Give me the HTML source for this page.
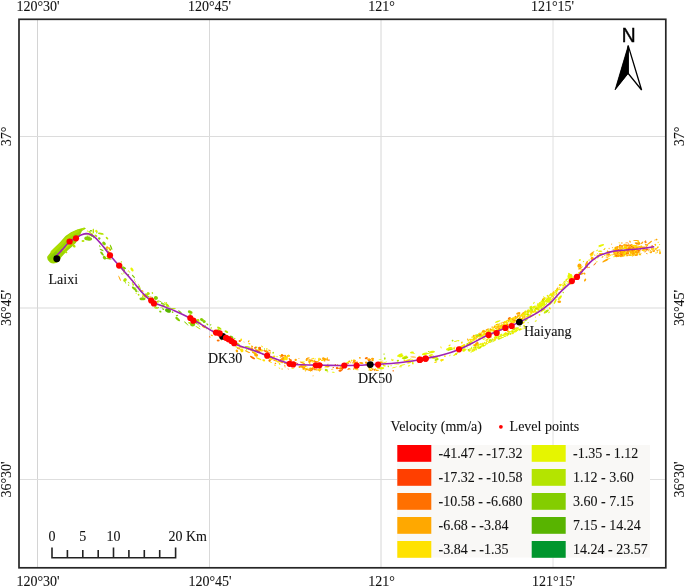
<!DOCTYPE html>
<html><head><meta charset="utf-8"><style>
html,body{margin:0;padding:0;background:#fff;}
svg{display:block;will-change:transform;}
text{font-family:"Liberation Serif",serif;font-size:14px;fill:#111;stroke:#111;stroke-width:0.08px;}
</style></head><body>
<svg width="685" height="588" viewBox="0 0 685 588">
<rect width="685" height="588" fill="#fff"/>
<g stroke-width="1">
<line x1="37.5" y1="20" x2="37.5" y2="567" stroke="#d4d4d4"/>
<line x1="209.5" y1="20" x2="209.5" y2="567" stroke="#d9d9d9"/>
<line x1="381" y1="20" x2="381" y2="567" stroke="#d6d6d6"/>
<line x1="553" y1="20" x2="553" y2="567" stroke="#e0e0e0"/>
<line x1="20" y1="136.5" x2="665" y2="136.5" stroke="#dcdcdc"/>
<line x1="20" y1="308" x2="665" y2="308" stroke="#d9d9d9"/>
<line x1="20" y1="479.5" x2="665" y2="479.5" stroke="#dedede"/>
</g>
<rect x="397" y="445" width="253" height="112.5" fill="#f9f8f6"/>
<!-- green band near Laixi -->
<path d="M47.3 256.5 L53.7 248.6 L60 242.3 L65.5 236.1 L71 232.2 L77.2 229.4 L84.3 227.5 L86 228.5 L82 231 L79.6 236 L75.8 243.1 L72.2 246.6 L66.5 251.4 L61.3 257.3 L59 261.5 Q54 265 50 262.5 Q46.5 260 47.3 256.5 Z" fill="#9dd500"/>
<path d="M52 252 L60 245 L66 239 L72 234 L78 231" stroke="#b2e000" stroke-width="3" fill="none" stroke-linecap="round" opacity="0.8"/>
<path d="M50 259 L56 253" stroke="#86cc00" stroke-width="3" fill="none" stroke-linecap="round" opacity="0.8"/>
<path d="M63 250 L70 244" stroke="#c2e800" stroke-width="2" fill="none" stroke-linecap="round" opacity="0.8"/>
<ellipse cx="89.7" cy="235.8" rx="0.5" ry="1.2" transform="rotate(51 89.7 235.8)" fill="#b4e400"/><ellipse cx="93.7" cy="237.5" rx="0.5" ry="0.9" transform="rotate(28 93.7 237.5)" fill="#84cd00"/><ellipse cx="89.8" cy="232.3" rx="1.6" ry="0.4" transform="rotate(10 89.8 232.3)" fill="#e6f500"/><ellipse cx="95.9" cy="235.7" rx="1.6" ry="0.9" transform="rotate(31 95.9 235.7)" fill="#b4e400"/><ellipse cx="89.6" cy="231.8" rx="1.2" ry="0.5" transform="rotate(9 89.6 231.8)" fill="#84cd00"/><ellipse cx="96.9" cy="232.4" rx="0.5" ry="1.2" transform="rotate(25 96.9 232.4)" fill="#84cd00"/><ellipse cx="88.1" cy="236.9" rx="1.6" ry="0.4" transform="rotate(25 88.1 236.9)" fill="#84cd00"/><ellipse cx="96.3" cy="231.0" rx="1.2" ry="1.2" transform="rotate(28 96.3 231.0)" fill="#e6f500"/><ellipse cx="91.6" cy="234.1" rx="3.0" ry="0.5" transform="rotate(43 91.6 234.1)" fill="#b4e400"/><ellipse cx="90.9" cy="230.8" rx="1.2" ry="0.7" transform="rotate(12 90.9 230.8)" fill="#84cd00"/><ellipse cx="87.6" cy="231.1" rx="0.9" ry="0.5" transform="rotate(11 87.6 231.1)" fill="#e6f500"/><ellipse cx="91.8" cy="235.6" rx="1.6" ry="1.2" transform="rotate(32 91.8 235.6)" fill="#84cd00"/><ellipse cx="99.3" cy="238.4" rx="1.2" ry="1.2" transform="rotate(59 99.3 238.4)" fill="#84cd00"/><ellipse cx="86.8" cy="234.8" rx="2.2" ry="0.4" transform="rotate(18 86.8 234.8)" fill="#b4e400"/><ellipse cx="100.8" cy="233.7" rx="3.0" ry="0.9" transform="rotate(10 100.8 233.7)" fill="#b4e400"/><ellipse cx="92.1" cy="234.0" rx="1.2" ry="0.7" transform="rotate(31 92.1 234.0)" fill="#b4e400"/><ellipse cx="102.1" cy="252.9" rx="0.7" ry="0.5" transform="rotate(61 102.1 252.9)" fill="#84cd00"/><ellipse cx="147.1" cy="294.7" rx="1.2" ry="1.2" transform="rotate(43 147.1 294.7)" fill="#b4e400"/><ellipse cx="109.6" cy="249.1" rx="2.2" ry="0.9" transform="rotate(60 109.6 249.1)" fill="#ffa800"/><ellipse cx="135.4" cy="281.9" rx="0.5" ry="0.5" transform="rotate(57 135.4 281.9)" fill="#b4e400"/><ellipse cx="128.6" cy="285.1" rx="0.7" ry="0.7" transform="rotate(52 128.6 285.1)" fill="#b4e400"/><ellipse cx="110.5" cy="249.3" rx="0.9" ry="0.5" transform="rotate(48 110.5 249.3)" fill="#84cd00"/><ellipse cx="128.3" cy="271.0" rx="0.5" ry="0.9" transform="rotate(34 128.3 271.0)" fill="#e6f500"/><ellipse cx="136.1" cy="291.1" rx="1.2" ry="0.9" transform="rotate(31 136.1 291.1)" fill="#84cd00"/><ellipse cx="105.7" cy="248.7" rx="0.5" ry="0.5" transform="rotate(48 105.7 248.7)" fill="#84cd00"/><ellipse cx="106.4" cy="248.8" rx="1.6" ry="0.5" transform="rotate(48 106.4 248.8)" fill="#84cd00"/><ellipse cx="148.0" cy="296.9" rx="0.7" ry="1.2" transform="rotate(39 148.0 296.9)" fill="#84cd00"/><ellipse cx="128.7" cy="282.6" rx="1.2" ry="0.4" transform="rotate(44 128.7 282.6)" fill="#b4e400"/><ellipse cx="121.9" cy="273.9" rx="0.9" ry="0.4" transform="rotate(46 121.9 273.9)" fill="#b4e400"/><ellipse cx="137.6" cy="286.7" rx="2.2" ry="0.5" transform="rotate(33 137.6 286.7)" fill="#84cd00"/><ellipse cx="108.2" cy="257.4" rx="2.2" ry="1.2" transform="rotate(44 108.2 257.4)" fill="#e6f500"/><ellipse cx="138.9" cy="286.6" rx="0.5" ry="0.7" transform="rotate(70 138.9 286.6)" fill="#84cd00"/><ellipse cx="146.3" cy="294.7" rx="1.6" ry="1.2" transform="rotate(51 146.3 294.7)" fill="#b4e400"/><ellipse cx="108.7" cy="258.8" rx="3.0" ry="0.5" transform="rotate(8 108.7 258.8)" fill="#84cd00"/><ellipse cx="141.0" cy="290.9" rx="1.6" ry="0.9" transform="rotate(39 141.0 290.9)" fill="#b4e400"/><ellipse cx="99.7" cy="246.0" rx="0.9" ry="0.5" transform="rotate(50 99.7 246.0)" fill="#84cd00"/><ellipse cx="152.4" cy="293.0" rx="0.9" ry="0.7" transform="rotate(55 152.4 293.0)" fill="#b4e400"/><ellipse cx="107.2" cy="247.4" rx="1.2" ry="1.2" transform="rotate(55 107.2 247.4)" fill="#ffa800"/><ellipse cx="125.5" cy="282.8" rx="0.9" ry="0.4" transform="rotate(50 125.5 282.8)" fill="#84cd00"/><ellipse cx="108.9" cy="247.9" rx="0.7" ry="0.9" transform="rotate(67 108.9 247.9)" fill="#e6f500"/><ellipse cx="122.3" cy="268.0" rx="2.2" ry="0.9" transform="rotate(44 122.3 268.0)" fill="#84cd00"/><ellipse cx="136.0" cy="287.5" rx="0.7" ry="0.4" transform="rotate(54 136.0 287.5)" fill="#b4e400"/><ellipse cx="144.8" cy="295.9" rx="3.0" ry="1.2" transform="rotate(35 144.8 295.9)" fill="#ffa800"/><ellipse cx="134.6" cy="280.0" rx="0.7" ry="0.4" transform="rotate(65 134.6 280.0)" fill="#b4e400"/><ellipse cx="150.0" cy="297.0" rx="0.7" ry="0.9" transform="rotate(28 150.0 297.0)" fill="#ffa800"/><ellipse cx="109.3" cy="255.3" rx="0.7" ry="0.7" transform="rotate(50 109.3 255.3)" fill="#84cd00"/><ellipse cx="139.5" cy="286.6" rx="3.0" ry="0.5" transform="rotate(67 139.5 286.6)" fill="#b4e400"/><ellipse cx="134.3" cy="288.6" rx="3.0" ry="1.2" transform="rotate(37 134.3 288.6)" fill="#84cd00"/><ellipse cx="148.4" cy="293.4" rx="1.6" ry="1.2" transform="rotate(43 148.4 293.4)" fill="#b4e400"/><ellipse cx="121.9" cy="269.0" rx="3.0" ry="0.5" transform="rotate(50 121.9 269.0)" fill="#b4e400"/><ellipse cx="124.1" cy="270.4" rx="0.9" ry="1.2" transform="rotate(30 124.1 270.4)" fill="#84cd00"/><ellipse cx="123.4" cy="272.0" rx="0.5" ry="0.5" transform="rotate(18 123.4 272.0)" fill="#b4e400"/><ellipse cx="100.0" cy="246.8" rx="0.5" ry="0.4" transform="rotate(62 100.0 246.8)" fill="#84cd00"/><ellipse cx="133.4" cy="276.4" rx="2.2" ry="0.7" transform="rotate(49 133.4 276.4)" fill="#84cd00"/><ellipse cx="132.0" cy="269.5" rx="2.2" ry="1.2" transform="rotate(54 132.0 269.5)" fill="#e6f500"/><ellipse cx="147.3" cy="297.1" rx="0.7" ry="0.9" transform="rotate(62 147.3 297.1)" fill="#b4e400"/><ellipse cx="106.9" cy="249.6" rx="0.7" ry="0.9" transform="rotate(54 106.9 249.6)" fill="#b4e400"/><ellipse cx="132.4" cy="283.0" rx="0.7" ry="0.7" transform="rotate(19 132.4 283.0)" fill="#b4e400"/><ellipse cx="142.7" cy="296.0" rx="0.5" ry="0.9" transform="rotate(41 142.7 296.0)" fill="#e6f500"/><ellipse cx="109.0" cy="252.3" rx="2.2" ry="0.9" transform="rotate(43 109.0 252.3)" fill="#ffa800"/><ellipse cx="122.1" cy="265.2" rx="0.5" ry="0.7" transform="rotate(55 122.1 265.2)" fill="#b4e400"/><ellipse cx="128.1" cy="275.0" rx="0.9" ry="1.2" transform="rotate(50 128.1 275.0)" fill="#84cd00"/><ellipse cx="119.6" cy="278.3" rx="3.0" ry="0.5" transform="rotate(66 119.6 278.3)" fill="#ffa800"/><ellipse cx="105.3" cy="249.1" rx="3.0" ry="0.5" transform="rotate(56 105.3 249.1)" fill="#b4e400"/><ellipse cx="111.1" cy="247.2" rx="3.0" ry="0.7" transform="rotate(68 111.1 247.2)" fill="#84cd00"/><ellipse cx="129.5" cy="272.1" rx="0.9" ry="0.4" transform="rotate(47 129.5 272.1)" fill="#b4e400"/><ellipse cx="138.0" cy="291.5" rx="0.9" ry="0.4" transform="rotate(79 138.0 291.5)" fill="#84cd00"/><ellipse cx="136.2" cy="293.3" rx="0.5" ry="0.7" transform="rotate(65 136.2 293.3)" fill="#e6f500"/><ellipse cx="124.2" cy="268.3" rx="0.9" ry="1.2" transform="rotate(65 124.2 268.3)" fill="#b4e400"/><ellipse cx="126.3" cy="273.9" rx="0.7" ry="0.7" transform="rotate(56 126.3 273.9)" fill="#b4e400"/><ellipse cx="110.8" cy="254.8" rx="3.0" ry="0.5" transform="rotate(60 110.8 254.8)" fill="#b4e400"/><ellipse cx="124.1" cy="273.1" rx="0.5" ry="0.7" transform="rotate(61 124.1 273.1)" fill="#b4e400"/><ellipse cx="107.0" cy="238.2" rx="1.6" ry="0.9" transform="rotate(46 107.0 238.2)" fill="#b4e400"/><ellipse cx="124.1" cy="267.7" rx="2.2" ry="0.9" transform="rotate(30 124.1 267.7)" fill="#84cd00"/><ellipse cx="142.7" cy="296.6" rx="0.7" ry="0.5" transform="rotate(41 142.7 296.6)" fill="#b4e400"/><ellipse cx="142.5" cy="291.0" rx="1.2" ry="0.7" transform="rotate(29 142.5 291.0)" fill="#ffa800"/><ellipse cx="138.6" cy="294.8" rx="0.9" ry="0.9" transform="rotate(52 138.6 294.8)" fill="#b4e400"/><ellipse cx="101.6" cy="249.9" rx="2.2" ry="0.7" transform="rotate(27 101.6 249.9)" fill="#84cd00"/><ellipse cx="133.2" cy="284.7" rx="0.9" ry="0.9" transform="rotate(53 133.2 284.7)" fill="#b4e400"/><ellipse cx="121.3" cy="261.9" rx="0.9" ry="0.5" transform="rotate(87 121.3 261.9)" fill="#b4e400"/><ellipse cx="143.9" cy="294.7" rx="0.9" ry="0.9" transform="rotate(52 143.9 294.7)" fill="#b4e400"/><ellipse cx="167.8" cy="306.7" rx="3.0" ry="0.4" transform="rotate(12 167.8 306.7)" fill="#b4e400"/><ellipse cx="199.4" cy="326.1" rx="1.2" ry="0.4" transform="rotate(47 199.4 326.1)" fill="#b4e400"/><ellipse cx="186.3" cy="323.5" rx="3.0" ry="0.5" transform="rotate(44 186.3 323.5)" fill="#84cd00"/><ellipse cx="193.3" cy="322.3" rx="0.9" ry="0.9" transform="rotate(19 193.3 322.3)" fill="#b4e400"/><ellipse cx="195.2" cy="320.2" rx="3.0" ry="1.2" transform="rotate(26 195.2 320.2)" fill="#84cd00"/><ellipse cx="195.2" cy="321.6" rx="1.6" ry="1.2" transform="rotate(22 195.2 321.6)" fill="#84cd00"/><ellipse cx="198.0" cy="327.7" rx="3.0" ry="0.5" transform="rotate(34 198.0 327.7)" fill="#b4e400"/><ellipse cx="155.6" cy="297.7" rx="1.2" ry="0.9" transform="rotate(8 155.6 297.7)" fill="#84cd00"/><ellipse cx="190.3" cy="314.6" rx="1.2" ry="0.7" transform="rotate(9 190.3 314.6)" fill="#b4e400"/><ellipse cx="199.5" cy="323.3" rx="1.6" ry="0.4" transform="rotate(12 199.5 323.3)" fill="#84cd00"/><ellipse cx="154.2" cy="302.5" rx="0.5" ry="0.7" transform="rotate(10 154.2 302.5)" fill="#b4e400"/><ellipse cx="196.6" cy="322.3" rx="1.2" ry="0.9" transform="rotate(51 196.6 322.3)" fill="#84cd00"/><ellipse cx="154.0" cy="304.9" rx="0.5" ry="1.2" transform="rotate(15 154.0 304.9)" fill="#84cd00"/><ellipse cx="163.1" cy="303.9" rx="2.2" ry="0.7" transform="rotate(14 163.1 303.9)" fill="#84cd00"/><ellipse cx="159.5" cy="301.1" rx="2.2" ry="0.4" transform="rotate(23 159.5 301.1)" fill="#84cd00"/><ellipse cx="192.3" cy="318.2" rx="1.2" ry="0.9" transform="rotate(47 192.3 318.2)" fill="#84cd00"/><ellipse cx="156.8" cy="305.4" rx="0.5" ry="0.9" transform="rotate(15 156.8 305.4)" fill="#b4e400"/><ellipse cx="177.0" cy="315.6" rx="1.2" ry="0.7" transform="rotate(-11 177.0 315.6)" fill="#84cd00"/><ellipse cx="206.3" cy="328.7" rx="0.5" ry="0.5" transform="rotate(29 206.3 328.7)" fill="#84cd00"/><ellipse cx="167.2" cy="305.1" rx="2.2" ry="1.2" transform="rotate(38 167.2 305.1)" fill="#b4e400"/><ellipse cx="157.8" cy="301.7" rx="1.2" ry="0.9" transform="rotate(34 157.8 301.7)" fill="#b4e400"/><ellipse cx="152.2" cy="297.3" rx="0.9" ry="0.5" transform="rotate(38 152.2 297.3)" fill="#84cd00"/><ellipse cx="172.6" cy="312.1" rx="0.9" ry="0.7" transform="rotate(31 172.6 312.1)" fill="#84cd00"/><ellipse cx="155.9" cy="308.0" rx="2.2" ry="0.7" transform="rotate(11 155.9 308.0)" fill="#b4e400"/><ellipse cx="155.7" cy="298.3" rx="0.5" ry="0.7" transform="rotate(40 155.7 298.3)" fill="#e6f500"/><ellipse cx="196.1" cy="323.1" rx="0.5" ry="0.7" transform="rotate(20 196.1 323.1)" fill="#84cd00"/><ellipse cx="158.1" cy="307.6" rx="0.9" ry="0.5" transform="rotate(18 158.1 307.6)" fill="#84cd00"/><ellipse cx="199.0" cy="322.3" rx="3.0" ry="0.9" transform="rotate(31 199.0 322.3)" fill="#e6f500"/><ellipse cx="210.7" cy="324.8" rx="0.5" ry="0.9" transform="rotate(24 210.7 324.8)" fill="#84cd00"/><ellipse cx="197.4" cy="320.4" rx="0.5" ry="1.2" transform="rotate(20 197.4 320.4)" fill="#b4e400"/><ellipse cx="179.9" cy="311.7" rx="2.2" ry="0.7" transform="rotate(36 179.9 311.7)" fill="#84cd00"/><ellipse cx="166.4" cy="302.8" rx="0.5" ry="0.5" transform="rotate(24 166.4 302.8)" fill="#84cd00"/><ellipse cx="156.6" cy="297.8" rx="1.6" ry="0.5" transform="rotate(21 156.6 297.8)" fill="#84cd00"/><ellipse cx="170.6" cy="309.4" rx="1.6" ry="0.5" transform="rotate(6 170.6 309.4)" fill="#b4e400"/><ellipse cx="161.7" cy="303.0" rx="0.9" ry="0.7" transform="rotate(17 161.7 303.0)" fill="#84cd00"/><ellipse cx="160.3" cy="311.6" rx="1.2" ry="0.9" transform="rotate(26 160.3 311.6)" fill="#84cd00"/><ellipse cx="163.3" cy="305.6" rx="1.2" ry="0.7" transform="rotate(47 163.3 305.6)" fill="#84cd00"/><ellipse cx="172.9" cy="308.6" rx="3.0" ry="0.5" transform="rotate(5 172.9 308.6)" fill="#b4e400"/><ellipse cx="207.3" cy="324.3" rx="1.2" ry="0.7" transform="rotate(46 207.3 324.3)" fill="#84cd00"/><ellipse cx="203.7" cy="326.8" rx="2.2" ry="0.9" transform="rotate(32 203.7 326.8)" fill="#ffa800"/><ellipse cx="177.7" cy="319.1" rx="3.0" ry="1.2" transform="rotate(40 177.7 319.1)" fill="#84cd00"/><ellipse cx="210.3" cy="329.9" rx="0.7" ry="0.5" transform="rotate(39 210.3 329.9)" fill="#84cd00"/><ellipse cx="190.1" cy="323.2" rx="2.2" ry="0.9" transform="rotate(21 190.1 323.2)" fill="#b4e400"/><ellipse cx="197.4" cy="323.9" rx="1.6" ry="0.4" transform="rotate(29 197.4 323.9)" fill="#84cd00"/><ellipse cx="168.2" cy="310.0" rx="2.2" ry="0.9" transform="rotate(30 168.2 310.0)" fill="#84cd00"/><ellipse cx="155.8" cy="306.9" rx="1.6" ry="0.5" transform="rotate(29 155.8 306.9)" fill="#84cd00"/><ellipse cx="164.0" cy="306.2" rx="0.9" ry="0.9" transform="rotate(21 164.0 306.2)" fill="#b4e400"/><ellipse cx="169.2" cy="309.9" rx="1.6" ry="0.5" transform="rotate(12 169.2 309.9)" fill="#84cd00"/><ellipse cx="154.0" cy="298.2" rx="0.5" ry="0.4" transform="rotate(48 154.0 298.2)" fill="#b4e400"/><ellipse cx="205.2" cy="325.9" rx="0.7" ry="0.9" transform="rotate(27 205.2 325.9)" fill="#e6f500"/><ellipse cx="163.1" cy="309.1" rx="1.2" ry="0.7" transform="rotate(25 163.1 309.1)" fill="#84cd00"/><ellipse cx="161.7" cy="307.2" rx="1.6" ry="0.4" transform="rotate(-2 161.7 307.2)" fill="#b4e400"/><ellipse cx="211.2" cy="328.0" rx="0.7" ry="0.9" transform="rotate(57 211.2 328.0)" fill="#b4e400"/><ellipse cx="198.2" cy="320.2" rx="1.2" ry="1.2" transform="rotate(65 198.2 320.2)" fill="#b4e400"/><ellipse cx="165.3" cy="303.0" rx="1.6" ry="0.5" transform="rotate(33 165.3 303.0)" fill="#e6f500"/><ellipse cx="211.7" cy="335.4" rx="1.2" ry="0.4" transform="rotate(31 211.7 335.4)" fill="#ff7000"/><ellipse cx="219.2" cy="329.8" rx="0.9" ry="0.4" transform="rotate(35 219.2 329.8)" fill="#ffe200"/><ellipse cx="238.4" cy="344.2" rx="1.6" ry="0.9" transform="rotate(28 238.4 344.2)" fill="#b4e400"/><ellipse cx="231.6" cy="339.3" rx="0.9" ry="0.9" transform="rotate(40 231.6 339.3)" fill="#b4e400"/><ellipse cx="212.4" cy="330.5" rx="0.5" ry="1.2" transform="rotate(45 212.4 330.5)" fill="#ffe200"/><ellipse cx="219.4" cy="331.0" rx="3.0" ry="0.9" transform="rotate(49 219.4 331.0)" fill="#b4e400"/><ellipse cx="231.1" cy="342.9" rx="1.2" ry="0.5" transform="rotate(47 231.1 342.9)" fill="#b4e400"/><ellipse cx="234.7" cy="338.7" rx="0.7" ry="0.9" transform="rotate(33 234.7 338.7)" fill="#b4e400"/><ellipse cx="209.7" cy="336.9" rx="0.9" ry="0.5" transform="rotate(44 209.7 336.9)" fill="#ff7000"/><ellipse cx="237.6" cy="343.5" rx="1.6" ry="0.4" transform="rotate(30 237.6 343.5)" fill="#b4e400"/><ellipse cx="232.5" cy="341.1" rx="0.5" ry="1.2" transform="rotate(41 232.5 341.1)" fill="#ffe200"/><ellipse cx="229.4" cy="341.2" rx="0.7" ry="0.4" transform="rotate(28 229.4 341.2)" fill="#ffa800"/><ellipse cx="237.8" cy="348.0" rx="0.9" ry="0.9" transform="rotate(15 237.8 348.0)" fill="#ff7000"/><ellipse cx="215.9" cy="332.7" rx="2.2" ry="0.7" transform="rotate(28 215.9 332.7)" fill="#ff7000"/><ellipse cx="234.7" cy="341.1" rx="0.9" ry="0.9" transform="rotate(21 234.7 341.1)" fill="#ffa800"/><ellipse cx="233.0" cy="344.6" rx="3.0" ry="0.5" transform="rotate(34 233.0 344.6)" fill="#b4e400"/><ellipse cx="212.1" cy="335.3" rx="0.9" ry="0.5" transform="rotate(32 212.1 335.3)" fill="#ffe200"/><ellipse cx="236.0" cy="346.8" rx="0.5" ry="0.5" transform="rotate(19 236.0 346.8)" fill="#b4e400"/><ellipse cx="226.4" cy="337.8" rx="0.7" ry="0.5" transform="rotate(14 226.4 337.8)" fill="#ffa800"/><ellipse cx="230.5" cy="338.5" rx="3.0" ry="0.4" transform="rotate(8 230.5 338.5)" fill="#ff7000"/><ellipse cx="220.4" cy="335.0" rx="0.9" ry="0.7" transform="rotate(39 220.4 335.0)" fill="#b4e400"/><ellipse cx="218.9" cy="334.7" rx="1.6" ry="0.5" transform="rotate(36 218.9 334.7)" fill="#b4e400"/><ellipse cx="221.3" cy="340.0" rx="0.7" ry="0.4" transform="rotate(29 221.3 340.0)" fill="#ffa800"/><ellipse cx="238.8" cy="348.2" rx="3.0" ry="0.5" transform="rotate(30 238.8 348.2)" fill="#ffe200"/><ellipse cx="236.8" cy="347.1" rx="0.5" ry="0.4" transform="rotate(23 236.8 347.1)" fill="#b4e400"/><ellipse cx="241.2" cy="339.8" rx="0.9" ry="1.2" transform="rotate(2 241.2 339.8)" fill="#ffe200"/><ellipse cx="224.7" cy="337.4" rx="0.5" ry="0.4" transform="rotate(56 224.7 337.4)" fill="#ffa800"/><ellipse cx="232.1" cy="341.5" rx="0.9" ry="0.5" transform="rotate(33 232.1 341.5)" fill="#b4e400"/><ellipse cx="288.2" cy="369.0" rx="0.7" ry="0.4" transform="rotate(25 288.2 369.0)" fill="#ff7000"/><ellipse cx="261.7" cy="350.0" rx="0.5" ry="0.5" transform="rotate(36 261.7 350.0)" fill="#ffa800"/><ellipse cx="266.1" cy="351.4" rx="3.0" ry="0.9" transform="rotate(23 266.1 351.4)" fill="#ff7000"/><ellipse cx="249.4" cy="343.7" rx="1.2" ry="0.7" transform="rotate(15 249.4 343.7)" fill="#ffe200"/><ellipse cx="255.3" cy="347.8" rx="0.9" ry="1.2" transform="rotate(56 255.3 347.8)" fill="#ff3f00"/><ellipse cx="258.6" cy="358.7" rx="3.0" ry="0.7" transform="rotate(24 258.6 358.7)" fill="#ffe200"/><ellipse cx="262.0" cy="346.3" rx="1.2" ry="0.5" transform="rotate(41 262.0 346.3)" fill="#ffe200"/><ellipse cx="283.0" cy="355.1" rx="1.2" ry="0.5" transform="rotate(36 283.0 355.1)" fill="#ffa800"/><ellipse cx="241.3" cy="350.4" rx="1.2" ry="0.4" transform="rotate(41 241.3 350.4)" fill="#ffe200"/><ellipse cx="286.4" cy="362.4" rx="0.9" ry="0.7" transform="rotate(10 286.4 362.4)" fill="#ffa800"/><ellipse cx="247.5" cy="351.7" rx="3.0" ry="0.5" transform="rotate(25 247.5 351.7)" fill="#ffa800"/><ellipse cx="279.4" cy="368.1" rx="0.9" ry="0.4" transform="rotate(28 279.4 368.1)" fill="#ffe200"/><ellipse cx="270.2" cy="361.8" rx="2.2" ry="0.5" transform="rotate(32 270.2 361.8)" fill="#ffe200"/><ellipse cx="284.0" cy="358.1" rx="0.7" ry="0.9" transform="rotate(5 284.0 358.1)" fill="#ffa800"/><ellipse cx="252.0" cy="346.3" rx="1.2" ry="0.7" transform="rotate(30 252.0 346.3)" fill="#ffa800"/><ellipse cx="252.7" cy="348.9" rx="0.5" ry="1.2" transform="rotate(-12 252.7 348.9)" fill="#ff7000"/><ellipse cx="274.1" cy="356.6" rx="1.2" ry="1.2" transform="rotate(9 274.1 356.6)" fill="#ffe200"/><ellipse cx="282.2" cy="362.1" rx="0.9" ry="1.2" transform="rotate(-2 282.2 362.1)" fill="#ffa800"/><ellipse cx="260.5" cy="350.1" rx="0.7" ry="0.4" transform="rotate(34 260.5 350.1)" fill="#ffa800"/><ellipse cx="290.5" cy="360.1" rx="1.6" ry="0.9" transform="rotate(22 290.5 360.1)" fill="#ff7000"/><ellipse cx="280.9" cy="359.6" rx="0.9" ry="0.9" transform="rotate(22 280.9 359.6)" fill="#ffa800"/><ellipse cx="281.8" cy="355.6" rx="0.5" ry="0.5" transform="rotate(18 281.8 355.6)" fill="#ffa800"/><ellipse cx="276.4" cy="359.9" rx="0.5" ry="1.2" transform="rotate(2 276.4 359.9)" fill="#e6f500"/><ellipse cx="272.6" cy="357.9" rx="0.5" ry="1.2" transform="rotate(17 272.6 357.9)" fill="#ff7000"/><ellipse cx="279.6" cy="363.9" rx="1.2" ry="0.7" transform="rotate(59 279.6 363.9)" fill="#e6f500"/><ellipse cx="284.8" cy="365.4" rx="0.7" ry="0.4" transform="rotate(42 284.8 365.4)" fill="#ff7000"/><ellipse cx="270.5" cy="356.9" rx="1.6" ry="0.7" transform="rotate(33 270.5 356.9)" fill="#e6f500"/><ellipse cx="262.9" cy="353.8" rx="1.2" ry="0.5" transform="rotate(60 262.9 353.8)" fill="#ffe200"/><ellipse cx="270.7" cy="357.3" rx="0.7" ry="0.5" transform="rotate(35 270.7 357.3)" fill="#ffe200"/><ellipse cx="272.0" cy="356.9" rx="1.2" ry="0.5" transform="rotate(33 272.0 356.9)" fill="#ff7000"/><ellipse cx="253.2" cy="350.5" rx="3.0" ry="0.7" transform="rotate(15 253.2 350.5)" fill="#b4e400"/><ellipse cx="264.5" cy="349.0" rx="0.5" ry="0.7" transform="rotate(18 264.5 349.0)" fill="#b4e400"/><ellipse cx="273.2" cy="352.7" rx="0.9" ry="0.9" transform="rotate(37 273.2 352.7)" fill="#b4e400"/><ellipse cx="270.2" cy="352.7" rx="1.2" ry="0.5" transform="rotate(40 270.2 352.7)" fill="#ffa800"/><ellipse cx="275.0" cy="365.2" rx="0.9" ry="0.7" transform="rotate(28 275.0 365.2)" fill="#ffe200"/><ellipse cx="290.6" cy="359.4" rx="0.9" ry="0.4" transform="rotate(8 290.6 359.4)" fill="#ff7000"/><ellipse cx="251.5" cy="348.4" rx="1.2" ry="1.2" transform="rotate(40 251.5 348.4)" fill="#ffa800"/><ellipse cx="244.0" cy="342.0" rx="0.5" ry="0.4" transform="rotate(21 244.0 342.0)" fill="#ffa800"/><ellipse cx="268.8" cy="354.8" rx="1.6" ry="0.5" transform="rotate(37 268.8 354.8)" fill="#ffe200"/><ellipse cx="254.3" cy="353.1" rx="3.0" ry="0.9" transform="rotate(32 254.3 353.1)" fill="#ffa800"/><ellipse cx="240.1" cy="347.6" rx="1.2" ry="0.4" transform="rotate(-3 240.1 347.6)" fill="#ffa800"/><ellipse cx="247.7" cy="346.9" rx="3.0" ry="0.7" transform="rotate(9 247.7 346.9)" fill="#b4e400"/><ellipse cx="241.7" cy="349.7" rx="1.6" ry="1.2" transform="rotate(-9 241.7 349.7)" fill="#ffe200"/><ellipse cx="286.9" cy="362.5" rx="0.5" ry="0.4" transform="rotate(8 286.9 362.5)" fill="#ffa800"/><ellipse cx="241.0" cy="346.9" rx="3.0" ry="0.4" transform="rotate(28 241.0 346.9)" fill="#ffa800"/><ellipse cx="266.9" cy="357.5" rx="0.7" ry="1.2" transform="rotate(17 266.9 357.5)" fill="#ffe200"/><ellipse cx="266.8" cy="351.2" rx="0.7" ry="1.2" transform="rotate(-0 266.8 351.2)" fill="#ffa800"/><ellipse cx="252.5" cy="357.6" rx="3.0" ry="0.9" transform="rotate(30 252.5 357.6)" fill="#ff7000"/><ellipse cx="239.2" cy="348.9" rx="1.2" ry="0.4" transform="rotate(-1 239.2 348.9)" fill="#ff7000"/><ellipse cx="262.5" cy="354.2" rx="0.7" ry="0.4" transform="rotate(28 262.5 354.2)" fill="#ffa800"/><ellipse cx="282.1" cy="369.0" rx="0.9" ry="0.4" transform="rotate(3 282.1 369.0)" fill="#ffa800"/><ellipse cx="269.6" cy="350.5" rx="1.6" ry="0.7" transform="rotate(31 269.6 350.5)" fill="#ffa800"/><ellipse cx="286.1" cy="363.7" rx="1.6" ry="0.4" transform="rotate(15 286.1 363.7)" fill="#ffa800"/><ellipse cx="284.8" cy="363.4" rx="0.7" ry="0.7" transform="rotate(10 284.8 363.4)" fill="#ffa800"/><ellipse cx="260.4" cy="350.2" rx="3.0" ry="1.2" transform="rotate(12 260.4 350.2)" fill="#ffe200"/><ellipse cx="282.7" cy="359.0" rx="1.2" ry="0.5" transform="rotate(-9 282.7 359.0)" fill="#ffe200"/><ellipse cx="255.0" cy="352.3" rx="0.5" ry="1.2" transform="rotate(41 255.0 352.3)" fill="#e6f500"/><ellipse cx="246.7" cy="349.8" rx="0.7" ry="0.7" transform="rotate(21 246.7 349.8)" fill="#b4e400"/><ellipse cx="274.4" cy="360.3" rx="2.2" ry="0.4" transform="rotate(22 274.4 360.3)" fill="#ff7000"/><ellipse cx="275.4" cy="363.3" rx="0.9" ry="0.5" transform="rotate(28 275.4 363.3)" fill="#ff7000"/><ellipse cx="280.7" cy="361.7" rx="3.0" ry="0.9" transform="rotate(15 280.7 361.7)" fill="#ffa800"/><ellipse cx="250.1" cy="350.0" rx="3.0" ry="0.4" transform="rotate(22 250.1 350.0)" fill="#ff7000"/><ellipse cx="271.7" cy="357.0" rx="0.5" ry="0.5" transform="rotate(27 271.7 357.0)" fill="#ffa800"/><ellipse cx="256.9" cy="351.5" rx="0.9" ry="0.4" transform="rotate(35 256.9 351.5)" fill="#ff7000"/><ellipse cx="259.8" cy="348.7" rx="1.6" ry="0.9" transform="rotate(56 259.8 348.7)" fill="#ff3f00"/><ellipse cx="269.7" cy="360.4" rx="1.2" ry="1.2" transform="rotate(23 269.7 360.4)" fill="#ff7000"/><ellipse cx="257.8" cy="350.8" rx="0.7" ry="0.4" transform="rotate(3 257.8 350.8)" fill="#ffe200"/><ellipse cx="255.8" cy="347.1" rx="0.9" ry="0.4" transform="rotate(28 255.8 347.1)" fill="#ffa800"/><ellipse cx="266.8" cy="348.9" rx="0.7" ry="0.9" transform="rotate(22 266.8 348.9)" fill="#ffe200"/><ellipse cx="289.3" cy="358.8" rx="0.7" ry="0.7" transform="rotate(17 289.3 358.8)" fill="#ff7000"/><ellipse cx="286.8" cy="363.0" rx="2.2" ry="0.4" transform="rotate(28 286.8 363.0)" fill="#ffe200"/><ellipse cx="290.1" cy="362.2" rx="0.9" ry="0.7" transform="rotate(16 290.1 362.2)" fill="#ffa800"/><ellipse cx="285.0" cy="366.9" rx="1.2" ry="0.4" transform="rotate(3 285.0 366.9)" fill="#ffa800"/><ellipse cx="256.6" cy="347.4" rx="0.7" ry="0.9" transform="rotate(29 256.6 347.4)" fill="#b4e400"/><ellipse cx="270.9" cy="358.9" rx="1.6" ry="1.2" transform="rotate(17 270.9 358.9)" fill="#ffe200"/><ellipse cx="257.8" cy="351.1" rx="3.0" ry="0.9" transform="rotate(29 257.8 351.1)" fill="#ff7000"/><ellipse cx="276.5" cy="361.0" rx="3.0" ry="0.7" transform="rotate(34 276.5 361.0)" fill="#ffe200"/><ellipse cx="248.7" cy="341.3" rx="0.7" ry="1.2" transform="rotate(27 248.7 341.3)" fill="#ffa800"/><ellipse cx="255.8" cy="349.2" rx="0.7" ry="0.5" transform="rotate(-7 255.8 349.2)" fill="#b4e400"/><ellipse cx="277.0" cy="356.6" rx="0.7" ry="0.7" transform="rotate(12 277.0 356.6)" fill="#e6f500"/><ellipse cx="313.1" cy="375.9" rx="0.7" ry="0.4" transform="rotate(-13 313.1 375.9)" fill="#ffa800"/><ellipse cx="303.6" cy="366.6" rx="0.9" ry="0.9" transform="rotate(11 303.6 366.6)" fill="#ffa800"/><ellipse cx="299.7" cy="367.0" rx="1.2" ry="0.9" transform="rotate(-2 299.7 367.0)" fill="#ffa800"/><ellipse cx="325.9" cy="366.6" rx="1.6" ry="0.7" transform="rotate(-21 325.9 366.6)" fill="#ffe200"/><ellipse cx="302.8" cy="362.0" rx="2.2" ry="0.5" transform="rotate(-8 302.8 362.0)" fill="#e6f500"/><ellipse cx="328.8" cy="360.1" rx="1.2" ry="0.5" transform="rotate(-10 328.8 360.1)" fill="#ff7000"/><ellipse cx="348.8" cy="369.0" rx="1.6" ry="0.5" transform="rotate(-16 348.8 369.0)" fill="#ff7000"/><ellipse cx="347.7" cy="362.5" rx="2.2" ry="0.4" transform="rotate(3 347.7 362.5)" fill="#e6f500"/><ellipse cx="311.9" cy="360.5" rx="0.7" ry="0.7" transform="rotate(15 311.9 360.5)" fill="#ff3f00"/><ellipse cx="333.3" cy="372.2" rx="1.6" ry="0.5" transform="rotate(5 333.3 372.2)" fill="#e6f500"/><ellipse cx="319.4" cy="371.7" rx="0.5" ry="0.4" transform="rotate(3 319.4 371.7)" fill="#ffa800"/><ellipse cx="309.6" cy="363.1" rx="0.7" ry="1.2" transform="rotate(-35 309.6 363.1)" fill="#ffe200"/><ellipse cx="366.1" cy="362.6" rx="1.2" ry="1.2" transform="rotate(-1 366.1 362.6)" fill="#ffa800"/><ellipse cx="361.3" cy="363.0" rx="2.2" ry="0.9" transform="rotate(9 361.3 363.0)" fill="#ffa800"/><ellipse cx="351.5" cy="360.7" rx="0.5" ry="1.2" transform="rotate(15 351.5 360.7)" fill="#ffe200"/><ellipse cx="295.1" cy="363.7" rx="0.5" ry="0.4" transform="rotate(19 295.1 363.7)" fill="#ffe200"/><ellipse cx="327.9" cy="364.2" rx="0.9" ry="0.4" transform="rotate(-12 327.9 364.2)" fill="#ffa800"/><ellipse cx="356.8" cy="369.3" rx="0.7" ry="0.9" transform="rotate(-8 356.8 369.3)" fill="#ffe200"/><ellipse cx="304.8" cy="366.0" rx="3.0" ry="0.5" transform="rotate(-1 304.8 366.0)" fill="#ffe200"/><ellipse cx="340.6" cy="366.8" rx="0.9" ry="0.9" transform="rotate(39 340.6 366.8)" fill="#ffe200"/><ellipse cx="316.5" cy="363.3" rx="3.0" ry="0.9" transform="rotate(-1 316.5 363.3)" fill="#ffe200"/><ellipse cx="366.5" cy="364.5" rx="0.9" ry="0.9" transform="rotate(10 366.5 364.5)" fill="#ff7000"/><ellipse cx="333.3" cy="367.5" rx="0.9" ry="0.5" transform="rotate(-24 333.3 367.5)" fill="#ff7000"/><ellipse cx="318.9" cy="360.2" rx="0.5" ry="0.7" transform="rotate(3 318.9 360.2)" fill="#ffa800"/><ellipse cx="317.3" cy="364.0" rx="1.6" ry="0.7" transform="rotate(5 317.3 364.0)" fill="#ff7000"/><ellipse cx="302.6" cy="367.2" rx="0.5" ry="0.4" transform="rotate(-17 302.6 367.2)" fill="#ffa800"/><ellipse cx="296.6" cy="363.1" rx="1.6" ry="0.5" transform="rotate(24 296.6 363.1)" fill="#ff3f00"/><ellipse cx="306.8" cy="359.0" rx="0.7" ry="0.9" transform="rotate(9 306.8 359.0)" fill="#ff7000"/><ellipse cx="305.0" cy="368.6" rx="3.0" ry="0.4" transform="rotate(-12 305.0 368.6)" fill="#ff7000"/><ellipse cx="370.5" cy="366.2" rx="0.7" ry="0.9" transform="rotate(-30 370.5 366.2)" fill="#ff7000"/><ellipse cx="337.8" cy="365.2" rx="0.5" ry="1.2" transform="rotate(-15 337.8 365.2)" fill="#ffa800"/><ellipse cx="327.7" cy="367.1" rx="1.6" ry="0.4" transform="rotate(-14 327.7 367.1)" fill="#ffe200"/><ellipse cx="371.5" cy="363.7" rx="0.7" ry="1.2" transform="rotate(-13 371.5 363.7)" fill="#ffe200"/><ellipse cx="356.1" cy="366.9" rx="2.2" ry="1.2" transform="rotate(10 356.1 366.9)" fill="#ffe200"/><ellipse cx="316.8" cy="361.5" rx="2.2" ry="0.4" transform="rotate(4 316.8 361.5)" fill="#ffa800"/><ellipse cx="322.4" cy="364.7" rx="0.5" ry="0.7" transform="rotate(-1 322.4 364.7)" fill="#ff7000"/><ellipse cx="298.9" cy="358.7" rx="0.7" ry="0.4" transform="rotate(7 298.9 358.7)" fill="#ffa800"/><ellipse cx="327.4" cy="366.3" rx="2.2" ry="0.7" transform="rotate(6 327.4 366.3)" fill="#ffa800"/><ellipse cx="359.9" cy="357.9" rx="0.9" ry="0.9" transform="rotate(-12 359.9 357.9)" fill="#ffa800"/><ellipse cx="312.6" cy="367.7" rx="0.9" ry="0.9" transform="rotate(5 312.6 367.7)" fill="#ffe200"/><ellipse cx="335.3" cy="364.8" rx="0.7" ry="0.9" transform="rotate(19 335.3 364.8)" fill="#ff7000"/><ellipse cx="319.8" cy="363.9" rx="1.6" ry="0.4" transform="rotate(13 319.8 363.9)" fill="#ff7000"/><ellipse cx="293.7" cy="362.9" rx="1.6" ry="1.2" transform="rotate(-26 293.7 362.9)" fill="#ffa800"/><ellipse cx="317.0" cy="367.3" rx="1.2" ry="1.2" transform="rotate(1 317.0 367.3)" fill="#ff7000"/><ellipse cx="295.7" cy="359.9" rx="1.2" ry="1.2" transform="rotate(4 295.7 359.9)" fill="#ffa800"/><ellipse cx="350.6" cy="362.7" rx="0.5" ry="0.5" transform="rotate(-29 350.6 362.7)" fill="#ffa800"/><ellipse cx="347.0" cy="363.9" rx="2.2" ry="0.5" transform="rotate(-8 347.0 363.9)" fill="#ff3f00"/><ellipse cx="327.8" cy="371.8" rx="0.5" ry="0.7" transform="rotate(21 327.8 371.8)" fill="#e6f500"/><ellipse cx="302.5" cy="362.8" rx="3.0" ry="0.7" transform="rotate(23 302.5 362.8)" fill="#ffa800"/><ellipse cx="292.7" cy="368.6" rx="1.6" ry="0.4" transform="rotate(7 292.7 368.6)" fill="#ffe200"/><ellipse cx="337.0" cy="368.1" rx="1.2" ry="1.2" transform="rotate(-22 337.0 368.1)" fill="#ff7000"/><ellipse cx="326.3" cy="370.1" rx="1.6" ry="1.2" transform="rotate(10 326.3 370.1)" fill="#b4e400"/><ellipse cx="349.4" cy="368.8" rx="1.6" ry="0.4" transform="rotate(20 349.4 368.8)" fill="#ffa800"/><ellipse cx="332.4" cy="369.2" rx="1.2" ry="0.4" transform="rotate(-12 332.4 369.2)" fill="#ffa800"/><ellipse cx="441.5" cy="361.2" rx="0.7" ry="0.4" transform="rotate(-15 441.5 361.2)" fill="#e6f500"/><ellipse cx="381.5" cy="362.6" rx="2.2" ry="0.5" transform="rotate(-15 381.5 362.6)" fill="#ffa800"/><ellipse cx="412.8" cy="359.7" rx="0.7" ry="0.4" transform="rotate(-31 412.8 359.7)" fill="#e6f500"/><ellipse cx="428.8" cy="351.5" rx="0.9" ry="0.4" transform="rotate(-12 428.8 351.5)" fill="#b4e400"/><ellipse cx="381.3" cy="368.2" rx="3.0" ry="1.2" transform="rotate(-2 381.3 368.2)" fill="#e6f500"/><ellipse cx="407.8" cy="360.3" rx="3.0" ry="0.9" transform="rotate(-17 407.8 360.3)" fill="#ffe200"/><ellipse cx="409.1" cy="365.8" rx="1.2" ry="0.5" transform="rotate(-16 409.1 365.8)" fill="#e6f500"/><ellipse cx="450.4" cy="347.8" rx="2.2" ry="0.9" transform="rotate(-2 450.4 347.8)" fill="#e6f500"/><ellipse cx="448.9" cy="349.0" rx="3.0" ry="1.2" transform="rotate(-15 448.9 349.0)" fill="#e6f500"/><ellipse cx="404.5" cy="357.3" rx="3.0" ry="1.2" transform="rotate(-23 404.5 357.3)" fill="#e6f500"/><ellipse cx="435.7" cy="362.1" rx="1.6" ry="0.7" transform="rotate(-16 435.7 362.1)" fill="#ffe200"/><ellipse cx="467.5" cy="344.3" rx="1.2" ry="1.2" transform="rotate(-11 467.5 344.3)" fill="#b4e400"/><ellipse cx="400.2" cy="356.5" rx="0.9" ry="0.7" transform="rotate(-1 400.2 356.5)" fill="#e6f500"/><ellipse cx="394.5" cy="367.4" rx="3.0" ry="0.4" transform="rotate(-16 394.5 367.4)" fill="#e6f500"/><ellipse cx="393.2" cy="370.8" rx="0.7" ry="0.7" transform="rotate(-34 393.2 370.8)" fill="#ff7000"/><ellipse cx="449.6" cy="345.4" rx="1.2" ry="0.7" transform="rotate(-26 449.6 345.4)" fill="#ffe200"/><ellipse cx="427.7" cy="353.6" rx="3.0" ry="0.5" transform="rotate(-11 427.7 353.6)" fill="#e6f500"/><ellipse cx="384.8" cy="358.5" rx="0.9" ry="1.2" transform="rotate(10 384.8 358.5)" fill="#b4e400"/><ellipse cx="450.5" cy="349.7" rx="3.0" ry="0.7" transform="rotate(-17 450.5 349.7)" fill="#b4e400"/><ellipse cx="399.9" cy="355.1" rx="3.0" ry="1.2" transform="rotate(-24 399.9 355.1)" fill="#e6f500"/><ellipse cx="425.5" cy="358.3" rx="0.5" ry="0.5" transform="rotate(-1 425.5 358.3)" fill="#b4e400"/><ellipse cx="405.5" cy="357.9" rx="3.0" ry="1.2" transform="rotate(-15 405.5 357.9)" fill="#b4e400"/><ellipse cx="402.5" cy="365.0" rx="3.0" ry="0.4" transform="rotate(-16 402.5 365.0)" fill="#e6f500"/><ellipse cx="422.0" cy="360.9" rx="0.5" ry="0.7" transform="rotate(-4 422.0 360.9)" fill="#e6f500"/><ellipse cx="434.8" cy="357.6" rx="3.0" ry="1.2" transform="rotate(-7 434.8 357.6)" fill="#e6f500"/><ellipse cx="430.7" cy="356.0" rx="1.2" ry="0.4" transform="rotate(14 430.7 356.0)" fill="#ffa800"/><ellipse cx="449.9" cy="355.4" rx="0.9" ry="0.4" transform="rotate(-54 449.9 355.4)" fill="#e6f500"/><ellipse cx="468.8" cy="342.9" rx="0.5" ry="1.2" transform="rotate(-23 468.8 342.9)" fill="#e6f500"/><ellipse cx="441.0" cy="347.3" rx="0.5" ry="1.2" transform="rotate(-16 441.0 347.3)" fill="#ffe200"/><ellipse cx="462.4" cy="346.2" rx="0.9" ry="1.2" transform="rotate(-32 462.4 346.2)" fill="#e6f500"/><ellipse cx="388.3" cy="366.3" rx="0.7" ry="0.9" transform="rotate(-13 388.3 366.3)" fill="#b4e400"/><ellipse cx="413.3" cy="360.3" rx="0.7" ry="0.4" transform="rotate(16 413.3 360.3)" fill="#ffa800"/><ellipse cx="466.1" cy="349.5" rx="0.5" ry="0.4" transform="rotate(-19 466.1 349.5)" fill="#e6f500"/><ellipse cx="425.9" cy="357.0" rx="1.2" ry="0.4" transform="rotate(-36 425.9 357.0)" fill="#e6f500"/><ellipse cx="408.8" cy="362.8" rx="2.2" ry="0.7" transform="rotate(-8 408.8 362.8)" fill="#ffe200"/><ellipse cx="419.1" cy="356.4" rx="0.9" ry="0.7" transform="rotate(-24 419.1 356.4)" fill="#e6f500"/><ellipse cx="413.2" cy="357.0" rx="3.0" ry="0.5" transform="rotate(3 413.2 357.0)" fill="#ffa800"/><ellipse cx="456.6" cy="341.0" rx="3.0" ry="0.4" transform="rotate(-19 456.6 341.0)" fill="#e6f500"/><ellipse cx="456.0" cy="353.9" rx="0.9" ry="0.5" transform="rotate(-9 456.0 353.9)" fill="#b4e400"/><ellipse cx="467.1" cy="347.8" rx="0.5" ry="0.4" transform="rotate(-32 467.1 347.8)" fill="#e6f500"/><ellipse cx="410.7" cy="361.9" rx="2.2" ry="0.7" transform="rotate(-24 410.7 361.9)" fill="#e6f500"/><ellipse cx="400.5" cy="366.8" rx="1.6" ry="0.5" transform="rotate(0 400.5 366.8)" fill="#e6f500"/><ellipse cx="393.2" cy="359.9" rx="0.5" ry="0.7" transform="rotate(1 393.2 359.9)" fill="#ffe200"/><ellipse cx="406.7" cy="361.6" rx="0.5" ry="0.7" transform="rotate(-19 406.7 361.6)" fill="#e6f500"/><ellipse cx="423.7" cy="360.3" rx="2.2" ry="0.5" transform="rotate(4 423.7 360.3)" fill="#ffe200"/><ellipse cx="456.2" cy="353.8" rx="0.9" ry="0.9" transform="rotate(-2 456.2 353.8)" fill="#ff7000"/><ellipse cx="470.0" cy="344.6" rx="0.9" ry="0.9" transform="rotate(-29 470.0 344.6)" fill="#b4e400"/><ellipse cx="385.1" cy="362.4" rx="2.2" ry="0.4" transform="rotate(-17 385.1 362.4)" fill="#e6f500"/><ellipse cx="424.8" cy="353.8" rx="3.0" ry="1.2" transform="rotate(-12 424.8 353.8)" fill="#e6f500"/><ellipse cx="412.8" cy="363.3" rx="0.9" ry="1.2" transform="rotate(-4 412.8 363.3)" fill="#e6f500"/><ellipse cx="454.8" cy="347.1" rx="0.7" ry="0.5" transform="rotate(-20 454.8 347.1)" fill="#ffe200"/><ellipse cx="455.7" cy="354.1" rx="3.0" ry="0.7" transform="rotate(-34 455.7 354.1)" fill="#e6f500"/><ellipse cx="392.1" cy="359.9" rx="0.7" ry="1.2" transform="rotate(-23 392.1 359.9)" fill="#e6f500"/><ellipse cx="380.7" cy="361.6" rx="3.0" ry="0.4" transform="rotate(-21 380.7 361.6)" fill="#ffe200"/><ellipse cx="411.0" cy="359.1" rx="1.2" ry="0.4" transform="rotate(13 411.0 359.1)" fill="#e6f500"/><ellipse cx="458.5" cy="340.8" rx="0.9" ry="0.5" transform="rotate(-21 458.5 340.8)" fill="#e6f500"/><ellipse cx="454.1" cy="348.5" rx="0.9" ry="1.2" transform="rotate(-12 454.1 348.5)" fill="#ffe200"/><ellipse cx="380.1" cy="359.4" rx="1.6" ry="0.4" transform="rotate(-6 380.1 359.4)" fill="#e6f500"/><ellipse cx="444.9" cy="356.1" rx="0.9" ry="0.9" transform="rotate(-46 444.9 356.1)" fill="#ffe200"/><ellipse cx="460.2" cy="347.2" rx="2.2" ry="0.9" transform="rotate(-19 460.2 347.2)" fill="#e6f500"/><ellipse cx="382.3" cy="363.7" rx="0.7" ry="0.4" transform="rotate(-12 382.3 363.7)" fill="#e6f500"/><ellipse cx="396.5" cy="364.1" rx="3.0" ry="0.4" transform="rotate(3 396.5 364.1)" fill="#e6f500"/><ellipse cx="462.9" cy="346.2" rx="3.0" ry="1.2" transform="rotate(-37 462.9 346.2)" fill="#ffe200"/><ellipse cx="421.6" cy="358.5" rx="0.9" ry="0.4" transform="rotate(6 421.6 358.5)" fill="#b4e400"/><ellipse cx="384.2" cy="365.8" rx="1.6" ry="0.7" transform="rotate(8 384.2 365.8)" fill="#e6f500"/><ellipse cx="391.1" cy="365.7" rx="0.7" ry="0.5" transform="rotate(-17 391.1 365.7)" fill="#e6f500"/><ellipse cx="431.3" cy="356.3" rx="3.0" ry="0.4" transform="rotate(-21 431.3 356.3)" fill="#ffa800"/><ellipse cx="413.7" cy="353.7" rx="1.6" ry="0.4" transform="rotate(3 413.7 353.7)" fill="#e6f500"/><ellipse cx="464.5" cy="346.3" rx="0.7" ry="0.7" transform="rotate(-39 464.5 346.3)" fill="#b4e400"/><ellipse cx="452.6" cy="340.6" rx="0.9" ry="0.9" transform="rotate(-36 452.6 340.6)" fill="#b4e400"/><ellipse cx="384.1" cy="354.1" rx="0.9" ry="0.5" transform="rotate(-8 384.1 354.1)" fill="#b4e400"/><ellipse cx="439.8" cy="356.2" rx="0.7" ry="0.4" transform="rotate(-12 439.8 356.2)" fill="#e6f500"/><ellipse cx="397.9" cy="360.7" rx="1.2" ry="0.9" transform="rotate(-14 397.9 360.7)" fill="#b4e400"/><ellipse cx="462.1" cy="342.1" rx="0.5" ry="0.4" transform="rotate(-46 462.1 342.1)" fill="#b4e400"/><ellipse cx="436.6" cy="359.5" rx="2.2" ry="1.2" transform="rotate(-23 436.6 359.5)" fill="#b4e400"/><ellipse cx="383.3" cy="364.4" rx="0.5" ry="0.9" transform="rotate(0 383.3 364.4)" fill="#e6f500"/><ellipse cx="383.7" cy="365.4" rx="0.7" ry="0.4" transform="rotate(5 383.7 365.4)" fill="#e6f500"/><ellipse cx="468.7" cy="351.0" rx="0.5" ry="0.9" transform="rotate(-41 468.7 351.0)" fill="#ffe200"/><ellipse cx="461.8" cy="342.7" rx="0.9" ry="0.9" transform="rotate(-19 461.8 342.7)" fill="#ffe200"/><ellipse cx="404.5" cy="360.5" rx="0.9" ry="0.9" transform="rotate(-33 404.5 360.5)" fill="#ffe200"/><ellipse cx="430.8" cy="355.0" rx="2.2" ry="0.7" transform="rotate(-21 430.8 355.0)" fill="#e6f500"/><ellipse cx="498.9" cy="327.1" rx="0.9" ry="0.4" transform="rotate(-33 498.9 327.1)" fill="#ffe200"/><ellipse cx="480.4" cy="334.5" rx="1.6" ry="0.9" transform="rotate(-28 480.4 334.5)" fill="#ffe200"/><ellipse cx="490.1" cy="336.3" rx="1.6" ry="0.7" transform="rotate(-30 490.1 336.3)" fill="#e6f500"/><ellipse cx="487.2" cy="339.3" rx="3.0" ry="0.4" transform="rotate(-28 487.2 339.3)" fill="#ffe200"/><ellipse cx="475.0" cy="345.0" rx="0.5" ry="1.2" transform="rotate(-39 475.0 345.0)" fill="#e6f500"/><ellipse cx="494.1" cy="332.5" rx="0.7" ry="0.5" transform="rotate(-29 494.1 332.5)" fill="#e6f500"/><ellipse cx="507.4" cy="329.1" rx="1.6" ry="0.7" transform="rotate(-16 507.4 329.1)" fill="#ffa800"/><ellipse cx="498.3" cy="330.5" rx="3.0" ry="0.9" transform="rotate(-47 498.3 330.5)" fill="#ffe200"/><ellipse cx="503.1" cy="324.5" rx="1.2" ry="0.4" transform="rotate(-39 503.1 324.5)" fill="#ffe200"/><ellipse cx="510.5" cy="321.5" rx="1.6" ry="0.5" transform="rotate(-32 510.5 321.5)" fill="#e6f500"/><ellipse cx="514.6" cy="328.3" rx="1.2" ry="0.9" transform="rotate(-38 514.6 328.3)" fill="#ffa800"/><ellipse cx="484.8" cy="334.2" rx="1.6" ry="1.2" transform="rotate(-16 484.8 334.2)" fill="#e6f500"/><ellipse cx="508.3" cy="334.1" rx="1.2" ry="0.9" transform="rotate(-22 508.3 334.1)" fill="#e6f500"/><ellipse cx="479.8" cy="338.4" rx="1.6" ry="0.9" transform="rotate(-19 479.8 338.4)" fill="#e6f500"/><ellipse cx="476.2" cy="344.5" rx="3.0" ry="1.2" transform="rotate(-33 476.2 344.5)" fill="#ffa800"/><ellipse cx="523.3" cy="321.4" rx="0.5" ry="0.4" transform="rotate(-12 523.3 321.4)" fill="#ffe200"/><ellipse cx="497.7" cy="321.5" rx="3.0" ry="0.7" transform="rotate(-21 497.7 321.5)" fill="#e6f500"/><ellipse cx="522.7" cy="315.0" rx="2.2" ry="0.9" transform="rotate(-29 522.7 315.0)" fill="#e6f500"/><ellipse cx="488.5" cy="331.6" rx="0.5" ry="0.4" transform="rotate(-30 488.5 331.6)" fill="#e6f500"/><ellipse cx="474.2" cy="338.9" rx="1.6" ry="1.2" transform="rotate(-16 474.2 338.9)" fill="#ffe200"/><ellipse cx="478.7" cy="335.8" rx="3.0" ry="1.2" transform="rotate(-20 478.7 335.8)" fill="#b4e400"/><ellipse cx="501.4" cy="327.2" rx="0.5" ry="0.5" transform="rotate(-45 501.4 327.2)" fill="#e6f500"/><ellipse cx="491.3" cy="337.1" rx="0.7" ry="0.4" transform="rotate(-16 491.3 337.1)" fill="#ffa800"/><ellipse cx="483.9" cy="331.4" rx="1.6" ry="0.9" transform="rotate(2 483.9 331.4)" fill="#e6f500"/><ellipse cx="499.2" cy="331.8" rx="0.7" ry="0.9" transform="rotate(-31 499.2 331.8)" fill="#ffe200"/><ellipse cx="503.5" cy="325.7" rx="2.2" ry="0.4" transform="rotate(-30 503.5 325.7)" fill="#ffa800"/><ellipse cx="473.3" cy="349.6" rx="1.6" ry="0.4" transform="rotate(-25 473.3 349.6)" fill="#b4e400"/><ellipse cx="492.1" cy="334.1" rx="0.5" ry="0.5" transform="rotate(-20 492.1 334.1)" fill="#ffe200"/><ellipse cx="509.4" cy="318.4" rx="1.6" ry="1.2" transform="rotate(-36 509.4 318.4)" fill="#ff7000"/><ellipse cx="501.0" cy="328.1" rx="0.7" ry="1.2" transform="rotate(-18 501.0 328.1)" fill="#ffa800"/><ellipse cx="476.8" cy="343.0" rx="1.6" ry="0.9" transform="rotate(-21 476.8 343.0)" fill="#ffa800"/><ellipse cx="503.9" cy="329.3" rx="0.5" ry="1.2" transform="rotate(-27 503.9 329.3)" fill="#ffe200"/><ellipse cx="508.8" cy="325.1" rx="0.9" ry="0.4" transform="rotate(-16 508.8 325.1)" fill="#ffa800"/><ellipse cx="523.2" cy="322.8" rx="1.6" ry="0.9" transform="rotate(-24 523.2 322.8)" fill="#ffe200"/><ellipse cx="479.7" cy="333.3" rx="0.5" ry="0.9" transform="rotate(-11 479.7 333.3)" fill="#ffe200"/><ellipse cx="483.3" cy="337.9" rx="1.6" ry="0.5" transform="rotate(-18 483.3 337.9)" fill="#ffe200"/><ellipse cx="520.1" cy="323.3" rx="1.6" ry="0.7" transform="rotate(-39 520.1 323.3)" fill="#ff7000"/><ellipse cx="498.3" cy="334.0" rx="1.2" ry="1.2" transform="rotate(-25 498.3 334.0)" fill="#ffe200"/><ellipse cx="488.5" cy="338.5" rx="3.0" ry="0.5" transform="rotate(-39 488.5 338.5)" fill="#ffe200"/><ellipse cx="479.2" cy="339.2" rx="0.9" ry="0.9" transform="rotate(-26 479.2 339.2)" fill="#e6f500"/><ellipse cx="474.6" cy="337.6" rx="1.2" ry="0.4" transform="rotate(-30 474.6 337.6)" fill="#ff7000"/><ellipse cx="494.8" cy="337.1" rx="1.2" ry="0.5" transform="rotate(-32 494.8 337.1)" fill="#e6f500"/><ellipse cx="487.8" cy="332.0" rx="0.5" ry="0.7" transform="rotate(-17 487.8 332.0)" fill="#ffa800"/><ellipse cx="484.1" cy="339.1" rx="1.6" ry="0.5" transform="rotate(-20 484.1 339.1)" fill="#e6f500"/><ellipse cx="496.0" cy="332.8" rx="0.9" ry="0.7" transform="rotate(-33 496.0 332.8)" fill="#ffe200"/><ellipse cx="490.9" cy="330.1" rx="0.9" ry="0.9" transform="rotate(-36 490.9 330.1)" fill="#e6f500"/><ellipse cx="481.6" cy="336.1" rx="2.2" ry="0.7" transform="rotate(-25 481.6 336.1)" fill="#e6f500"/><ellipse cx="496.1" cy="337.2" rx="1.2" ry="1.2" transform="rotate(-23 496.1 337.2)" fill="#e6f500"/><ellipse cx="476.9" cy="340.7" rx="0.5" ry="1.2" transform="rotate(-49 476.9 340.7)" fill="#ffa800"/><ellipse cx="510.5" cy="326.0" rx="2.2" ry="1.2" transform="rotate(-27 510.5 326.0)" fill="#ffe200"/><ellipse cx="470.2" cy="342.4" rx="3.0" ry="0.5" transform="rotate(-48 470.2 342.4)" fill="#ffe200"/><ellipse cx="508.0" cy="331.3" rx="0.9" ry="1.2" transform="rotate(-11 508.0 331.3)" fill="#ffa800"/><ellipse cx="480.5" cy="338.5" rx="0.9" ry="0.5" transform="rotate(-33 480.5 338.5)" fill="#ffa800"/><ellipse cx="490.2" cy="329.1" rx="1.2" ry="0.5" transform="rotate(1 490.2 329.1)" fill="#b4e400"/><ellipse cx="477.5" cy="335.0" rx="2.2" ry="0.7" transform="rotate(-7 477.5 335.0)" fill="#b4e400"/><ellipse cx="470.8" cy="342.3" rx="3.0" ry="0.9" transform="rotate(-42 470.8 342.3)" fill="#e6f500"/><ellipse cx="504.9" cy="329.2" rx="1.6" ry="0.5" transform="rotate(-15 504.9 329.2)" fill="#ffa800"/><ellipse cx="473.3" cy="345.1" rx="0.7" ry="0.7" transform="rotate(-25 473.3 345.1)" fill="#ffe200"/><ellipse cx="508.5" cy="321.0" rx="0.7" ry="1.2" transform="rotate(-30 508.5 321.0)" fill="#ffa800"/><ellipse cx="501.1" cy="329.2" rx="1.2" ry="1.2" transform="rotate(-33 501.1 329.2)" fill="#e6f500"/><ellipse cx="471.6" cy="347.3" rx="0.9" ry="0.4" transform="rotate(-48 471.6 347.3)" fill="#b4e400"/><ellipse cx="500.8" cy="326.1" rx="2.2" ry="0.4" transform="rotate(-60 500.8 326.1)" fill="#ffe200"/><ellipse cx="487.8" cy="335.9" rx="0.5" ry="0.9" transform="rotate(-40 487.8 335.9)" fill="#ffa800"/><ellipse cx="491.6" cy="333.6" rx="0.9" ry="1.2" transform="rotate(-50 491.6 333.6)" fill="#ffe200"/><ellipse cx="518.3" cy="313.4" rx="2.2" ry="1.2" transform="rotate(-12 518.3 313.4)" fill="#ffa800"/><ellipse cx="514.4" cy="320.9" rx="0.5" ry="0.5" transform="rotate(-35 514.4 320.9)" fill="#e6f500"/><ellipse cx="551.2" cy="303.2" rx="3.0" ry="0.5" transform="rotate(-50 551.2 303.2)" fill="#e6f500"/><ellipse cx="560.2" cy="292.4" rx="1.6" ry="0.5" transform="rotate(-54 560.2 292.4)" fill="#ffa800"/><ellipse cx="554.0" cy="293.2" rx="0.5" ry="0.5" transform="rotate(-50 554.0 293.2)" fill="#e6f500"/><ellipse cx="545.6" cy="306.6" rx="0.7" ry="0.9" transform="rotate(-25 545.6 306.6)" fill="#ffe200"/><ellipse cx="536.5" cy="312.3" rx="1.2" ry="0.5" transform="rotate(-9 536.5 312.3)" fill="#ffa800"/><ellipse cx="540.5" cy="306.0" rx="0.7" ry="1.2" transform="rotate(-7 540.5 306.0)" fill="#ffe200"/><ellipse cx="542.3" cy="310.3" rx="3.0" ry="0.5" transform="rotate(-54 542.3 310.3)" fill="#ffe200"/><ellipse cx="535.8" cy="321.0" rx="1.2" ry="0.5" transform="rotate(-31 535.8 321.0)" fill="#e6f500"/><ellipse cx="537.8" cy="308.9" rx="0.5" ry="0.7" transform="rotate(-29 537.8 308.9)" fill="#e6f500"/><ellipse cx="528.4" cy="312.1" rx="0.7" ry="0.7" transform="rotate(8 528.4 312.1)" fill="#b4e400"/><ellipse cx="551.8" cy="298.0" rx="0.5" ry="0.4" transform="rotate(-28 551.8 298.0)" fill="#b4e400"/><ellipse cx="569.1" cy="274.0" rx="0.9" ry="1.2" transform="rotate(-38 569.1 274.0)" fill="#e6f500"/><ellipse cx="559.8" cy="297.8" rx="3.0" ry="1.2" transform="rotate(-52 559.8 297.8)" fill="#e6f500"/><ellipse cx="544.0" cy="309.9" rx="1.6" ry="0.7" transform="rotate(-30 544.0 309.9)" fill="#ffe200"/><ellipse cx="528.4" cy="316.3" rx="1.2" ry="0.5" transform="rotate(-31 528.4 316.3)" fill="#e6f500"/><ellipse cx="531.5" cy="309.0" rx="2.2" ry="0.5" transform="rotate(-50 531.5 309.0)" fill="#e6f500"/><ellipse cx="558.9" cy="289.4" rx="1.2" ry="0.5" transform="rotate(-23 558.9 289.4)" fill="#ffe200"/><ellipse cx="542.4" cy="308.0" rx="0.9" ry="0.7" transform="rotate(-29 542.4 308.0)" fill="#e6f500"/><ellipse cx="524.2" cy="312.7" rx="3.0" ry="0.9" transform="rotate(-36 524.2 312.7)" fill="#ffa800"/><ellipse cx="568.6" cy="276.9" rx="0.7" ry="0.7" transform="rotate(-39 568.6 276.9)" fill="#ffe200"/><ellipse cx="556.9" cy="297.0" rx="0.7" ry="0.9" transform="rotate(-39 556.9 297.0)" fill="#ffe200"/><ellipse cx="549.1" cy="312.3" rx="1.2" ry="0.5" transform="rotate(-41 549.1 312.3)" fill="#e6f500"/><ellipse cx="546.3" cy="311.5" rx="3.0" ry="1.2" transform="rotate(-33 546.3 311.5)" fill="#b4e400"/><ellipse cx="537.0" cy="308.5" rx="1.2" ry="0.7" transform="rotate(-52 537.0 308.5)" fill="#e6f500"/><ellipse cx="526.1" cy="320.2" rx="2.2" ry="0.5" transform="rotate(-30 526.1 320.2)" fill="#b4e400"/><ellipse cx="525.7" cy="320.0" rx="1.6" ry="0.5" transform="rotate(-49 525.7 320.0)" fill="#b4e400"/><ellipse cx="548.3" cy="297.4" rx="1.6" ry="0.5" transform="rotate(-49 548.3 297.4)" fill="#ffa800"/><ellipse cx="569.0" cy="275.7" rx="0.5" ry="0.7" transform="rotate(-59 569.0 275.7)" fill="#ffe200"/><ellipse cx="533.9" cy="302.9" rx="1.2" ry="0.5" transform="rotate(-53 533.9 302.9)" fill="#e6f500"/><ellipse cx="542.0" cy="308.9" rx="0.7" ry="0.5" transform="rotate(-39 542.0 308.9)" fill="#ffe200"/><ellipse cx="549.8" cy="308.4" rx="0.9" ry="1.2" transform="rotate(-26 549.8 308.4)" fill="#ffe200"/><ellipse cx="542.2" cy="301.5" rx="1.2" ry="0.7" transform="rotate(-40 542.2 301.5)" fill="#e6f500"/><ellipse cx="535.4" cy="317.1" rx="0.5" ry="0.5" transform="rotate(-40 535.4 317.1)" fill="#ffe200"/><ellipse cx="539.5" cy="314.9" rx="0.9" ry="0.9" transform="rotate(-27 539.5 314.9)" fill="#e6f500"/><ellipse cx="543.7" cy="299.2" rx="2.2" ry="1.2" transform="rotate(-43 543.7 299.2)" fill="#ffa800"/><ellipse cx="555.2" cy="301.4" rx="3.0" ry="0.9" transform="rotate(-65 555.2 301.4)" fill="#e6f500"/><ellipse cx="543.9" cy="297.1" rx="0.5" ry="1.2" transform="rotate(-48 543.9 297.1)" fill="#e6f500"/><ellipse cx="564.5" cy="284.4" rx="0.7" ry="1.2" transform="rotate(-37 564.5 284.4)" fill="#b4e400"/><ellipse cx="527.4" cy="312.4" rx="1.2" ry="0.5" transform="rotate(-13 527.4 312.4)" fill="#e6f500"/><ellipse cx="525.3" cy="314.6" rx="1.2" ry="0.7" transform="rotate(-63 525.3 314.6)" fill="#e6f500"/><ellipse cx="532.0" cy="316.1" rx="3.0" ry="0.5" transform="rotate(-31 532.0 316.1)" fill="#ffe200"/><ellipse cx="571.3" cy="283.0" rx="2.2" ry="0.7" transform="rotate(-49 571.3 283.0)" fill="#ffe200"/><ellipse cx="563.2" cy="292.4" rx="0.7" ry="0.7" transform="rotate(-42 563.2 292.4)" fill="#b4e400"/><ellipse cx="548.4" cy="299.2" rx="3.0" ry="1.2" transform="rotate(-33 548.4 299.2)" fill="#e6f500"/><ellipse cx="540.7" cy="305.8" rx="0.5" ry="0.5" transform="rotate(-19 540.7 305.8)" fill="#e6f500"/><ellipse cx="530.9" cy="306.9" rx="1.6" ry="0.9" transform="rotate(-18 530.9 306.9)" fill="#e6f500"/><ellipse cx="528.1" cy="322.7" rx="0.7" ry="0.5" transform="rotate(-10 528.1 322.7)" fill="#b4e400"/><ellipse cx="538.0" cy="309.1" rx="0.7" ry="1.2" transform="rotate(-50 538.0 309.1)" fill="#ffa800"/><ellipse cx="549.2" cy="298.6" rx="1.2" ry="0.4" transform="rotate(-72 549.2 298.6)" fill="#e6f500"/><ellipse cx="571.1" cy="274.9" rx="0.5" ry="0.4" transform="rotate(-39 571.1 274.9)" fill="#e6f500"/><ellipse cx="552.9" cy="293.8" rx="3.0" ry="0.9" transform="rotate(-63 552.9 293.8)" fill="#ffa800"/><ellipse cx="556.9" cy="290.3" rx="1.6" ry="1.2" transform="rotate(-43 556.9 290.3)" fill="#e6f500"/><ellipse cx="541.9" cy="310.3" rx="1.6" ry="1.2" transform="rotate(-6 541.9 310.3)" fill="#e6f500"/><ellipse cx="531.7" cy="311.3" rx="1.6" ry="0.9" transform="rotate(-15 531.7 311.3)" fill="#b4e400"/><ellipse cx="545.2" cy="312.1" rx="0.9" ry="0.5" transform="rotate(-36 545.2 312.1)" fill="#e6f500"/><ellipse cx="548.1" cy="304.9" rx="0.7" ry="0.5" transform="rotate(-37 548.1 304.9)" fill="#e6f500"/><ellipse cx="536.2" cy="308.4" rx="1.6" ry="1.2" transform="rotate(-37 536.2 308.4)" fill="#b4e400"/><ellipse cx="572.9" cy="280.8" rx="1.6" ry="0.4" transform="rotate(-40 572.9 280.8)" fill="#ffe200"/><ellipse cx="560.5" cy="285.5" rx="0.9" ry="0.7" transform="rotate(-58 560.5 285.5)" fill="#ffe200"/><ellipse cx="536.7" cy="312.7" rx="0.5" ry="0.7" transform="rotate(-35 536.7 312.7)" fill="#ffa800"/><ellipse cx="583.5" cy="261.5" rx="0.7" ry="0.7" transform="rotate(-27 583.5 261.5)" fill="#e6f500"/><ellipse cx="600.2" cy="251.2" rx="2.2" ry="0.7" transform="rotate(1 600.2 251.2)" fill="#e6f500"/><ellipse cx="601.1" cy="246.0" rx="3.0" ry="0.5" transform="rotate(-20 601.1 246.0)" fill="#e6f500"/><ellipse cx="581.4" cy="273.9" rx="2.2" ry="0.9" transform="rotate(-19 581.4 273.9)" fill="#ffa800"/><ellipse cx="589.7" cy="262.9" rx="1.6" ry="0.4" transform="rotate(-74 589.7 262.9)" fill="#ffa800"/><ellipse cx="601.3" cy="253.7" rx="2.2" ry="0.7" transform="rotate(0 601.3 253.7)" fill="#ffa800"/><ellipse cx="584.4" cy="273.6" rx="0.9" ry="1.2" transform="rotate(-58 584.4 273.6)" fill="#ffa800"/><ellipse cx="595.0" cy="263.9" rx="2.2" ry="0.4" transform="rotate(-44 595.0 263.9)" fill="#ff7000"/><ellipse cx="588.6" cy="267.5" rx="1.6" ry="0.4" transform="rotate(-21 588.6 267.5)" fill="#ff7000"/><ellipse cx="597.7" cy="255.7" rx="0.5" ry="0.9" transform="rotate(-28 597.7 255.7)" fill="#ffe200"/><ellipse cx="607.6" cy="250.8" rx="0.5" ry="0.5" transform="rotate(3 607.6 250.8)" fill="#ffa800"/><ellipse cx="576.9" cy="277.0" rx="0.5" ry="1.2" transform="rotate(-37 576.9 277.0)" fill="#ffa800"/><ellipse cx="580.5" cy="274.2" rx="0.5" ry="0.7" transform="rotate(-32 580.5 274.2)" fill="#e6f500"/><ellipse cx="580.1" cy="268.2" rx="2.2" ry="0.9" transform="rotate(-27 580.1 268.2)" fill="#ffa800"/><ellipse cx="599.3" cy="254.0" rx="1.2" ry="0.4" transform="rotate(-26 599.3 254.0)" fill="#ffa800"/><ellipse cx="598.0" cy="257.4" rx="1.2" ry="0.7" transform="rotate(-74 598.0 257.4)" fill="#e6f500"/><ellipse cx="607.8" cy="254.7" rx="2.2" ry="0.7" transform="rotate(-12 607.8 254.7)" fill="#ffa800"/><ellipse cx="597.0" cy="255.5" rx="0.5" ry="0.4" transform="rotate(-44 597.0 255.5)" fill="#ffa800"/><ellipse cx="579.6" cy="273.0" rx="3.0" ry="0.7" transform="rotate(-56 579.6 273.0)" fill="#ffa800"/><ellipse cx="591.9" cy="254.8" rx="2.2" ry="1.2" transform="rotate(-50 591.9 254.8)" fill="#ffe200"/><ellipse cx="579.2" cy="266.1" rx="1.2" ry="0.4" transform="rotate(-68 579.2 266.1)" fill="#ff7000"/><ellipse cx="586.7" cy="266.7" rx="1.2" ry="1.2" transform="rotate(-90 586.7 266.7)" fill="#ffa800"/><ellipse cx="594.8" cy="259.5" rx="0.5" ry="1.2" transform="rotate(-42 594.8 259.5)" fill="#ffe200"/><ellipse cx="599.0" cy="255.5" rx="2.2" ry="0.5" transform="rotate(-45 599.0 255.5)" fill="#ffa800"/><ellipse cx="612.1" cy="255.1" rx="0.5" ry="0.4" transform="rotate(-23 612.1 255.1)" fill="#ffe200"/><ellipse cx="582.2" cy="270.5" rx="1.6" ry="0.7" transform="rotate(-61 582.2 270.5)" fill="#ff7000"/><ellipse cx="609.3" cy="256.1" rx="3.0" ry="0.5" transform="rotate(-36 609.3 256.1)" fill="#ffe200"/><ellipse cx="586.5" cy="263.4" rx="3.0" ry="0.9" transform="rotate(-65 586.5 263.4)" fill="#ffa800"/><ellipse cx="609.2" cy="254.1" rx="0.7" ry="0.7" transform="rotate(-23 609.2 254.1)" fill="#ff7000"/><ellipse cx="575.1" cy="277.1" rx="3.0" ry="0.9" transform="rotate(-42 575.1 277.1)" fill="#ffe200"/><ellipse cx="587.6" cy="264.3" rx="1.2" ry="0.5" transform="rotate(-35 587.6 264.3)" fill="#ffa800"/><ellipse cx="574.7" cy="277.0" rx="0.9" ry="0.5" transform="rotate(-51 574.7 277.0)" fill="#ffa800"/><ellipse cx="589.3" cy="260.1" rx="1.2" ry="0.5" transform="rotate(-9 589.3 260.1)" fill="#e6f500"/><ellipse cx="601.2" cy="245.2" rx="3.0" ry="0.7" transform="rotate(-15 601.2 245.2)" fill="#e6f500"/><ellipse cx="578.9" cy="272.8" rx="0.5" ry="0.9" transform="rotate(-43 578.9 272.8)" fill="#e6f500"/><ellipse cx="581.9" cy="267.0" rx="1.2" ry="0.5" transform="rotate(-31 581.9 267.0)" fill="#ffe200"/><ellipse cx="607.9" cy="253.4" rx="0.9" ry="0.4" transform="rotate(16 607.9 253.4)" fill="#ff7000"/><ellipse cx="607.6" cy="254.6" rx="0.9" ry="0.4" transform="rotate(8 607.6 254.6)" fill="#ff7000"/><ellipse cx="581.1" cy="273.5" rx="0.9" ry="0.5" transform="rotate(-53 581.1 273.5)" fill="#ffe200"/><ellipse cx="587.3" cy="264.0" rx="1.2" ry="0.4" transform="rotate(-66 587.3 264.0)" fill="#ffa800"/><ellipse cx="597.3" cy="253.8" rx="0.9" ry="0.4" transform="rotate(-44 597.3 253.8)" fill="#ffe200"/><ellipse cx="581.4" cy="270.1" rx="0.7" ry="1.2" transform="rotate(-51 581.4 270.1)" fill="#ffe200"/><ellipse cx="594.8" cy="255.2" rx="0.5" ry="0.7" transform="rotate(-53 594.8 255.2)" fill="#ffa800"/><ellipse cx="585.1" cy="280.1" rx="1.6" ry="0.9" transform="rotate(-60 585.1 280.1)" fill="#ffa800"/><ellipse cx="578.9" cy="266.3" rx="1.6" ry="1.2" transform="rotate(-54 578.9 266.3)" fill="#e6f500"/><ellipse cx="597.0" cy="261.6" rx="0.5" ry="0.7" transform="rotate(-71 597.0 261.6)" fill="#e6f500"/><ellipse cx="607.1" cy="254.4" rx="0.5" ry="0.7" transform="rotate(-21 607.1 254.4)" fill="#ffe200"/><ellipse cx="574.2" cy="276.9" rx="0.7" ry="1.2" transform="rotate(-1 574.2 276.9)" fill="#ffa800"/><ellipse cx="604.8" cy="255.4" rx="0.9" ry="0.4" transform="rotate(-23 604.8 255.4)" fill="#ffe200"/><ellipse cx="592.0" cy="253.1" rx="3.0" ry="0.7" transform="rotate(-37 592.0 253.1)" fill="#ffa800"/><ellipse cx="579.8" cy="260.0" rx="1.2" ry="0.9" transform="rotate(-30 579.8 260.0)" fill="#e6f500"/><ellipse cx="651.2" cy="251.8" rx="0.7" ry="1.2" transform="rotate(-20 651.2 251.8)" fill="#ffa800"/><ellipse cx="659.5" cy="244.6" rx="0.7" ry="0.5" transform="rotate(-23 659.5 244.6)" fill="#ffe200"/><ellipse cx="616.1" cy="250.1" rx="2.2" ry="0.4" transform="rotate(-10 616.1 250.1)" fill="#ffa800"/><ellipse cx="638.6" cy="247.1" rx="2.2" ry="0.7" transform="rotate(-22 638.6 247.1)" fill="#ffa800"/><ellipse cx="639.0" cy="243.1" rx="1.2" ry="1.2" transform="rotate(-4 639.0 243.1)" fill="#ffa800"/><ellipse cx="637.5" cy="243.5" rx="3.0" ry="0.9" transform="rotate(12 637.5 243.5)" fill="#ffa800"/><ellipse cx="615.4" cy="254.0" rx="2.2" ry="0.7" transform="rotate(-9 615.4 254.0)" fill="#ffa800"/><ellipse cx="649.7" cy="242.7" rx="3.0" ry="0.7" transform="rotate(-37 649.7 242.7)" fill="#ffa800"/><ellipse cx="652.7" cy="249.3" rx="1.6" ry="0.9" transform="rotate(-18 652.7 249.3)" fill="#ffe200"/><ellipse cx="660.0" cy="253.0" rx="0.9" ry="1.2" transform="rotate(10 660.0 253.0)" fill="#ffa800"/><ellipse cx="619.6" cy="246.4" rx="0.7" ry="0.9" transform="rotate(10 619.6 246.4)" fill="#ffa800"/><ellipse cx="657.5" cy="250.4" rx="0.5" ry="0.7" transform="rotate(-17 657.5 250.4)" fill="#ffa800"/><ellipse cx="652.1" cy="247.9" rx="0.7" ry="0.7" transform="rotate(-14 652.1 247.9)" fill="#ffa800"/><ellipse cx="629.3" cy="247.1" rx="0.9" ry="0.9" transform="rotate(-19 629.3 247.1)" fill="#ffe200"/><ellipse cx="625.1" cy="248.9" rx="0.5" ry="0.9" transform="rotate(12 625.1 248.9)" fill="#ffe200"/><ellipse cx="647.4" cy="249.9" rx="0.5" ry="0.5" transform="rotate(9 647.4 249.9)" fill="#ffa800"/><ellipse cx="637.0" cy="249.4" rx="0.9" ry="0.9" transform="rotate(7 637.0 249.4)" fill="#ffa800"/><ellipse cx="639.1" cy="251.9" rx="1.6" ry="0.5" transform="rotate(-7 639.1 251.9)" fill="#ffa800"/><ellipse cx="638.5" cy="251.6" rx="0.9" ry="0.9" transform="rotate(-13 638.5 251.6)" fill="#ffa800"/><ellipse cx="642.8" cy="250.0" rx="1.2" ry="0.7" transform="rotate(-15 642.8 250.0)" fill="#ffe200"/><ellipse cx="630.1" cy="253.8" rx="0.9" ry="0.4" transform="rotate(1 630.1 253.8)" fill="#ffe200"/><ellipse cx="625.9" cy="245.0" rx="3.0" ry="0.7" transform="rotate(8 625.9 245.0)" fill="#ffa800"/><ellipse cx="630.0" cy="241.6" rx="0.7" ry="1.2" transform="rotate(-20 630.0 241.6)" fill="#ffa800"/><ellipse cx="643.9" cy="247.4" rx="3.0" ry="0.9" transform="rotate(-2 643.9 247.4)" fill="#ffa800"/><ellipse cx="636.1" cy="240.5" rx="3.0" ry="0.4" transform="rotate(-7 636.1 240.5)" fill="#ffa800"/><ellipse cx="639.8" cy="254.4" rx="1.2" ry="0.9" transform="rotate(-17 639.8 254.4)" fill="#e6f500"/><ellipse cx="620.9" cy="254.0" rx="0.7" ry="1.2" transform="rotate(-1 620.9 254.0)" fill="#ffe200"/><ellipse cx="612.5" cy="251.7" rx="1.6" ry="0.4" transform="rotate(-4 612.5 251.7)" fill="#ff7000"/><ellipse cx="626.0" cy="248.0" rx="1.2" ry="0.4" transform="rotate(9 626.0 248.0)" fill="#ffa800"/><ellipse cx="652.6" cy="246.4" rx="1.2" ry="0.4" transform="rotate(-9 652.6 246.4)" fill="#ff7000"/><ellipse cx="621.9" cy="243.0" rx="0.7" ry="0.7" transform="rotate(4 621.9 243.0)" fill="#ffa800"/><ellipse cx="614.4" cy="249.5" rx="1.6" ry="0.5" transform="rotate(-21 614.4 249.5)" fill="#e6f500"/><ellipse cx="651.4" cy="248.7" rx="0.9" ry="0.5" transform="rotate(-14 651.4 248.7)" fill="#ffa800"/><ellipse cx="613.1" cy="254.6" rx="0.9" ry="0.4" transform="rotate(-15 613.1 254.6)" fill="#ffa800"/><ellipse cx="624.4" cy="253.2" rx="1.6" ry="0.9" transform="rotate(-18 624.4 253.2)" fill="#ffe200"/><ellipse cx="626.7" cy="249.9" rx="1.2" ry="1.2" transform="rotate(11 626.7 249.9)" fill="#ffa800"/><ellipse cx="622.0" cy="254.9" rx="0.9" ry="0.9" transform="rotate(2 622.0 254.9)" fill="#ffe200"/><ellipse cx="646.8" cy="253.6" rx="0.9" ry="0.5" transform="rotate(19 646.8 253.6)" fill="#ffa800"/><ellipse cx="645.5" cy="244.6" rx="0.5" ry="1.2" transform="rotate(-28 645.5 244.6)" fill="#ffa800"/><ellipse cx="657.7" cy="247.3" rx="0.7" ry="0.9" transform="rotate(-4 657.7 247.3)" fill="#ffa800"/><ellipse cx="646.3" cy="249.6" rx="1.2" ry="0.9" transform="rotate(-27 646.3 249.6)" fill="#ff7000"/><ellipse cx="633.4" cy="250.4" rx="1.2" ry="0.4" transform="rotate(-7 633.4 250.4)" fill="#ffa800"/><ellipse cx="654.0" cy="251.7" rx="0.7" ry="0.4" transform="rotate(1 654.0 251.7)" fill="#ff7000"/><ellipse cx="639.1" cy="250.3" rx="2.2" ry="0.7" transform="rotate(-24 639.1 250.3)" fill="#ff7000"/><ellipse cx="638.1" cy="252.7" rx="2.2" ry="0.5" transform="rotate(14 638.1 252.7)" fill="#ffa800"/><ellipse cx="634.4" cy="249.9" rx="0.5" ry="0.9" transform="rotate(3 634.4 249.9)" fill="#ffa800"/><ellipse cx="651.9" cy="245.9" rx="1.2" ry="0.5" transform="rotate(-23 651.9 245.9)" fill="#ff7000"/><ellipse cx="656.3" cy="248.4" rx="1.2" ry="0.7" transform="rotate(7 656.3 248.4)" fill="#ffe200"/><ellipse cx="488.4" cy="332.4" rx="0.8" ry="0.6" transform="rotate(-30 488.4 332.4)" fill="#ffe200"/><ellipse cx="486.5" cy="329.9" rx="0.6" ry="0.8" transform="rotate(-53 486.5 329.9)" fill="#ff7000"/><ellipse cx="474.7" cy="335.7" rx="0.5" ry="0.5" transform="rotate(-34 474.7 335.7)" fill="#ffa800"/><ellipse cx="484.2" cy="332.4" rx="1.0" ry="0.4" transform="rotate(1 484.2 332.4)" fill="#ffe200"/><ellipse cx="476.4" cy="337.6" rx="1.3" ry="0.4" transform="rotate(-20 476.4 337.6)" fill="#ffe200"/><ellipse cx="476.5" cy="338.0" rx="1.0" ry="0.4" transform="rotate(1 476.5 338.0)" fill="#ffe200"/><ellipse cx="474.0" cy="336.9" rx="0.6" ry="0.5" transform="rotate(-56 474.0 336.9)" fill="#ffa800"/><ellipse cx="485.7" cy="333.4" rx="0.6" ry="0.6" transform="rotate(-44 485.7 333.4)" fill="#ffe200"/><ellipse cx="482.5" cy="336.2" rx="0.8" ry="0.4" transform="rotate(-54 482.5 336.2)" fill="#ffe200"/><ellipse cx="475.9" cy="336.8" rx="0.8" ry="0.6" transform="rotate(13 475.9 336.8)" fill="#ffe200"/><ellipse cx="485.2" cy="331.2" rx="0.5" ry="0.4" transform="rotate(-4 485.2 331.2)" fill="#e6f500"/><ellipse cx="481.3" cy="334.0" rx="0.5" ry="0.4" transform="rotate(-16 481.3 334.0)" fill="#ffa800"/><ellipse cx="470.7" cy="340.4" rx="0.8" ry="0.4" transform="rotate(-9 470.7 340.4)" fill="#ffe200"/><ellipse cx="482.1" cy="332.0" rx="0.6" ry="0.4" transform="rotate(-7 482.1 332.0)" fill="#ffe200"/><ellipse cx="487.8" cy="333.1" rx="0.5" ry="0.4" transform="rotate(-33 487.8 333.1)" fill="#e6f500"/><ellipse cx="470.9" cy="339.5" rx="1.3" ry="0.4" transform="rotate(-25 470.9 339.5)" fill="#ffe200"/><ellipse cx="473.8" cy="338.4" rx="0.6" ry="0.6" transform="rotate(-12 473.8 338.4)" fill="#ffe200"/><ellipse cx="472.0" cy="337.0" rx="0.6" ry="0.5" transform="rotate(-23 472.0 337.0)" fill="#e6f500"/><ellipse cx="469.6" cy="342.5" rx="1.3" ry="0.5" transform="rotate(-61 469.6 342.5)" fill="#ffa800"/><ellipse cx="473.9" cy="339.3" rx="0.6" ry="0.6" transform="rotate(-24 473.9 339.3)" fill="#ff7000"/><ellipse cx="477.9" cy="336.6" rx="0.5" ry="0.4" transform="rotate(-7 477.9 336.6)" fill="#ffa800"/><ellipse cx="472.5" cy="337.3" rx="1.3" ry="0.4" transform="rotate(-10 472.5 337.3)" fill="#e6f500"/><ellipse cx="469.6" cy="339.3" rx="0.6" ry="0.6" transform="rotate(-14 469.6 339.3)" fill="#ffe200"/><ellipse cx="486.3" cy="331.5" rx="0.6" ry="0.4" transform="rotate(-14 486.3 331.5)" fill="#ffe200"/><ellipse cx="489.6" cy="331.9" rx="0.6" ry="0.5" transform="rotate(13 489.6 331.9)" fill="#ffe200"/><ellipse cx="475.1" cy="335.4" rx="0.6" ry="0.5" transform="rotate(-20 475.1 335.4)" fill="#ffa800"/><ellipse cx="482.9" cy="331.1" rx="0.5" ry="0.8" transform="rotate(14 482.9 331.1)" fill="#ffa800"/><ellipse cx="474.6" cy="335.3" rx="1.3" ry="0.4" transform="rotate(-26 474.6 335.3)" fill="#ffe200"/><ellipse cx="482.8" cy="335.3" rx="0.8" ry="0.5" transform="rotate(-25 482.8 335.3)" fill="#e6f500"/><ellipse cx="479.7" cy="336.5" rx="1.0" ry="0.5" transform="rotate(-35 479.7 336.5)" fill="#ffe200"/><ellipse cx="483.1" cy="332.3" rx="1.3" ry="0.5" transform="rotate(-6 483.1 332.3)" fill="#ffe200"/><ellipse cx="487.2" cy="332.8" rx="1.3" ry="0.6" transform="rotate(-15 487.2 332.8)" fill="#ffa800"/><ellipse cx="481.7" cy="334.9" rx="0.8" ry="0.5" transform="rotate(-32 481.7 334.9)" fill="#ffe200"/><ellipse cx="481.3" cy="334.5" rx="1.0" ry="0.4" transform="rotate(-32 481.3 334.5)" fill="#ffe200"/><ellipse cx="486.2" cy="333.3" rx="1.0" ry="0.8" transform="rotate(-46 486.2 333.3)" fill="#e6f500"/><ellipse cx="473.7" cy="339.0" rx="0.8" ry="0.8" transform="rotate(-70 473.7 339.0)" fill="#e6f500"/><ellipse cx="468.4" cy="340.6" rx="1.0" ry="0.8" transform="rotate(-16 468.4 340.6)" fill="#ffe200"/><ellipse cx="474.1" cy="336.0" rx="1.3" ry="0.5" transform="rotate(-26 474.1 336.0)" fill="#ffe200"/><ellipse cx="476.9" cy="336.3" rx="0.8" ry="0.5" transform="rotate(-9 476.9 336.3)" fill="#ffa800"/><ellipse cx="478.4" cy="336.6" rx="0.6" ry="0.4" transform="rotate(-23 478.4 336.6)" fill="#ffe200"/><ellipse cx="481.8" cy="333.3" rx="0.8" ry="0.5" transform="rotate(-11 481.8 333.3)" fill="#ffe200"/><ellipse cx="474.1" cy="340.0" rx="1.3" ry="0.8" transform="rotate(-39 474.1 340.0)" fill="#ffe200"/><ellipse cx="476.1" cy="338.9" rx="0.6" ry="0.8" transform="rotate(-20 476.1 338.9)" fill="#ffa800"/><ellipse cx="467.7" cy="339.3" rx="0.6" ry="0.8" transform="rotate(-52 467.7 339.3)" fill="#ffa800"/><ellipse cx="483.3" cy="334.5" rx="1.3" ry="0.8" transform="rotate(-53 483.3 334.5)" fill="#ffe200"/><ellipse cx="484.3" cy="331.4" rx="1.0" ry="0.4" transform="rotate(-79 484.3 331.4)" fill="#ffa800"/><ellipse cx="475.1" cy="336.1" rx="1.0" ry="0.4" transform="rotate(-32 475.1 336.1)" fill="#e6f500"/><ellipse cx="478.9" cy="334.7" rx="0.5" ry="0.4" transform="rotate(-10 478.9 334.7)" fill="#e6f500"/><ellipse cx="487.4" cy="329.3" rx="1.3" ry="0.5" transform="rotate(-34 487.4 329.3)" fill="#ffa800"/><ellipse cx="483.8" cy="330.5" rx="0.8" ry="0.8" transform="rotate(-15 483.8 330.5)" fill="#ffe200"/><ellipse cx="490.2" cy="332.2" rx="1.3" ry="0.4" transform="rotate(-6 490.2 332.2)" fill="#ff7000"/><ellipse cx="472.3" cy="339.3" rx="0.8" ry="0.5" transform="rotate(-6 472.3 339.3)" fill="#ffe200"/><ellipse cx="480.1" cy="334.4" rx="1.0" ry="0.8" transform="rotate(2 480.1 334.4)" fill="#ff7000"/><ellipse cx="484.3" cy="333.7" rx="0.8" ry="0.6" transform="rotate(-31 484.3 333.7)" fill="#ffe200"/><ellipse cx="481.6" cy="335.8" rx="0.6" ry="0.5" transform="rotate(-22 481.6 335.8)" fill="#ffa800"/><ellipse cx="487.3" cy="329.6" rx="1.3" ry="0.5" transform="rotate(-40 487.3 329.6)" fill="#ffa800"/><ellipse cx="488.7" cy="331.2" rx="0.8" ry="0.5" transform="rotate(12 488.7 331.2)" fill="#ffe200"/><ellipse cx="488.1" cy="330.9" rx="1.3" ry="0.6" transform="rotate(-28 488.1 330.9)" fill="#e6f500"/><ellipse cx="477.5" cy="337.1" rx="1.0" ry="0.6" transform="rotate(-38 477.5 337.1)" fill="#ffe200"/><ellipse cx="489.2" cy="331.2" rx="1.3" ry="0.8" transform="rotate(-9 489.2 331.2)" fill="#ffa800"/><ellipse cx="485.0" cy="331.4" rx="1.0" ry="0.8" transform="rotate(-7 485.0 331.4)" fill="#ffa800"/><ellipse cx="474.0" cy="337.2" rx="1.0" ry="0.6" transform="rotate(1 474.0 337.2)" fill="#e6f500"/><ellipse cx="470.8" cy="339.3" rx="1.3" ry="0.6" transform="rotate(-2 470.8 339.3)" fill="#ffe200"/><ellipse cx="488.8" cy="329.5" rx="0.6" ry="0.4" transform="rotate(-20 488.8 329.5)" fill="#e6f500"/><ellipse cx="470.6" cy="340.2" rx="0.5" ry="0.6" transform="rotate(-9 470.6 340.2)" fill="#ffe200"/><ellipse cx="472.6" cy="339.8" rx="0.5" ry="0.8" transform="rotate(-60 472.6 339.8)" fill="#ffe200"/><ellipse cx="489.7" cy="331.6" rx="0.8" ry="0.6" transform="rotate(-33 489.7 331.6)" fill="#e6f500"/><ellipse cx="483.2" cy="331.4" rx="1.3" ry="0.8" transform="rotate(-10 483.2 331.4)" fill="#ffa800"/><ellipse cx="487.8" cy="329.2" rx="1.0" ry="0.4" transform="rotate(-26 487.8 329.2)" fill="#ffa800"/><ellipse cx="487.6" cy="332.1" rx="1.3" ry="0.8" transform="rotate(-16 487.6 332.1)" fill="#ffe200"/><ellipse cx="480.4" cy="333.5" rx="0.6" ry="0.5" transform="rotate(-7 480.4 333.5)" fill="#ffe200"/><ellipse cx="486.8" cy="330.2" rx="0.5" ry="0.6" transform="rotate(-51 486.8 330.2)" fill="#e6f500"/><ellipse cx="485.3" cy="333.9" rx="0.6" ry="0.8" transform="rotate(-51 485.3 333.9)" fill="#ffa800"/><ellipse cx="473.4" cy="335.9" rx="1.3" ry="0.6" transform="rotate(-60 473.4 335.9)" fill="#ffa800"/><ellipse cx="488.1" cy="330.0" rx="0.5" ry="0.6" transform="rotate(-38 488.1 330.0)" fill="#ffe200"/><ellipse cx="478.8" cy="333.4" rx="0.8" ry="0.5" transform="rotate(-7 478.8 333.4)" fill="#ffe200"/><ellipse cx="481.3" cy="332.3" rx="1.0" ry="0.4" transform="rotate(-28 481.3 332.3)" fill="#ffe200"/><ellipse cx="518.2" cy="316.0" rx="0.6" ry="0.6" transform="rotate(-21 518.2 316.0)" fill="#ffa800"/><ellipse cx="502.1" cy="324.3" rx="0.6" ry="0.6" transform="rotate(-35 502.1 324.3)" fill="#e6f500"/><ellipse cx="518.6" cy="318.4" rx="0.5" ry="0.5" transform="rotate(-33 518.6 318.4)" fill="#e6f500"/><ellipse cx="491.6" cy="329.6" rx="0.8" ry="0.4" transform="rotate(-28 491.6 329.6)" fill="#ffa800"/><ellipse cx="504.5" cy="324.4" rx="1.3" ry="0.8" transform="rotate(-20 504.5 324.4)" fill="#ffe200"/><ellipse cx="521.9" cy="319.6" rx="0.8" ry="0.6" transform="rotate(-10 521.9 319.6)" fill="#ffe200"/><ellipse cx="506.4" cy="321.3" rx="1.0" ry="0.8" transform="rotate(-71 506.4 321.3)" fill="#ffe200"/><ellipse cx="511.2" cy="319.1" rx="0.5" ry="0.4" transform="rotate(-6 511.2 319.1)" fill="#ffe200"/><ellipse cx="497.9" cy="328.3" rx="0.6" ry="0.6" transform="rotate(7 497.9 328.3)" fill="#ffe200"/><ellipse cx="517.7" cy="320.8" rx="0.5" ry="0.4" transform="rotate(-33 517.7 320.8)" fill="#ffe200"/><ellipse cx="496.8" cy="324.6" rx="1.3" ry="0.6" transform="rotate(12 496.8 324.6)" fill="#ffa800"/><ellipse cx="512.6" cy="321.3" rx="0.5" ry="0.4" transform="rotate(-31 512.6 321.3)" fill="#ffa800"/><ellipse cx="514.5" cy="319.6" rx="0.5" ry="0.8" transform="rotate(-6 514.5 319.6)" fill="#ffa800"/><ellipse cx="503.3" cy="327.0" rx="1.0" ry="0.4" transform="rotate(-49 503.3 327.0)" fill="#e6f500"/><ellipse cx="518.0" cy="318.4" rx="0.6" ry="0.4" transform="rotate(4 518.0 318.4)" fill="#ffa800"/><ellipse cx="499.1" cy="325.9" rx="0.6" ry="0.6" transform="rotate(-40 499.1 325.9)" fill="#e6f500"/><ellipse cx="524.4" cy="314.8" rx="1.0" ry="0.5" transform="rotate(-4 524.4 314.8)" fill="#e6f500"/><ellipse cx="518.7" cy="315.8" rx="1.3" ry="0.8" transform="rotate(-14 518.7 315.8)" fill="#ffe200"/><ellipse cx="519.9" cy="320.5" rx="0.5" ry="0.8" transform="rotate(-26 519.9 320.5)" fill="#e6f500"/><ellipse cx="497.9" cy="327.5" rx="0.8" ry="0.8" transform="rotate(12 497.9 327.5)" fill="#ffa800"/><ellipse cx="512.2" cy="319.3" rx="0.6" ry="0.5" transform="rotate(-44 512.2 319.3)" fill="#e6f500"/><ellipse cx="503.0" cy="322.6" rx="0.6" ry="0.8" transform="rotate(-32 503.0 322.6)" fill="#ffa800"/><ellipse cx="511.3" cy="322.3" rx="1.0" ry="0.4" transform="rotate(-29 511.3 322.3)" fill="#ffa800"/><ellipse cx="516.5" cy="321.4" rx="0.6" ry="0.8" transform="rotate(-9 516.5 321.4)" fill="#ffa800"/><ellipse cx="506.2" cy="321.5" rx="1.0" ry="0.8" transform="rotate(2 506.2 321.5)" fill="#ffe200"/><ellipse cx="500.0" cy="329.2" rx="0.6" ry="0.4" transform="rotate(-19 500.0 329.2)" fill="#ffe200"/><ellipse cx="521.3" cy="315.0" rx="0.5" ry="0.4" transform="rotate(-8 521.3 315.0)" fill="#ffa800"/><ellipse cx="505.5" cy="326.6" rx="0.5" ry="0.8" transform="rotate(10 505.5 326.6)" fill="#ffe200"/><ellipse cx="494.9" cy="325.3" rx="0.5" ry="0.4" transform="rotate(-31 494.9 325.3)" fill="#ffe200"/><ellipse cx="517.6" cy="316.6" rx="1.0" ry="0.4" transform="rotate(-37 517.6 316.6)" fill="#ffe200"/><ellipse cx="491.9" cy="330.4" rx="0.5" ry="0.4" transform="rotate(-23 491.9 330.4)" fill="#ffa800"/><ellipse cx="513.9" cy="321.0" rx="1.3" ry="0.5" transform="rotate(-52 513.9 321.0)" fill="#ffe200"/><ellipse cx="520.1" cy="319.4" rx="1.0" ry="0.5" transform="rotate(-20 520.1 319.4)" fill="#ffe200"/><ellipse cx="512.6" cy="319.1" rx="0.5" ry="0.6" transform="rotate(-32 512.6 319.1)" fill="#ffa800"/><ellipse cx="493.1" cy="327.4" rx="0.5" ry="0.4" transform="rotate(-18 493.1 327.4)" fill="#ffe200"/><ellipse cx="501.7" cy="327.1" rx="0.8" ry="0.5" transform="rotate(-6 501.7 327.1)" fill="#ffe200"/><ellipse cx="492.4" cy="326.9" rx="1.3" ry="0.5" transform="rotate(-0 492.4 326.9)" fill="#ffa800"/><ellipse cx="506.2" cy="323.1" rx="0.5" ry="0.4" transform="rotate(-45 506.2 323.1)" fill="#e6f500"/><ellipse cx="514.5" cy="317.2" rx="0.6" ry="0.8" transform="rotate(-42 514.5 317.2)" fill="#e6f500"/><ellipse cx="492.7" cy="329.8" rx="0.6" ry="0.6" transform="rotate(-26 492.7 329.8)" fill="#e6f500"/><ellipse cx="518.6" cy="315.2" rx="1.0" ry="0.4" transform="rotate(-13 518.6 315.2)" fill="#ffe200"/><ellipse cx="497.2" cy="330.0" rx="1.3" ry="0.6" transform="rotate(-35 497.2 330.0)" fill="#ffe200"/><ellipse cx="499.1" cy="326.0" rx="0.5" ry="0.6" transform="rotate(-41 499.1 326.0)" fill="#ffe200"/><ellipse cx="522.4" cy="318.9" rx="0.6" ry="0.6" transform="rotate(-44 522.4 318.9)" fill="#e6f500"/><ellipse cx="508.2" cy="320.4" rx="0.8" ry="0.8" transform="rotate(7 508.2 320.4)" fill="#ffa800"/><ellipse cx="503.5" cy="325.0" rx="1.3" ry="0.4" transform="rotate(-10 503.5 325.0)" fill="#ffa800"/><ellipse cx="510.3" cy="324.5" rx="1.0" ry="0.4" transform="rotate(-26 510.3 324.5)" fill="#ffa800"/><ellipse cx="498.7" cy="328.3" rx="1.0" ry="0.4" transform="rotate(2 498.7 328.3)" fill="#ff7000"/><ellipse cx="496.6" cy="327.2" rx="0.6" ry="0.6" transform="rotate(-43 496.6 327.2)" fill="#ffa800"/><ellipse cx="498.8" cy="325.2" rx="0.6" ry="0.6" transform="rotate(8 498.8 325.2)" fill="#ffa800"/><ellipse cx="514.0" cy="321.8" rx="0.6" ry="0.4" transform="rotate(-18 514.0 321.8)" fill="#ffa800"/><ellipse cx="514.4" cy="318.9" rx="0.5" ry="0.4" transform="rotate(-16 514.4 318.9)" fill="#ffe200"/><ellipse cx="494.8" cy="326.0" rx="1.0" ry="0.6" transform="rotate(-19 494.8 326.0)" fill="#e6f500"/><ellipse cx="507.1" cy="325.7" rx="0.6" ry="0.8" transform="rotate(-24 507.1 325.7)" fill="#ff7000"/><ellipse cx="521.9" cy="318.8" rx="1.0" ry="0.6" transform="rotate(-7 521.9 318.8)" fill="#ffe200"/><ellipse cx="497.6" cy="326.5" rx="0.6" ry="0.6" transform="rotate(-20 497.6 326.5)" fill="#ffa800"/><ellipse cx="499.3" cy="323.5" rx="0.6" ry="0.4" transform="rotate(-31 499.3 323.5)" fill="#e6f500"/><ellipse cx="496.4" cy="328.6" rx="0.6" ry="0.4" transform="rotate(-47 496.4 328.6)" fill="#ffe200"/><ellipse cx="495.0" cy="331.1" rx="1.0" ry="0.6" transform="rotate(-37 495.0 331.1)" fill="#ffa800"/><ellipse cx="509.8" cy="320.4" rx="0.6" ry="0.6" transform="rotate(-20 509.8 320.4)" fill="#ffe200"/><ellipse cx="515.0" cy="317.7" rx="0.8" ry="0.6" transform="rotate(-22 515.0 317.7)" fill="#ffe200"/><ellipse cx="507.9" cy="320.5" rx="0.8" ry="0.8" transform="rotate(-23 507.9 320.5)" fill="#e6f500"/><ellipse cx="491.9" cy="330.4" rx="0.6" ry="0.8" transform="rotate(14 491.9 330.4)" fill="#e6f500"/><ellipse cx="499.8" cy="328.7" rx="0.5" ry="0.8" transform="rotate(-22 499.8 328.7)" fill="#e6f500"/><ellipse cx="497.8" cy="324.3" rx="1.0" ry="0.8" transform="rotate(-19 497.8 324.3)" fill="#ffe200"/><ellipse cx="507.1" cy="324.6" rx="1.0" ry="0.5" transform="rotate(-15 507.1 324.6)" fill="#e6f500"/><ellipse cx="504.4" cy="321.7" rx="0.6" ry="0.4" transform="rotate(-18 504.4 321.7)" fill="#ffe200"/><ellipse cx="505.5" cy="322.4" rx="1.3" ry="0.5" transform="rotate(-27 505.5 322.4)" fill="#ffa800"/><ellipse cx="498.4" cy="327.5" rx="1.0" ry="0.4" transform="rotate(-16 498.4 327.5)" fill="#ffe200"/><ellipse cx="504.6" cy="321.6" rx="0.8" ry="0.5" transform="rotate(-47 504.6 321.6)" fill="#ffe200"/><ellipse cx="507.1" cy="323.1" rx="1.0" ry="0.5" transform="rotate(-27 507.1 323.1)" fill="#ffe200"/><ellipse cx="505.9" cy="322.6" rx="0.8" ry="0.4" transform="rotate(-15 505.9 322.6)" fill="#ffe200"/><ellipse cx="524.6" cy="315.0" rx="0.6" ry="0.4" transform="rotate(1 524.6 315.0)" fill="#ffa800"/><ellipse cx="519.7" cy="320.2" rx="0.5" ry="0.5" transform="rotate(-46 519.7 320.2)" fill="#ffa800"/><ellipse cx="513.0" cy="318.5" rx="0.8" ry="0.5" transform="rotate(-47 513.0 318.5)" fill="#ffe200"/><ellipse cx="520.8" cy="315.9" rx="0.6" ry="0.5" transform="rotate(11 520.8 315.9)" fill="#ffe200"/><ellipse cx="507.0" cy="324.6" rx="1.0" ry="0.5" transform="rotate(-13 507.0 324.6)" fill="#e6f500"/><ellipse cx="501.6" cy="328.5" rx="0.8" ry="0.5" transform="rotate(-13 501.6 328.5)" fill="#e6f500"/><ellipse cx="505.0" cy="325.3" rx="0.5" ry="0.6" transform="rotate(-38 505.0 325.3)" fill="#e6f500"/><ellipse cx="498.7" cy="326.6" rx="1.0" ry="0.5" transform="rotate(-70 498.7 326.6)" fill="#ffa800"/><ellipse cx="498.9" cy="328.7" rx="0.6" ry="0.6" transform="rotate(-25 498.9 328.7)" fill="#ff7000"/><ellipse cx="505.9" cy="322.1" rx="1.0" ry="0.5" transform="rotate(-6 505.9 322.1)" fill="#ffe200"/><ellipse cx="512.8" cy="317.9" rx="0.8" ry="0.5" transform="rotate(-28 512.8 317.9)" fill="#ffe200"/><ellipse cx="518.6" cy="316.0" rx="1.0" ry="0.8" transform="rotate(-17 518.6 316.0)" fill="#ffe200"/><ellipse cx="498.2" cy="324.6" rx="1.0" ry="0.5" transform="rotate(-47 498.2 324.6)" fill="#e6f500"/><ellipse cx="524.3" cy="313.0" rx="0.6" ry="0.5" transform="rotate(-42 524.3 313.0)" fill="#ffe200"/><ellipse cx="494.1" cy="330.5" rx="1.0" ry="0.6" transform="rotate(8 494.1 330.5)" fill="#e6f500"/><ellipse cx="514.5" cy="322.3" rx="1.0" ry="0.4" transform="rotate(-8 514.5 322.3)" fill="#ffe200"/><ellipse cx="521.2" cy="314.4" rx="0.5" ry="0.6" transform="rotate(-32 521.2 314.4)" fill="#ffe200"/><ellipse cx="516.1" cy="317.4" rx="1.0" ry="0.6" transform="rotate(-18 516.1 317.4)" fill="#e6f500"/><ellipse cx="513.4" cy="320.6" rx="0.5" ry="0.8" transform="rotate(-17 513.4 320.6)" fill="#ffe200"/><ellipse cx="513.7" cy="320.9" rx="1.3" ry="0.5" transform="rotate(-10 513.7 320.9)" fill="#ffe200"/><ellipse cx="510.7" cy="320.2" rx="1.0" ry="0.5" transform="rotate(-64 510.7 320.2)" fill="#e6f500"/><ellipse cx="524.1" cy="316.3" rx="0.8" ry="0.4" transform="rotate(-70 524.1 316.3)" fill="#ffa800"/><ellipse cx="493.0" cy="330.1" rx="0.6" ry="0.6" transform="rotate(4 493.0 330.1)" fill="#e6f500"/><ellipse cx="490.9" cy="329.7" rx="0.6" ry="0.8" transform="rotate(-36 490.9 329.7)" fill="#ff7000"/><ellipse cx="517.1" cy="317.3" rx="1.0" ry="0.4" transform="rotate(-56 517.1 317.3)" fill="#ff7000"/><ellipse cx="497.6" cy="326.6" rx="0.6" ry="0.6" transform="rotate(20 497.6 326.6)" fill="#ffa800"/><ellipse cx="503.5" cy="325.8" rx="0.8" ry="0.5" transform="rotate(-32 503.5 325.8)" fill="#ff7000"/><ellipse cx="513.7" cy="322.7" rx="1.0" ry="0.8" transform="rotate(-5 513.7 322.7)" fill="#ffa800"/><ellipse cx="506.8" cy="323.1" rx="0.8" ry="0.6" transform="rotate(-8 506.8 323.1)" fill="#ffe200"/><ellipse cx="516.6" cy="318.0" rx="0.6" ry="0.8" transform="rotate(-12 516.6 318.0)" fill="#ffe200"/><ellipse cx="524.6" cy="316.8" rx="1.3" ry="0.5" transform="rotate(-56 524.6 316.8)" fill="#ffa800"/><ellipse cx="516.2" cy="322.2" rx="0.8" ry="0.6" transform="rotate(-12 516.2 322.2)" fill="#ffe200"/><ellipse cx="492.8" cy="328.9" rx="1.3" ry="0.4" transform="rotate(10 492.8 328.9)" fill="#ffe200"/><ellipse cx="491.2" cy="330.0" rx="0.5" ry="0.4" transform="rotate(-24 491.2 330.0)" fill="#e6f500"/><ellipse cx="493.1" cy="327.5" rx="0.6" ry="0.5" transform="rotate(-38 493.1 327.5)" fill="#ffe200"/><ellipse cx="522.5" cy="318.0" rx="0.5" ry="0.4" transform="rotate(-27 522.5 318.0)" fill="#ff7000"/><ellipse cx="495.4" cy="327.1" rx="1.3" ry="0.6" transform="rotate(-18 495.4 327.1)" fill="#ffe200"/><ellipse cx="505.1" cy="324.0" rx="0.5" ry="0.6" transform="rotate(-24 505.1 324.0)" fill="#ffe200"/><ellipse cx="494.0" cy="329.4" rx="0.8" ry="0.5" transform="rotate(-15 494.0 329.4)" fill="#e6f500"/><ellipse cx="515.7" cy="318.6" rx="1.3" ry="0.4" transform="rotate(-36 515.7 318.6)" fill="#ffa800"/><ellipse cx="519.4" cy="317.3" rx="0.8" ry="0.4" transform="rotate(-27 519.4 317.3)" fill="#ffe200"/><ellipse cx="518.9" cy="320.0" rx="0.6" ry="0.8" transform="rotate(-5 518.9 320.0)" fill="#e6f500"/><ellipse cx="517.2" cy="317.2" rx="0.5" ry="0.8" transform="rotate(-13 517.2 317.2)" fill="#ffa800"/><ellipse cx="494.8" cy="326.5" rx="1.0" ry="0.5" transform="rotate(-30 494.8 326.5)" fill="#ffa800"/><ellipse cx="508.1" cy="323.0" rx="0.8" ry="0.4" transform="rotate(-28 508.1 323.0)" fill="#ffe200"/><ellipse cx="515.2" cy="318.1" rx="1.0" ry="0.5" transform="rotate(-31 515.2 318.1)" fill="#e6f500"/><ellipse cx="497.3" cy="326.1" rx="0.8" ry="0.5" transform="rotate(6 497.3 326.1)" fill="#ffe200"/><ellipse cx="499.1" cy="328.2" rx="0.8" ry="0.8" transform="rotate(-7 499.1 328.2)" fill="#ffe200"/><ellipse cx="514.8" cy="317.3" rx="1.3" ry="0.6" transform="rotate(-51 514.8 317.3)" fill="#ffe200"/><ellipse cx="492.3" cy="329.4" rx="0.6" ry="0.8" transform="rotate(5 492.3 329.4)" fill="#ffe200"/><ellipse cx="502.4" cy="327.0" rx="1.3" ry="0.6" transform="rotate(16 502.4 327.0)" fill="#ffa800"/><ellipse cx="506.8" cy="322.3" rx="1.3" ry="0.8" transform="rotate(3 506.8 322.3)" fill="#ffe200"/><ellipse cx="493.6" cy="330.6" rx="1.3" ry="0.5" transform="rotate(-9 493.6 330.6)" fill="#ffa800"/><ellipse cx="521.2" cy="319.6" rx="1.3" ry="0.8" transform="rotate(-55 521.2 319.6)" fill="#e6f500"/><ellipse cx="515.5" cy="318.5" rx="0.5" ry="0.4" transform="rotate(-8 515.5 318.5)" fill="#ffa800"/><ellipse cx="494.5" cy="331.0" rx="1.3" ry="0.5" transform="rotate(5 494.5 331.0)" fill="#ffe200"/><ellipse cx="513.4" cy="317.7" rx="0.5" ry="0.6" transform="rotate(6 513.4 317.7)" fill="#ffe200"/><ellipse cx="493.4" cy="328.2" rx="0.5" ry="0.4" transform="rotate(21 493.4 328.2)" fill="#ffe200"/><ellipse cx="516.6" cy="317.0" rx="0.5" ry="0.4" transform="rotate(5 516.6 317.0)" fill="#ffe200"/><ellipse cx="519.2" cy="318.6" rx="1.0" ry="0.8" transform="rotate(-40 519.2 318.6)" fill="#ffa800"/><ellipse cx="504.1" cy="326.9" rx="1.0" ry="0.4" transform="rotate(-14 504.1 326.9)" fill="#ffe200"/><ellipse cx="524.4" cy="318.0" rx="0.6" ry="0.5" transform="rotate(-31 524.4 318.0)" fill="#ffa800"/><ellipse cx="500.6" cy="325.8" rx="0.6" ry="0.5" transform="rotate(-41 500.6 325.8)" fill="#ffa800"/><ellipse cx="522.3" cy="316.3" rx="0.6" ry="0.4" transform="rotate(-11 522.3 316.3)" fill="#ffe200"/><ellipse cx="508.0" cy="325.9" rx="0.6" ry="0.6" transform="rotate(-41 508.0 325.9)" fill="#ffe200"/><ellipse cx="516.8" cy="321.2" rx="0.5" ry="0.4" transform="rotate(-35 516.8 321.2)" fill="#e6f500"/><ellipse cx="509.5" cy="319.2" rx="0.8" ry="0.4" transform="rotate(-50 509.5 319.2)" fill="#e6f500"/><ellipse cx="523.1" cy="314.8" rx="0.8" ry="0.6" transform="rotate(-6 523.1 314.8)" fill="#ffe200"/><ellipse cx="511.9" cy="320.6" rx="0.8" ry="0.4" transform="rotate(-53 511.9 320.6)" fill="#e6f500"/><ellipse cx="491.4" cy="330.7" rx="1.3" ry="0.5" transform="rotate(-21 491.4 330.7)" fill="#e6f500"/><ellipse cx="512.1" cy="318.4" rx="0.6" ry="0.5" transform="rotate(-58 512.1 318.4)" fill="#e6f500"/><ellipse cx="499.8" cy="327.2" rx="0.6" ry="0.5" transform="rotate(-50 499.8 327.2)" fill="#ffa800"/><ellipse cx="503.0" cy="326.9" rx="0.8" ry="0.5" transform="rotate(4 503.0 326.9)" fill="#e6f500"/><ellipse cx="520.1" cy="315.2" rx="1.3" ry="0.4" transform="rotate(3 520.1 315.2)" fill="#e6f500"/><ellipse cx="521.0" cy="320.0" rx="0.8" ry="0.8" transform="rotate(-40 521.0 320.0)" fill="#e6f500"/><ellipse cx="518.7" cy="320.5" rx="0.6" ry="0.4" transform="rotate(-19 518.7 320.5)" fill="#ffe200"/><ellipse cx="501.0" cy="322.9" rx="0.5" ry="0.5" transform="rotate(-4 501.0 322.9)" fill="#ffe200"/><ellipse cx="512.0" cy="321.1" rx="1.0" ry="0.6" transform="rotate(14 512.0 321.1)" fill="#e6f500"/><ellipse cx="523.1" cy="314.7" rx="1.3" ry="0.8" transform="rotate(-15 523.1 314.7)" fill="#ffe200"/><ellipse cx="503.4" cy="326.9" rx="0.5" ry="0.4" transform="rotate(-23 503.4 326.9)" fill="#ffa800"/><ellipse cx="505.9" cy="326.1" rx="0.6" ry="0.5" transform="rotate(-42 505.9 326.1)" fill="#ffe200"/><ellipse cx="510.4" cy="324.4" rx="1.3" ry="0.4" transform="rotate(-45 510.4 324.4)" fill="#ffa800"/><ellipse cx="509.4" cy="319.4" rx="0.6" ry="0.8" transform="rotate(-57 509.4 319.4)" fill="#ff7000"/><ellipse cx="496.6" cy="326.3" rx="0.5" ry="0.5" transform="rotate(-55 496.6 326.3)" fill="#e6f500"/><ellipse cx="510.7" cy="319.0" rx="0.8" ry="0.8" transform="rotate(-26 510.7 319.0)" fill="#ffe200"/><ellipse cx="511.9" cy="318.6" rx="0.8" ry="0.5" transform="rotate(-39 511.9 318.6)" fill="#ffa800"/><ellipse cx="515.7" cy="316.6" rx="0.6" ry="0.8" transform="rotate(-14 515.7 316.6)" fill="#ff7000"/><ellipse cx="510.8" cy="323.5" rx="1.3" ry="0.4" transform="rotate(-5 510.8 323.5)" fill="#e6f500"/><ellipse cx="504.1" cy="327.1" rx="0.6" ry="0.4" transform="rotate(18 504.1 327.1)" fill="#e6f500"/><ellipse cx="520.6" cy="318.6" rx="1.0" ry="0.5" transform="rotate(-31 520.6 318.6)" fill="#ffa800"/><ellipse cx="495.9" cy="328.7" rx="0.5" ry="0.8" transform="rotate(-35 495.9 328.7)" fill="#ffe200"/><ellipse cx="514.8" cy="320.6" rx="1.0" ry="0.4" transform="rotate(-22 514.8 320.6)" fill="#ffe200"/><ellipse cx="490.4" cy="329.1" rx="0.6" ry="0.5" transform="rotate(-8 490.4 329.1)" fill="#ffa800"/><ellipse cx="499.4" cy="328.4" rx="0.6" ry="0.4" transform="rotate(-21 499.4 328.4)" fill="#ffa800"/><ellipse cx="515.9" cy="320.8" rx="0.8" ry="0.8" transform="rotate(-11 515.9 320.8)" fill="#e6f500"/><ellipse cx="493.3" cy="331.6" rx="0.5" ry="0.8" transform="rotate(-30 493.3 331.6)" fill="#ffe200"/><ellipse cx="506.9" cy="324.2" rx="1.3" ry="0.6" transform="rotate(-20 506.9 324.2)" fill="#ffe200"/><ellipse cx="516.9" cy="322.1" rx="0.8" ry="0.8" transform="rotate(-18 516.9 322.1)" fill="#ffe200"/><ellipse cx="495.7" cy="326.3" rx="0.5" ry="0.5" transform="rotate(18 495.7 326.3)" fill="#ffe200"/><ellipse cx="501.6" cy="325.6" rx="1.0" ry="0.8" transform="rotate(-13 501.6 325.6)" fill="#ffa800"/><ellipse cx="500.3" cy="326.2" rx="1.0" ry="0.5" transform="rotate(-1 500.3 326.2)" fill="#ffa800"/><ellipse cx="498.4" cy="326.0" rx="0.5" ry="0.6" transform="rotate(-28 498.4 326.0)" fill="#ffa800"/><ellipse cx="502.8" cy="326.3" rx="1.0" ry="0.5" transform="rotate(-17 502.8 326.3)" fill="#ffa800"/><ellipse cx="519.6" cy="318.0" rx="1.0" ry="0.6" transform="rotate(6 519.6 318.0)" fill="#ffa800"/><ellipse cx="515.8" cy="320.6" rx="1.0" ry="0.6" transform="rotate(-14 515.8 320.6)" fill="#ffe200"/><ellipse cx="513.9" cy="321.8" rx="0.8" ry="0.8" transform="rotate(7 513.9 321.8)" fill="#e6f500"/><ellipse cx="511.5" cy="322.4" rx="0.8" ry="0.5" transform="rotate(-23 511.5 322.4)" fill="#ffa800"/><ellipse cx="503.9" cy="322.7" rx="0.5" ry="0.6" transform="rotate(9 503.9 322.7)" fill="#e6f500"/><ellipse cx="505.4" cy="322.6" rx="1.3" ry="0.4" transform="rotate(5 505.4 322.6)" fill="#ffe200"/><ellipse cx="510.1" cy="324.6" rx="0.8" ry="0.6" transform="rotate(-38 510.1 324.6)" fill="#ffe200"/><ellipse cx="512.5" cy="322.7" rx="0.8" ry="0.4" transform="rotate(-41 512.5 322.7)" fill="#ffe200"/><ellipse cx="503.8" cy="323.9" rx="0.8" ry="0.6" transform="rotate(-2 503.8 323.9)" fill="#ffe200"/><ellipse cx="508.8" cy="325.2" rx="1.0" ry="0.4" transform="rotate(-36 508.8 325.2)" fill="#ffe200"/><ellipse cx="498.4" cy="328.3" rx="0.6" ry="0.4" transform="rotate(-11 498.4 328.3)" fill="#ffe200"/><ellipse cx="495.8" cy="330.7" rx="0.5" ry="0.5" transform="rotate(-9 495.8 330.7)" fill="#ffa800"/><ellipse cx="521.5" cy="314.2" rx="0.6" ry="0.4" transform="rotate(-8 521.5 314.2)" fill="#ffa800"/><ellipse cx="520.0" cy="316.8" rx="0.5" ry="0.5" transform="rotate(-37 520.0 316.8)" fill="#ffa800"/><ellipse cx="523.2" cy="312.9" rx="0.5" ry="0.6" transform="rotate(-18 523.2 312.9)" fill="#ffa800"/><ellipse cx="511.7" cy="318.9" rx="0.6" ry="0.4" transform="rotate(-20 511.7 318.9)" fill="#ffe200"/><ellipse cx="512.2" cy="322.1" rx="1.0" ry="0.6" transform="rotate(-5 512.2 322.1)" fill="#ffe200"/><ellipse cx="498.9" cy="325.0" rx="0.5" ry="0.5" transform="rotate(-26 498.9 325.0)" fill="#ffe200"/><ellipse cx="522.3" cy="318.2" rx="1.0" ry="0.4" transform="rotate(-48 522.3 318.2)" fill="#e6f500"/><ellipse cx="510.5" cy="324.1" rx="0.5" ry="0.8" transform="rotate(-44 510.5 324.1)" fill="#ffe200"/><ellipse cx="491.7" cy="330.4" rx="0.6" ry="0.4" transform="rotate(-35 491.7 330.4)" fill="#e6f500"/><ellipse cx="509.3" cy="320.1" rx="0.6" ry="0.8" transform="rotate(-44 509.3 320.1)" fill="#ffe200"/><ellipse cx="513.1" cy="320.7" rx="0.5" ry="0.6" transform="rotate(4 513.1 320.7)" fill="#ffe200"/><ellipse cx="514.1" cy="320.7" rx="1.0" ry="0.6" transform="rotate(-38 514.1 320.7)" fill="#ff7000"/><ellipse cx="524.8" cy="317.7" rx="1.0" ry="0.5" transform="rotate(-41 524.8 317.7)" fill="#ffe200"/><ellipse cx="522.6" cy="318.0" rx="1.3" ry="0.4" transform="rotate(-39 522.6 318.0)" fill="#ff7000"/><ellipse cx="514.2" cy="319.1" rx="1.3" ry="0.6" transform="rotate(-23 514.2 319.1)" fill="#ffe200"/><ellipse cx="520.2" cy="317.3" rx="0.8" ry="0.4" transform="rotate(-43 520.2 317.3)" fill="#ffa800"/><ellipse cx="518.1" cy="315.6" rx="1.0" ry="0.6" transform="rotate(-35 518.1 315.6)" fill="#ffa800"/><ellipse cx="506.4" cy="326.2" rx="0.5" ry="0.5" transform="rotate(-20 506.4 326.2)" fill="#ffe200"/><ellipse cx="499.5" cy="324.1" rx="0.8" ry="0.4" transform="rotate(-7 499.5 324.1)" fill="#ffa800"/><ellipse cx="512.3" cy="318.6" rx="1.0" ry="0.6" transform="rotate(-39 512.3 318.6)" fill="#ffe200"/><ellipse cx="512.9" cy="319.4" rx="1.3" ry="0.8" transform="rotate(-54 512.9 319.4)" fill="#ffa800"/><ellipse cx="515.1" cy="320.7" rx="0.8" ry="0.8" transform="rotate(9 515.1 320.7)" fill="#ffa800"/><ellipse cx="502.1" cy="326.5" rx="0.5" ry="0.5" transform="rotate(-38 502.1 326.5)" fill="#e6f500"/><ellipse cx="501.1" cy="326.4" rx="1.3" ry="0.5" transform="rotate(-70 501.1 326.4)" fill="#ffe200"/><ellipse cx="521.0" cy="319.3" rx="1.0" ry="0.8" transform="rotate(-29 521.0 319.3)" fill="#ffe200"/><ellipse cx="494.1" cy="330.4" rx="0.5" ry="0.5" transform="rotate(2 494.1 330.4)" fill="#ffa800"/><ellipse cx="507.4" cy="324.5" rx="1.3" ry="0.5" transform="rotate(-26 507.4 324.5)" fill="#ff7000"/><ellipse cx="513.7" cy="322.0" rx="0.6" ry="0.6" transform="rotate(-41 513.7 322.0)" fill="#ffe200"/><ellipse cx="497.2" cy="329.9" rx="0.8" ry="0.6" transform="rotate(-57 497.2 329.9)" fill="#e6f500"/><ellipse cx="499.2" cy="329.0" rx="1.3" ry="0.6" transform="rotate(-16 499.2 329.0)" fill="#ff7000"/><ellipse cx="517.8" cy="319.5" rx="1.0" ry="0.5" transform="rotate(-62 517.8 319.5)" fill="#ffe200"/><ellipse cx="523.0" cy="317.9" rx="0.5" ry="0.8" transform="rotate(-36 523.0 317.9)" fill="#ffe200"/><ellipse cx="507.4" cy="325.1" rx="0.6" ry="0.4" transform="rotate(21 507.4 325.1)" fill="#ffa800"/><ellipse cx="503.9" cy="322.6" rx="0.6" ry="0.8" transform="rotate(-34 503.9 322.6)" fill="#ffa800"/><ellipse cx="523.1" cy="316.3" rx="1.3" ry="0.6" transform="rotate(-8 523.1 316.3)" fill="#ffe200"/><ellipse cx="520.9" cy="316.2" rx="0.5" ry="0.5" transform="rotate(-14 520.9 316.2)" fill="#ffa800"/><ellipse cx="500.1" cy="325.1" rx="0.5" ry="0.6" transform="rotate(-33 500.1 325.1)" fill="#ffe200"/><ellipse cx="494.5" cy="327.1" rx="0.8" ry="0.6" transform="rotate(-28 494.5 327.1)" fill="#ffa800"/><ellipse cx="522.0" cy="314.6" rx="0.6" ry="0.6" transform="rotate(1 522.0 314.6)" fill="#ffe200"/><ellipse cx="496.8" cy="326.2" rx="0.6" ry="0.4" transform="rotate(-30 496.8 326.2)" fill="#ffe200"/><ellipse cx="497.0" cy="324.8" rx="0.6" ry="0.4" transform="rotate(-51 497.0 324.8)" fill="#ffa800"/><ellipse cx="524.0" cy="318.6" rx="1.3" ry="0.4" transform="rotate(-30 524.0 318.6)" fill="#ffe200"/><ellipse cx="523.3" cy="313.2" rx="0.5" ry="0.8" transform="rotate(-36 523.3 313.2)" fill="#ffe200"/><ellipse cx="515.4" cy="319.9" rx="0.6" ry="0.4" transform="rotate(18 515.4 319.9)" fill="#ffa800"/><ellipse cx="525.9" cy="317.0" rx="0.5" ry="0.6" transform="rotate(-25 525.9 317.0)" fill="#ffa800"/><ellipse cx="517.4" cy="321.6" rx="1.0" ry="0.8" transform="rotate(-10 517.4 321.6)" fill="#ff7000"/><ellipse cx="491.7" cy="330.1" rx="0.8" ry="0.5" transform="rotate(-29 491.7 330.1)" fill="#ffe200"/><ellipse cx="519.5" cy="314.8" rx="0.5" ry="0.4" transform="rotate(-47 519.5 314.8)" fill="#ff7000"/><ellipse cx="512.7" cy="321.8" rx="1.3" ry="0.5" transform="rotate(-6 512.7 321.8)" fill="#ffe200"/><ellipse cx="521.1" cy="315.4" rx="0.6" ry="0.5" transform="rotate(-0 521.1 315.4)" fill="#ffe200"/><ellipse cx="496.0" cy="328.4" rx="1.3" ry="0.4" transform="rotate(-18 496.0 328.4)" fill="#ffa800"/><ellipse cx="505.0" cy="324.4" rx="0.5" ry="0.4" transform="rotate(-35 505.0 324.4)" fill="#ffe200"/><ellipse cx="496.4" cy="330.2" rx="0.8" ry="0.5" transform="rotate(21 496.4 330.2)" fill="#ffa800"/><ellipse cx="519.7" cy="318.2" rx="1.0" ry="0.6" transform="rotate(-26 519.7 318.2)" fill="#ffa800"/><ellipse cx="493.0" cy="331.9" rx="1.3" ry="0.5" transform="rotate(-16 493.0 331.9)" fill="#e6f500"/><ellipse cx="510.9" cy="319.7" rx="0.5" ry="0.6" transform="rotate(-24 510.9 319.7)" fill="#ffe200"/><ellipse cx="501.3" cy="323.2" rx="0.8" ry="0.4" transform="rotate(-34 501.3 323.2)" fill="#ffa800"/><ellipse cx="522.4" cy="314.7" rx="0.6" ry="0.5" transform="rotate(-44 522.4 314.7)" fill="#ffe200"/><ellipse cx="487.5" cy="343.7" rx="0.6" ry="0.4" transform="rotate(-33 487.5 343.7)" fill="#e6f500"/><ellipse cx="524.6" cy="327.1" rx="0.6" ry="0.4" transform="rotate(-48 524.6 327.1)" fill="#e6f500"/><ellipse cx="470.1" cy="348.9" rx="0.6" ry="0.8" transform="rotate(-58 470.1 348.9)" fill="#e6f500"/><ellipse cx="505.6" cy="334.2" rx="1.0" ry="0.4" transform="rotate(-26 505.6 334.2)" fill="#e6f500"/><ellipse cx="494.7" cy="339.7" rx="1.0" ry="0.4" transform="rotate(-27 494.7 339.7)" fill="#e6f500"/><ellipse cx="484.6" cy="343.0" rx="0.6" ry="0.6" transform="rotate(-35 484.6 343.0)" fill="#ffe200"/><ellipse cx="486.4" cy="340.7" rx="0.5" ry="0.5" transform="rotate(-60 486.4 340.7)" fill="#e6f500"/><ellipse cx="471.3" cy="349.0" rx="0.8" ry="0.4" transform="rotate(-6 471.3 349.0)" fill="#e6f500"/><ellipse cx="506.0" cy="333.4" rx="1.3" ry="0.8" transform="rotate(15 506.0 333.4)" fill="#e6f500"/><ellipse cx="521.1" cy="329.1" rx="1.0" ry="0.5" transform="rotate(3 521.1 329.1)" fill="#e6f500"/><ellipse cx="494.8" cy="337.4" rx="1.3" ry="0.4" transform="rotate(-34 494.8 337.4)" fill="#ffe200"/><ellipse cx="512.0" cy="330.1" rx="0.8" ry="0.5" transform="rotate(-52 512.0 330.1)" fill="#e6f500"/><ellipse cx="501.2" cy="337.2" rx="0.8" ry="0.8" transform="rotate(-40 501.2 337.2)" fill="#ffe200"/><ellipse cx="485.0" cy="345.3" rx="1.0" ry="0.5" transform="rotate(-2 485.0 345.3)" fill="#e6f500"/><ellipse cx="474.1" cy="349.8" rx="0.6" ry="0.6" transform="rotate(-7 474.1 349.8)" fill="#ffe200"/><ellipse cx="475.0" cy="347.9" rx="0.6" ry="0.4" transform="rotate(-48 475.0 347.9)" fill="#e6f500"/><ellipse cx="516.7" cy="328.2" rx="1.3" ry="0.8" transform="rotate(-33 516.7 328.2)" fill="#b4e400"/><ellipse cx="504.9" cy="336.5" rx="1.3" ry="0.5" transform="rotate(3 504.9 336.5)" fill="#e6f500"/><ellipse cx="480.5" cy="346.5" rx="1.3" ry="0.5" transform="rotate(-14 480.5 346.5)" fill="#e6f500"/><ellipse cx="504.7" cy="333.5" rx="0.5" ry="0.8" transform="rotate(-9 504.7 333.5)" fill="#e6f500"/><ellipse cx="501.1" cy="334.6" rx="1.0" ry="0.6" transform="rotate(-25 501.1 334.6)" fill="#e6f500"/><ellipse cx="483.3" cy="345.9" rx="1.3" ry="0.8" transform="rotate(-17 483.3 345.9)" fill="#e6f500"/><ellipse cx="485.7" cy="344.3" rx="0.8" ry="0.5" transform="rotate(-12 485.7 344.3)" fill="#ffe200"/><ellipse cx="517.0" cy="330.5" rx="1.0" ry="0.6" transform="rotate(-20 517.0 330.5)" fill="#e6f500"/><ellipse cx="489.1" cy="341.9" rx="1.0" ry="0.6" transform="rotate(-1 489.1 341.9)" fill="#ffe200"/><ellipse cx="506.8" cy="333.2" rx="0.5" ry="0.6" transform="rotate(-73 506.8 333.2)" fill="#e6f500"/><ellipse cx="471.1" cy="352.1" rx="0.8" ry="0.5" transform="rotate(-55 471.1 352.1)" fill="#e6f500"/><ellipse cx="495.0" cy="339.7" rx="0.6" ry="0.8" transform="rotate(-27 495.0 339.7)" fill="#e6f500"/><ellipse cx="480.4" cy="347.3" rx="0.8" ry="0.8" transform="rotate(-17 480.4 347.3)" fill="#ffe200"/><ellipse cx="492.7" cy="339.4" rx="0.8" ry="0.5" transform="rotate(-19 492.7 339.4)" fill="#b4e400"/><ellipse cx="478.4" cy="345.3" rx="0.6" ry="0.6" transform="rotate(-36 478.4 345.3)" fill="#e6f500"/><ellipse cx="477.7" cy="345.3" rx="1.0" ry="0.5" transform="rotate(17 477.7 345.3)" fill="#e6f500"/><ellipse cx="512.3" cy="331.7" rx="1.3" ry="0.8" transform="rotate(-11 512.3 331.7)" fill="#b4e400"/><ellipse cx="524.9" cy="328.0" rx="1.0" ry="0.8" transform="rotate(-17 524.9 328.0)" fill="#e6f500"/><ellipse cx="512.5" cy="332.5" rx="0.6" ry="0.4" transform="rotate(-10 512.5 332.5)" fill="#e6f500"/><ellipse cx="478.5" cy="344.7" rx="1.3" ry="0.5" transform="rotate(-15 478.5 344.7)" fill="#e6f500"/><ellipse cx="480.5" cy="347.1" rx="1.3" ry="0.6" transform="rotate(-15 480.5 347.1)" fill="#e6f500"/><ellipse cx="500.3" cy="336.7" rx="1.3" ry="0.4" transform="rotate(-30 500.3 336.7)" fill="#e6f500"/><ellipse cx="475.1" cy="347.2" rx="0.8" ry="0.4" transform="rotate(-35 475.1 347.2)" fill="#b4e400"/><ellipse cx="476.0" cy="349.9" rx="0.6" ry="0.8" transform="rotate(-8 476.0 349.9)" fill="#e6f500"/><ellipse cx="501.0" cy="335.9" rx="0.8" ry="0.6" transform="rotate(13 501.0 335.9)" fill="#e6f500"/><ellipse cx="508.3" cy="333.3" rx="0.5" ry="0.4" transform="rotate(-15 508.3 333.3)" fill="#ffe200"/><ellipse cx="494.2" cy="339.5" rx="1.0" ry="0.8" transform="rotate(-10 494.2 339.5)" fill="#e6f500"/><ellipse cx="523.1" cy="328.9" rx="1.0" ry="0.4" transform="rotate(-3 523.1 328.9)" fill="#e6f500"/><ellipse cx="517.4" cy="330.2" rx="0.6" ry="0.6" transform="rotate(16 517.4 330.2)" fill="#e6f500"/><ellipse cx="491.2" cy="340.2" rx="0.8" ry="0.6" transform="rotate(-4 491.2 340.2)" fill="#b4e400"/><ellipse cx="478.2" cy="346.8" rx="1.3" ry="0.5" transform="rotate(-46 478.2 346.8)" fill="#e6f500"/><ellipse cx="490.4" cy="342.0" rx="1.3" ry="0.6" transform="rotate(-21 490.4 342.0)" fill="#e6f500"/><ellipse cx="474.0" cy="350.7" rx="1.3" ry="0.6" transform="rotate(-32 474.0 350.7)" fill="#e6f500"/><ellipse cx="505.5" cy="333.1" rx="0.6" ry="0.8" transform="rotate(-15 505.5 333.1)" fill="#e6f500"/><ellipse cx="518.3" cy="328.0" rx="0.6" ry="0.8" transform="rotate(49 518.3 328.0)" fill="#e6f500"/><ellipse cx="482.6" cy="343.2" rx="1.0" ry="0.5" transform="rotate(-25 482.6 343.2)" fill="#ffe200"/><ellipse cx="490.1" cy="341.7" rx="0.8" ry="0.8" transform="rotate(-13 490.1 341.7)" fill="#ffe200"/><ellipse cx="496.0" cy="338.3" rx="0.6" ry="0.5" transform="rotate(-19 496.0 338.3)" fill="#e6f500"/><ellipse cx="478.0" cy="345.6" rx="1.3" ry="0.5" transform="rotate(-18 478.0 345.6)" fill="#ffe200"/><ellipse cx="516.8" cy="328.9" rx="1.3" ry="0.5" transform="rotate(-45 516.8 328.9)" fill="#ffe200"/><ellipse cx="508.9" cy="331.7" rx="0.6" ry="0.5" transform="rotate(-26 508.9 331.7)" fill="#ffe200"/><ellipse cx="509.7" cy="332.1" rx="0.6" ry="0.6" transform="rotate(-7 509.7 332.1)" fill="#e6f500"/><ellipse cx="498.6" cy="336.0" rx="0.5" ry="0.4" transform="rotate(22 498.6 336.0)" fill="#e6f500"/><ellipse cx="506.8" cy="334.1" rx="0.6" ry="0.6" transform="rotate(-5 506.8 334.1)" fill="#ffe200"/><ellipse cx="473.1" cy="350.9" rx="1.3" ry="0.5" transform="rotate(-21 473.1 350.9)" fill="#e6f500"/><ellipse cx="515.1" cy="331.2" rx="1.3" ry="0.5" transform="rotate(-25 515.1 331.2)" fill="#ffe200"/><ellipse cx="480.7" cy="347.1" rx="0.8" ry="0.6" transform="rotate(-29 480.7 347.1)" fill="#e6f500"/><ellipse cx="472.8" cy="350.0" rx="0.5" ry="0.4" transform="rotate(-22 472.8 350.0)" fill="#e6f500"/><ellipse cx="484.7" cy="342.6" rx="0.6" ry="0.8" transform="rotate(11 484.7 342.6)" fill="#e6f500"/><ellipse cx="523.2" cy="327.1" rx="0.5" ry="0.4" transform="rotate(-48 523.2 327.1)" fill="#ffe200"/><ellipse cx="480.8" cy="343.8" rx="1.3" ry="0.5" transform="rotate(-4 480.8 343.8)" fill="#e6f500"/><ellipse cx="498.5" cy="336.9" rx="1.0" ry="0.5" transform="rotate(-33 498.5 336.9)" fill="#b4e400"/><ellipse cx="480.7" cy="344.6" rx="0.6" ry="0.6" transform="rotate(-4 480.7 344.6)" fill="#e6f500"/><ellipse cx="480.8" cy="344.3" rx="0.8" ry="0.8" transform="rotate(-34 480.8 344.3)" fill="#e6f500"/><ellipse cx="495.7" cy="336.7" rx="0.8" ry="0.8" transform="rotate(-21 495.7 336.7)" fill="#e6f500"/><ellipse cx="488.5" cy="342.5" rx="1.0" ry="0.5" transform="rotate(-60 488.5 342.5)" fill="#e6f500"/><ellipse cx="478.0" cy="348.6" rx="0.6" ry="0.5" transform="rotate(-50 478.0 348.6)" fill="#e6f500"/><ellipse cx="513.3" cy="329.7" rx="0.8" ry="0.6" transform="rotate(-19 513.3 329.7)" fill="#ffe200"/><ellipse cx="495.1" cy="338.3" rx="1.0" ry="0.4" transform="rotate(-34 495.1 338.3)" fill="#ffe200"/><ellipse cx="486.1" cy="343.9" rx="0.6" ry="0.5" transform="rotate(-34 486.1 343.9)" fill="#ffe200"/><ellipse cx="478.5" cy="347.3" rx="1.0" ry="0.8" transform="rotate(17 478.5 347.3)" fill="#e6f500"/><ellipse cx="506.6" cy="335.9" rx="0.6" ry="0.4" transform="rotate(8 506.6 335.9)" fill="#e6f500"/><ellipse cx="479.0" cy="348.0" rx="1.0" ry="0.8" transform="rotate(-39 479.0 348.0)" fill="#e6f500"/><ellipse cx="474.5" cy="349.5" rx="0.6" ry="0.5" transform="rotate(1 474.5 349.5)" fill="#e6f500"/><ellipse cx="498.3" cy="337.2" rx="0.5" ry="0.5" transform="rotate(-60 498.3 337.2)" fill="#e6f500"/><ellipse cx="518.4" cy="329.6" rx="0.5" ry="0.8" transform="rotate(-24 518.4 329.6)" fill="#e6f500"/><ellipse cx="511.8" cy="331.1" rx="1.3" ry="0.5" transform="rotate(-25 511.8 331.1)" fill="#ffe200"/><ellipse cx="489.5" cy="341.0" rx="0.5" ry="0.5" transform="rotate(-41 489.5 341.0)" fill="#ffe200"/><ellipse cx="477.4" cy="347.4" rx="1.3" ry="0.4" transform="rotate(-28 477.4 347.4)" fill="#e6f500"/><ellipse cx="479.8" cy="345.0" rx="0.5" ry="0.6" transform="rotate(-36 479.8 345.0)" fill="#e6f500"/><ellipse cx="482.4" cy="343.8" rx="1.0" ry="0.4" transform="rotate(-46 482.4 343.8)" fill="#ffe200"/><ellipse cx="516.2" cy="328.5" rx="0.5" ry="0.8" transform="rotate(-19 516.2 328.5)" fill="#ffe200"/><ellipse cx="512.8" cy="333.4" rx="1.0" ry="0.8" transform="rotate(-22 512.8 333.4)" fill="#ffe200"/><ellipse cx="497.7" cy="336.6" rx="1.0" ry="0.4" transform="rotate(-17 497.7 336.6)" fill="#e6f500"/><ellipse cx="514.0" cy="331.9" rx="1.3" ry="0.8" transform="rotate(-35 514.0 331.9)" fill="#e6f500"/><ellipse cx="515.3" cy="332.0" rx="1.0" ry="0.5" transform="rotate(-47 515.3 332.0)" fill="#ffe200"/><ellipse cx="499.5" cy="336.8" rx="1.3" ry="0.4" transform="rotate(-35 499.5 336.8)" fill="#e6f500"/><ellipse cx="490.0" cy="342.4" rx="0.5" ry="0.4" transform="rotate(-34 490.0 342.4)" fill="#e6f500"/><ellipse cx="495.1" cy="337.4" rx="0.8" ry="0.8" transform="rotate(-9 495.1 337.4)" fill="#ffe200"/><ellipse cx="508.7" cy="332.1" rx="1.0" ry="0.4" transform="rotate(11 508.7 332.1)" fill="#ffe200"/><ellipse cx="469.7" cy="350.7" rx="0.8" ry="0.4" transform="rotate(-38 469.7 350.7)" fill="#e6f500"/><ellipse cx="505.5" cy="333.7" rx="0.8" ry="0.6" transform="rotate(2 505.5 333.7)" fill="#ffe200"/><ellipse cx="506.3" cy="332.9" rx="0.8" ry="0.4" transform="rotate(2 506.3 332.9)" fill="#ffe200"/><ellipse cx="520.0" cy="329.2" rx="1.3" ry="0.8" transform="rotate(-8 520.0 329.2)" fill="#ffe200"/><ellipse cx="510.4" cy="334.1" rx="1.0" ry="0.8" transform="rotate(-7 510.4 334.1)" fill="#e6f500"/><ellipse cx="492.3" cy="338.8" rx="0.6" ry="0.6" transform="rotate(-7 492.3 338.8)" fill="#e6f500"/><ellipse cx="508.1" cy="333.0" rx="0.5" ry="0.4" transform="rotate(-49 508.1 333.0)" fill="#ffe200"/><ellipse cx="484.1" cy="345.5" rx="0.6" ry="0.8" transform="rotate(-30 484.1 345.5)" fill="#e6f500"/><ellipse cx="502.2" cy="335.4" rx="0.6" ry="0.6" transform="rotate(-32 502.2 335.4)" fill="#b4e400"/><ellipse cx="482.1" cy="345.0" rx="1.0" ry="0.4" transform="rotate(-34 482.1 345.0)" fill="#e6f500"/><ellipse cx="493.7" cy="340.9" rx="0.5" ry="0.4" transform="rotate(-31 493.7 340.9)" fill="#b4e400"/><ellipse cx="474.5" cy="347.9" rx="0.5" ry="0.8" transform="rotate(-2 474.5 347.9)" fill="#e6f500"/><ellipse cx="512.5" cy="330.0" rx="0.5" ry="0.4" transform="rotate(0 512.5 330.0)" fill="#e6f500"/><ellipse cx="501.5" cy="334.5" rx="0.8" ry="0.8" transform="rotate(-18 501.5 334.5)" fill="#e6f500"/><ellipse cx="500.8" cy="335.7" rx="0.5" ry="0.8" transform="rotate(3 500.8 335.7)" fill="#e6f500"/><ellipse cx="471.3" cy="348.7" rx="1.0" ry="0.4" transform="rotate(-31 471.3 348.7)" fill="#e6f500"/><ellipse cx="481.3" cy="346.6" rx="0.8" ry="0.5" transform="rotate(-7 481.3 346.6)" fill="#e6f500"/><ellipse cx="469.7" cy="350.8" rx="0.8" ry="0.6" transform="rotate(-48 469.7 350.8)" fill="#e6f500"/><ellipse cx="504.0" cy="335.2" rx="0.8" ry="0.5" transform="rotate(-2 504.0 335.2)" fill="#e6f500"/><ellipse cx="487.0" cy="343.7" rx="0.8" ry="0.6" transform="rotate(-13 487.0 343.7)" fill="#e6f500"/><ellipse cx="491.9" cy="341.6" rx="0.6" ry="0.8" transform="rotate(-30 491.9 341.6)" fill="#b4e400"/><ellipse cx="483.6" cy="345.3" rx="1.3" ry="0.5" transform="rotate(29 483.6 345.3)" fill="#e6f500"/><ellipse cx="498.4" cy="336.0" rx="0.8" ry="0.5" transform="rotate(-21 498.4 336.0)" fill="#e6f500"/><ellipse cx="507.4" cy="335.4" rx="1.0" ry="0.8" transform="rotate(-25 507.4 335.4)" fill="#e6f500"/><ellipse cx="504.4" cy="334.2" rx="1.3" ry="0.8" transform="rotate(-18 504.4 334.2)" fill="#e6f500"/><ellipse cx="480.2" cy="347.6" rx="1.0" ry="0.8" transform="rotate(-39 480.2 347.6)" fill="#e6f500"/><ellipse cx="505.6" cy="334.7" rx="1.3" ry="0.8" transform="rotate(-6 505.6 334.7)" fill="#e6f500"/><ellipse cx="480.0" cy="347.7" rx="1.3" ry="0.6" transform="rotate(-29 480.0 347.7)" fill="#b4e400"/><ellipse cx="494.8" cy="340.2" rx="1.3" ry="0.5" transform="rotate(-20 494.8 340.2)" fill="#ffe200"/><ellipse cx="517.3" cy="328.6" rx="1.0" ry="0.8" transform="rotate(10 517.3 328.6)" fill="#e6f500"/><ellipse cx="502.6" cy="337.6" rx="1.3" ry="0.5" transform="rotate(-12 502.6 337.6)" fill="#e6f500"/><ellipse cx="477.5" cy="347.4" rx="0.6" ry="0.8" transform="rotate(-35 477.5 347.4)" fill="#e6f500"/><ellipse cx="473.8" cy="347.6" rx="0.8" ry="0.6" transform="rotate(-28 473.8 347.6)" fill="#e6f500"/><ellipse cx="483.5" cy="343.7" rx="0.5" ry="0.8" transform="rotate(-41 483.5 343.7)" fill="#e6f500"/><ellipse cx="494.3" cy="338.9" rx="0.5" ry="0.5" transform="rotate(-46 494.3 338.9)" fill="#e6f500"/><ellipse cx="482.3" cy="345.1" rx="1.0" ry="0.8" transform="rotate(-53 482.3 345.1)" fill="#e6f500"/><ellipse cx="496.1" cy="337.4" rx="0.8" ry="0.4" transform="rotate(-34 496.1 337.4)" fill="#b4e400"/><ellipse cx="476.3" cy="349.2" rx="0.5" ry="0.8" transform="rotate(25 476.3 349.2)" fill="#e6f500"/><ellipse cx="513.4" cy="329.9" rx="1.0" ry="0.5" transform="rotate(-39 513.4 329.9)" fill="#e6f500"/><ellipse cx="508.1" cy="333.8" rx="0.8" ry="0.8" transform="rotate(-27 508.1 333.8)" fill="#b4e400"/><ellipse cx="514.0" cy="331.2" rx="0.8" ry="0.4" transform="rotate(-44 514.0 331.2)" fill="#e6f500"/><ellipse cx="483.3" cy="345.2" rx="0.8" ry="0.6" transform="rotate(14 483.3 345.2)" fill="#b4e400"/><ellipse cx="511.9" cy="331.7" rx="0.8" ry="0.4" transform="rotate(-56 511.9 331.7)" fill="#ffe200"/><ellipse cx="477.9" cy="345.4" rx="0.6" ry="0.5" transform="rotate(-19 477.9 345.4)" fill="#e6f500"/><ellipse cx="495.6" cy="337.9" rx="1.0" ry="0.8" transform="rotate(42 495.6 337.9)" fill="#ffe200"/><ellipse cx="503.2" cy="334.2" rx="0.5" ry="0.5" transform="rotate(-43 503.2 334.2)" fill="#e6f500"/><ellipse cx="471.6" cy="348.2" rx="1.3" ry="0.4" transform="rotate(-1 471.6 348.2)" fill="#e6f500"/><ellipse cx="516.4" cy="331.0" rx="1.3" ry="0.8" transform="rotate(-45 516.4 331.0)" fill="#e6f500"/><ellipse cx="485.8" cy="342.9" rx="1.3" ry="0.4" transform="rotate(-50 485.8 342.9)" fill="#e6f500"/><ellipse cx="502.9" cy="337.5" rx="0.6" ry="0.5" transform="rotate(-4 502.9 337.5)" fill="#e6f500"/><ellipse cx="468.6" cy="349.8" rx="1.0" ry="0.8" transform="rotate(-6 468.6 349.8)" fill="#b4e400"/><ellipse cx="515.4" cy="330.7" rx="1.3" ry="0.6" transform="rotate(-16 515.4 330.7)" fill="#e6f500"/><ellipse cx="489.8" cy="339.9" rx="1.3" ry="0.8" transform="rotate(-32 489.8 339.9)" fill="#e6f500"/><ellipse cx="474.3" cy="349.4" rx="1.0" ry="0.8" transform="rotate(-31 474.3 349.4)" fill="#ffe200"/><ellipse cx="501.2" cy="334.8" rx="0.8" ry="0.4" transform="rotate(-55 501.2 334.8)" fill="#e6f500"/><ellipse cx="492.0" cy="340.4" rx="0.5" ry="0.8" transform="rotate(-46 492.0 340.4)" fill="#b4e400"/><ellipse cx="482.7" cy="344.8" rx="1.3" ry="0.4" transform="rotate(-39 482.7 344.8)" fill="#e6f500"/><ellipse cx="499.2" cy="338.8" rx="1.3" ry="0.8" transform="rotate(-10 499.2 338.8)" fill="#b4e400"/><ellipse cx="500.6" cy="338.4" rx="1.3" ry="0.5" transform="rotate(-0 500.6 338.4)" fill="#e6f500"/><ellipse cx="495.2" cy="339.2" rx="1.3" ry="0.4" transform="rotate(-18 495.2 339.2)" fill="#ffe200"/><ellipse cx="520.7" cy="326.2" rx="0.5" ry="0.5" transform="rotate(-41 520.7 326.2)" fill="#e6f500"/><ellipse cx="504.9" cy="336.0" rx="0.6" ry="0.8" transform="rotate(15 504.9 336.0)" fill="#ffe200"/><ellipse cx="510.4" cy="333.3" rx="1.3" ry="0.5" transform="rotate(11 510.4 333.3)" fill="#b4e400"/><ellipse cx="512.7" cy="333.3" rx="0.6" ry="0.8" transform="rotate(-28 512.7 333.3)" fill="#e6f500"/><ellipse cx="490.1" cy="340.2" rx="1.3" ry="0.6" transform="rotate(-23 490.1 340.2)" fill="#b4e400"/><ellipse cx="469.3" cy="350.2" rx="1.0" ry="0.4" transform="rotate(-37 469.3 350.2)" fill="#b4e400"/><ellipse cx="478.4" cy="348.1" rx="0.5" ry="0.6" transform="rotate(-47 478.4 348.1)" fill="#e6f500"/><ellipse cx="476.8" cy="346.0" rx="0.8" ry="0.4" transform="rotate(-12 476.8 346.0)" fill="#e6f500"/><ellipse cx="476.0" cy="349.1" rx="0.5" ry="0.5" transform="rotate(-38 476.0 349.1)" fill="#b4e400"/><ellipse cx="477.0" cy="346.6" rx="0.5" ry="0.4" transform="rotate(-27 477.0 346.6)" fill="#ffe200"/><ellipse cx="514.1" cy="329.4" rx="1.3" ry="0.6" transform="rotate(-20 514.1 329.4)" fill="#b4e400"/><ellipse cx="475.4" cy="346.9" rx="1.0" ry="0.5" transform="rotate(-61 475.4 346.9)" fill="#ffe200"/><ellipse cx="499.7" cy="336.0" rx="0.6" ry="0.6" transform="rotate(-22 499.7 336.0)" fill="#b4e400"/><ellipse cx="482.6" cy="345.4" rx="0.5" ry="0.5" transform="rotate(-2 482.6 345.4)" fill="#ffe200"/><ellipse cx="511.0" cy="331.5" rx="1.0" ry="0.5" transform="rotate(-10 511.0 331.5)" fill="#e6f500"/><ellipse cx="473.6" cy="348.7" rx="0.6" ry="0.5" transform="rotate(-16 473.6 348.7)" fill="#e6f500"/><ellipse cx="519.9" cy="326.5" rx="0.6" ry="0.5" transform="rotate(-6 519.9 326.5)" fill="#e6f500"/><ellipse cx="472.2" cy="351.5" rx="1.0" ry="0.4" transform="rotate(-36 472.2 351.5)" fill="#e6f500"/><ellipse cx="487.4" cy="341.1" rx="1.0" ry="0.6" transform="rotate(-19 487.4 341.1)" fill="#ffe200"/><ellipse cx="475.6" cy="347.6" rx="0.8" ry="0.8" transform="rotate(-58 475.6 347.6)" fill="#e6f500"/><ellipse cx="509.4" cy="331.8" rx="1.0" ry="0.6" transform="rotate(-31 509.4 331.8)" fill="#e6f500"/><ellipse cx="520.6" cy="329.8" rx="1.0" ry="0.4" transform="rotate(-9 520.6 329.8)" fill="#e6f500"/><ellipse cx="516.3" cy="329.0" rx="1.3" ry="0.5" transform="rotate(-24 516.3 329.0)" fill="#e6f500"/><ellipse cx="478.6" cy="344.6" rx="1.0" ry="0.6" transform="rotate(-18 478.6 344.6)" fill="#e6f500"/><ellipse cx="475.8" cy="348.5" rx="0.6" ry="0.6" transform="rotate(-30 475.8 348.5)" fill="#e6f500"/><ellipse cx="475.6" cy="347.4" rx="1.0" ry="0.6" transform="rotate(-72 475.6 347.4)" fill="#b4e400"/><ellipse cx="519.7" cy="330.2" rx="0.6" ry="0.5" transform="rotate(-74 519.7 330.2)" fill="#b4e400"/><ellipse cx="504.6" cy="336.4" rx="1.0" ry="0.4" transform="rotate(-15 504.6 336.4)" fill="#e6f500"/><ellipse cx="498.3" cy="337.5" rx="1.0" ry="0.4" transform="rotate(7 498.3 337.5)" fill="#e6f500"/><ellipse cx="490.9" cy="339.3" rx="0.5" ry="0.4" transform="rotate(-50 490.9 339.3)" fill="#ffe200"/><ellipse cx="524.0" cy="325.7" rx="1.0" ry="0.8" transform="rotate(-22 524.0 325.7)" fill="#e6f500"/><ellipse cx="474.0" cy="347.2" rx="1.3" ry="0.4" transform="rotate(-8 474.0 347.2)" fill="#e6f500"/><ellipse cx="493.9" cy="341.1" rx="1.0" ry="0.5" transform="rotate(-38 493.9 341.1)" fill="#e6f500"/><ellipse cx="503.4" cy="335.5" rx="1.0" ry="0.6" transform="rotate(-12 503.4 335.5)" fill="#e6f500"/><ellipse cx="486.4" cy="342.6" rx="1.3" ry="0.5" transform="rotate(-79 486.4 342.6)" fill="#ffe200"/><ellipse cx="513.3" cy="329.5" rx="0.8" ry="0.4" transform="rotate(-5 513.3 329.5)" fill="#b4e400"/><ellipse cx="482.4" cy="345.8" rx="1.3" ry="0.4" transform="rotate(-50 482.4 345.8)" fill="#e6f500"/><ellipse cx="472.5" cy="350.3" rx="0.5" ry="0.8" transform="rotate(-17 472.5 350.3)" fill="#e6f500"/><ellipse cx="498.1" cy="338.5" rx="0.8" ry="0.8" transform="rotate(-29 498.1 338.5)" fill="#e6f500"/><ellipse cx="471.0" cy="350.3" rx="0.5" ry="0.8" transform="rotate(-17 471.0 350.3)" fill="#ffe200"/><ellipse cx="532.3" cy="310.5" rx="0.6" ry="0.5" transform="rotate(-26 532.3 310.5)" fill="#ffe200"/><ellipse cx="537.2" cy="309.5" rx="0.8" ry="0.5" transform="rotate(-24 537.2 309.5)" fill="#e6f500"/><ellipse cx="541.2" cy="304.0" rx="0.8" ry="0.6" transform="rotate(-49 541.2 304.0)" fill="#e6f500"/><ellipse cx="539.7" cy="302.8" rx="0.8" ry="0.8" transform="rotate(-42 539.7 302.8)" fill="#e6f500"/><ellipse cx="544.7" cy="298.3" rx="0.8" ry="0.6" transform="rotate(-75 544.7 298.3)" fill="#e6f500"/><ellipse cx="538.4" cy="304.7" rx="0.6" ry="0.6" transform="rotate(-23 538.4 304.7)" fill="#e6f500"/><ellipse cx="536.5" cy="307.2" rx="0.5" ry="0.4" transform="rotate(-52 536.5 307.2)" fill="#e6f500"/><ellipse cx="544.5" cy="303.1" rx="1.0" ry="0.6" transform="rotate(-79 544.5 303.1)" fill="#e6f500"/><ellipse cx="536.5" cy="309.5" rx="0.5" ry="0.8" transform="rotate(-48 536.5 309.5)" fill="#ffe200"/><ellipse cx="530.7" cy="311.5" rx="0.5" ry="0.6" transform="rotate(-35 530.7 311.5)" fill="#e6f500"/><ellipse cx="541.1" cy="302.0" rx="1.3" ry="0.5" transform="rotate(-35 541.1 302.0)" fill="#e6f500"/><ellipse cx="536.2" cy="306.1" rx="0.6" ry="0.6" transform="rotate(-73 536.2 306.1)" fill="#e6f500"/><ellipse cx="525.1" cy="313.1" rx="0.6" ry="0.5" transform="rotate(-16 525.1 313.1)" fill="#e6f500"/><ellipse cx="532.2" cy="310.0" rx="1.3" ry="0.5" transform="rotate(-34 532.2 310.0)" fill="#b4e400"/><ellipse cx="533.8" cy="312.0" rx="1.0" ry="0.6" transform="rotate(-52 533.8 312.0)" fill="#ffe200"/><ellipse cx="543.9" cy="306.2" rx="0.8" ry="0.6" transform="rotate(-22 543.9 306.2)" fill="#ffe200"/><ellipse cx="550.4" cy="299.1" rx="0.6" ry="0.8" transform="rotate(-44 550.4 299.1)" fill="#e6f500"/><ellipse cx="534.7" cy="311.3" rx="0.8" ry="0.6" transform="rotate(-13 534.7 311.3)" fill="#e6f500"/><ellipse cx="546.4" cy="299.0" rx="0.8" ry="0.6" transform="rotate(-45 546.4 299.0)" fill="#e6f500"/><ellipse cx="529.1" cy="310.8" rx="1.3" ry="0.8" transform="rotate(-18 529.1 310.8)" fill="#e6f500"/><ellipse cx="534.7" cy="309.8" rx="1.0" ry="0.6" transform="rotate(-25 534.7 309.8)" fill="#e6f500"/><ellipse cx="536.3" cy="307.1" rx="0.6" ry="0.5" transform="rotate(-42 536.3 307.1)" fill="#ffe200"/><ellipse cx="538.9" cy="303.4" rx="0.5" ry="0.5" transform="rotate(0 538.9 303.4)" fill="#ffe200"/><ellipse cx="531.5" cy="311.6" rx="1.0" ry="0.6" transform="rotate(-46 531.5 311.6)" fill="#ffe200"/><ellipse cx="533.6" cy="307.0" rx="1.3" ry="0.8" transform="rotate(-35 533.6 307.0)" fill="#e6f500"/><ellipse cx="541.3" cy="301.1" rx="0.8" ry="0.6" transform="rotate(-49 541.3 301.1)" fill="#e6f500"/><ellipse cx="529.1" cy="312.7" rx="0.5" ry="0.5" transform="rotate(-11 529.1 312.7)" fill="#ffe200"/><ellipse cx="527.6" cy="311.3" rx="0.8" ry="0.8" transform="rotate(4 527.6 311.3)" fill="#e6f500"/><ellipse cx="538.1" cy="309.4" rx="0.5" ry="0.8" transform="rotate(-28 538.1 309.4)" fill="#ffe200"/><ellipse cx="530.5" cy="312.2" rx="0.5" ry="0.8" transform="rotate(6 530.5 312.2)" fill="#ffe200"/><ellipse cx="544.5" cy="303.2" rx="0.5" ry="0.5" transform="rotate(4 544.5 303.2)" fill="#ffe200"/><ellipse cx="542.7" cy="302.2" rx="0.5" ry="0.8" transform="rotate(-7 542.7 302.2)" fill="#e6f500"/><ellipse cx="537.9" cy="305.7" rx="1.0" ry="0.8" transform="rotate(-62 537.9 305.7)" fill="#e6f500"/><ellipse cx="535.0" cy="311.8" rx="0.5" ry="0.5" transform="rotate(-53 535.0 311.8)" fill="#e6f500"/><ellipse cx="528.3" cy="315.6" rx="0.5" ry="0.4" transform="rotate(-37 528.3 315.6)" fill="#e6f500"/><ellipse cx="544.8" cy="298.4" rx="0.6" ry="0.4" transform="rotate(-56 544.8 298.4)" fill="#e6f500"/><ellipse cx="539.0" cy="310.0" rx="0.5" ry="0.8" transform="rotate(-45 539.0 310.0)" fill="#b4e400"/><ellipse cx="530.8" cy="308.3" rx="0.6" ry="0.8" transform="rotate(-40 530.8 308.3)" fill="#b4e400"/><ellipse cx="542.7" cy="301.4" rx="1.3" ry="0.6" transform="rotate(-11 542.7 301.4)" fill="#e6f500"/><ellipse cx="537.1" cy="311.5" rx="0.5" ry="0.8" transform="rotate(-3 537.1 311.5)" fill="#e6f500"/><ellipse cx="528.1" cy="316.7" rx="0.5" ry="0.8" transform="rotate(12 528.1 316.7)" fill="#ffe200"/><ellipse cx="537.4" cy="307.6" rx="0.6" ry="0.8" transform="rotate(-7 537.4 307.6)" fill="#ffe200"/><ellipse cx="529.7" cy="315.0" rx="0.6" ry="0.4" transform="rotate(-41 529.7 315.0)" fill="#e6f500"/><ellipse cx="541.7" cy="305.0" rx="1.3" ry="0.5" transform="rotate(-29 541.7 305.0)" fill="#b4e400"/><ellipse cx="529.3" cy="308.9" rx="0.5" ry="0.4" transform="rotate(-36 529.3 308.9)" fill="#e6f500"/><ellipse cx="527.3" cy="316.5" rx="1.0" ry="0.5" transform="rotate(-12 527.3 316.5)" fill="#ffe200"/><ellipse cx="533.7" cy="311.8" rx="1.3" ry="0.8" transform="rotate(-21 533.7 311.8)" fill="#ffe200"/><ellipse cx="529.1" cy="311.4" rx="0.6" ry="0.6" transform="rotate(-3 529.1 311.4)" fill="#b4e400"/><ellipse cx="527.4" cy="311.4" rx="0.8" ry="0.5" transform="rotate(-2 527.4 311.4)" fill="#b4e400"/><ellipse cx="542.1" cy="305.4" rx="1.3" ry="0.4" transform="rotate(-17 542.1 305.4)" fill="#e6f500"/><ellipse cx="544.6" cy="302.9" rx="1.0" ry="0.4" transform="rotate(-22 544.6 302.9)" fill="#e6f500"/><ellipse cx="538.7" cy="305.6" rx="1.0" ry="0.5" transform="rotate(-22 538.7 305.6)" fill="#e6f500"/><ellipse cx="536.2" cy="312.3" rx="0.5" ry="0.8" transform="rotate(-24 536.2 312.3)" fill="#e6f500"/><ellipse cx="528.6" cy="310.1" rx="0.5" ry="0.5" transform="rotate(-25 528.6 310.1)" fill="#e6f500"/><ellipse cx="527.8" cy="310.0" rx="0.8" ry="0.4" transform="rotate(-38 527.8 310.0)" fill="#b4e400"/><ellipse cx="531.8" cy="312.4" rx="1.0" ry="0.6" transform="rotate(-67 531.8 312.4)" fill="#ffe200"/><ellipse cx="548.9" cy="302.3" rx="0.6" ry="0.6" transform="rotate(-46 548.9 302.3)" fill="#e6f500"/><ellipse cx="541.9" cy="308.2" rx="1.0" ry="0.5" transform="rotate(-33 541.9 308.2)" fill="#b4e400"/><ellipse cx="534.5" cy="307.5" rx="1.3" ry="0.8" transform="rotate(-40 534.5 307.5)" fill="#ffe200"/><ellipse cx="549.7" cy="300.2" rx="0.6" ry="0.4" transform="rotate(-68 549.7 300.2)" fill="#ffe200"/><ellipse cx="525.1" cy="314.0" rx="0.5" ry="0.5" transform="rotate(-59 525.1 314.0)" fill="#e6f500"/><ellipse cx="532.0" cy="313.9" rx="0.5" ry="0.8" transform="rotate(-28 532.0 313.9)" fill="#e6f500"/><ellipse cx="547.4" cy="302.0" rx="0.5" ry="0.6" transform="rotate(-89 547.4 302.0)" fill="#ffe200"/><ellipse cx="524.9" cy="312.9" rx="1.3" ry="0.5" transform="rotate(-33 524.9 312.9)" fill="#e6f500"/><ellipse cx="532.7" cy="307.3" rx="0.6" ry="0.6" transform="rotate(-9 532.7 307.3)" fill="#e6f500"/><ellipse cx="530.4" cy="315.3" rx="0.8" ry="0.6" transform="rotate(-9 530.4 315.3)" fill="#b4e400"/><ellipse cx="542.2" cy="303.7" rx="1.0" ry="0.5" transform="rotate(-39 542.2 303.7)" fill="#b4e400"/><ellipse cx="528.5" cy="310.6" rx="0.6" ry="0.5" transform="rotate(-44 528.5 310.6)" fill="#ffe200"/><ellipse cx="530.6" cy="314.1" rx="1.0" ry="0.5" transform="rotate(-41 530.6 314.1)" fill="#ffe200"/><ellipse cx="547.2" cy="299.6" rx="0.8" ry="0.5" transform="rotate(-10 547.2 299.6)" fill="#b4e400"/><ellipse cx="539.0" cy="308.0" rx="0.6" ry="0.5" transform="rotate(-49 539.0 308.0)" fill="#ffe200"/><ellipse cx="535.1" cy="310.9" rx="1.0" ry="0.5" transform="rotate(-17 535.1 310.9)" fill="#e6f500"/><ellipse cx="543.2" cy="307.2" rx="1.0" ry="0.5" transform="rotate(-35 543.2 307.2)" fill="#e6f500"/><ellipse cx="531.1" cy="309.5" rx="0.8" ry="0.8" transform="rotate(-43 531.1 309.5)" fill="#e6f500"/><ellipse cx="531.0" cy="310.1" rx="0.5" ry="0.4" transform="rotate(-31 531.0 310.1)" fill="#e6f500"/><ellipse cx="525.9" cy="314.7" rx="1.3" ry="0.4" transform="rotate(-9 525.9 314.7)" fill="#ffe200"/><ellipse cx="539.6" cy="305.5" rx="0.8" ry="0.8" transform="rotate(-34 539.6 305.5)" fill="#e6f500"/><ellipse cx="548.5" cy="296.7" rx="0.5" ry="0.8" transform="rotate(10 548.5 296.7)" fill="#e6f500"/><ellipse cx="535.6" cy="312.0" rx="0.6" ry="0.6" transform="rotate(-30 535.6 312.0)" fill="#e6f500"/><ellipse cx="531.0" cy="308.6" rx="0.5" ry="0.4" transform="rotate(-19 531.0 308.6)" fill="#e6f500"/><ellipse cx="533.3" cy="308.1" rx="0.6" ry="0.5" transform="rotate(-70 533.3 308.1)" fill="#ffe200"/><ellipse cx="549.1" cy="298.4" rx="0.8" ry="0.5" transform="rotate(-29 549.1 298.4)" fill="#e6f500"/><ellipse cx="547.6" cy="300.4" rx="1.3" ry="0.8" transform="rotate(-28 547.6 300.4)" fill="#e6f500"/><ellipse cx="548.4" cy="298.3" rx="1.3" ry="0.8" transform="rotate(-43 548.4 298.3)" fill="#e6f500"/><ellipse cx="533.6" cy="307.2" rx="0.5" ry="0.4" transform="rotate(-50 533.6 307.2)" fill="#ffe200"/><ellipse cx="527.9" cy="311.7" rx="0.5" ry="0.5" transform="rotate(-58 527.9 311.7)" fill="#ffe200"/><ellipse cx="533.9" cy="307.5" rx="0.6" ry="0.8" transform="rotate(-46 533.9 307.5)" fill="#e6f500"/><ellipse cx="533.6" cy="307.5" rx="1.0" ry="0.5" transform="rotate(-52 533.6 307.5)" fill="#e6f500"/><ellipse cx="538.6" cy="306.0" rx="0.8" ry="0.8" transform="rotate(-34 538.6 306.0)" fill="#ffe200"/><ellipse cx="549.3" cy="300.6" rx="1.3" ry="0.4" transform="rotate(-55 549.3 300.6)" fill="#e6f500"/><ellipse cx="539.1" cy="303.6" rx="0.5" ry="0.4" transform="rotate(-56 539.1 303.6)" fill="#e6f500"/><ellipse cx="544.1" cy="305.0" rx="0.8" ry="0.6" transform="rotate(-2 544.1 305.0)" fill="#e6f500"/><ellipse cx="543.2" cy="301.5" rx="0.6" ry="0.8" transform="rotate(-24 543.2 301.5)" fill="#e6f500"/><ellipse cx="545.1" cy="300.6" rx="0.8" ry="0.4" transform="rotate(-24 545.1 300.6)" fill="#ffe200"/><ellipse cx="546.3" cy="299.9" rx="0.8" ry="0.6" transform="rotate(-54 546.3 299.9)" fill="#e6f500"/><ellipse cx="527.5" cy="310.3" rx="0.8" ry="0.4" transform="rotate(-47 527.5 310.3)" fill="#ffe200"/><ellipse cx="541.4" cy="304.1" rx="0.8" ry="0.5" transform="rotate(7 541.4 304.1)" fill="#e6f500"/><ellipse cx="537.5" cy="304.3" rx="0.6" ry="0.4" transform="rotate(-25 537.5 304.3)" fill="#ffe200"/><ellipse cx="548.6" cy="298.3" rx="0.5" ry="0.5" transform="rotate(-74 548.6 298.3)" fill="#e6f500"/><ellipse cx="524.7" cy="313.0" rx="0.6" ry="0.8" transform="rotate(-54 524.7 313.0)" fill="#e6f500"/><ellipse cx="543.3" cy="300.5" rx="1.3" ry="0.8" transform="rotate(-79 543.3 300.5)" fill="#b4e400"/><ellipse cx="543.7" cy="299.0" rx="0.6" ry="0.6" transform="rotate(-44 543.7 299.0)" fill="#e6f500"/><ellipse cx="543.6" cy="302.9" rx="0.6" ry="0.8" transform="rotate(-31 543.6 302.9)" fill="#e6f500"/><ellipse cx="540.8" cy="306.4" rx="0.8" ry="0.4" transform="rotate(-55 540.8 306.4)" fill="#ffe200"/><ellipse cx="550.3" cy="299.0" rx="0.5" ry="0.6" transform="rotate(-71 550.3 299.0)" fill="#e6f500"/><ellipse cx="545.7" cy="300.6" rx="1.3" ry="0.4" transform="rotate(-45 545.7 300.6)" fill="#e6f500"/><ellipse cx="525.2" cy="311.8" rx="0.8" ry="0.5" transform="rotate(-4 525.2 311.8)" fill="#e6f500"/><ellipse cx="534.6" cy="306.4" rx="1.3" ry="0.8" transform="rotate(-25 534.6 306.4)" fill="#e6f500"/><ellipse cx="538.5" cy="307.1" rx="0.6" ry="0.8" transform="rotate(-76 538.5 307.1)" fill="#e6f500"/><ellipse cx="527.9" cy="312.1" rx="0.6" ry="0.8" transform="rotate(-24 527.9 312.1)" fill="#b4e400"/><ellipse cx="540.8" cy="302.8" rx="0.8" ry="0.4" transform="rotate(-36 540.8 302.8)" fill="#e6f500"/><ellipse cx="531.2" cy="308.0" rx="1.0" ry="0.6" transform="rotate(-13 531.2 308.0)" fill="#b4e400"/><ellipse cx="544.7" cy="301.3" rx="1.3" ry="0.5" transform="rotate(-42 544.7 301.3)" fill="#e6f500"/><ellipse cx="535.8" cy="307.1" rx="0.5" ry="0.4" transform="rotate(-70 535.8 307.1)" fill="#e6f500"/><ellipse cx="539.4" cy="303.7" rx="1.0" ry="0.5" transform="rotate(-11 539.4 303.7)" fill="#e6f500"/><ellipse cx="535.1" cy="310.2" rx="1.3" ry="0.4" transform="rotate(-59 535.1 310.2)" fill="#e6f500"/><ellipse cx="541.3" cy="308.1" rx="0.8" ry="0.6" transform="rotate(-62 541.3 308.1)" fill="#b4e400"/><ellipse cx="533.1" cy="309.0" rx="0.6" ry="0.4" transform="rotate(-6 533.1 309.0)" fill="#e6f500"/><ellipse cx="544.4" cy="298.9" rx="0.6" ry="0.4" transform="rotate(-68 544.4 298.9)" fill="#e6f500"/><ellipse cx="530.5" cy="311.2" rx="0.8" ry="0.6" transform="rotate(-36 530.5 311.2)" fill="#e6f500"/><ellipse cx="527.1" cy="316.8" rx="0.8" ry="0.4" transform="rotate(-30 527.1 316.8)" fill="#e6f500"/><ellipse cx="550.4" cy="301.0" rx="1.3" ry="0.6" transform="rotate(-21 550.4 301.0)" fill="#b4e400"/><ellipse cx="543.7" cy="301.7" rx="0.5" ry="0.6" transform="rotate(-20 543.7 301.7)" fill="#e6f500"/><ellipse cx="526.8" cy="314.1" rx="1.3" ry="0.8" transform="rotate(-25 526.8 314.1)" fill="#e6f500"/><ellipse cx="546.0" cy="297.6" rx="0.6" ry="0.4" transform="rotate(-53 546.0 297.6)" fill="#ffe200"/><ellipse cx="546.3" cy="303.8" rx="1.0" ry="0.5" transform="rotate(-54 546.3 303.8)" fill="#b4e400"/><ellipse cx="548.3" cy="299.4" rx="1.0" ry="0.6" transform="rotate(-51 548.3 299.4)" fill="#e6f500"/><ellipse cx="540.5" cy="308.2" rx="0.6" ry="0.4" transform="rotate(-13 540.5 308.2)" fill="#ffe200"/><ellipse cx="525.9" cy="314.5" rx="1.0" ry="0.6" transform="rotate(-37 525.9 314.5)" fill="#e6f500"/><ellipse cx="535.7" cy="309.7" rx="1.0" ry="0.5" transform="rotate(-42 535.7 309.7)" fill="#e6f500"/><ellipse cx="528.2" cy="314.6" rx="1.3" ry="0.5" transform="rotate(-17 528.2 314.6)" fill="#ffe200"/><ellipse cx="547.5" cy="295.6" rx="0.8" ry="0.6" transform="rotate(-36 547.5 295.6)" fill="#e6f500"/><ellipse cx="534.8" cy="307.5" rx="0.6" ry="0.4" transform="rotate(-85 534.8 307.5)" fill="#e6f500"/><ellipse cx="530.3" cy="310.0" rx="0.5" ry="0.8" transform="rotate(-57 530.3 310.0)" fill="#e6f500"/><ellipse cx="527.9" cy="312.7" rx="1.0" ry="0.8" transform="rotate(19 527.9 312.7)" fill="#ffe200"/><ellipse cx="534.5" cy="311.9" rx="0.6" ry="0.4" transform="rotate(-29 534.5 311.9)" fill="#ffe200"/><ellipse cx="527.9" cy="313.6" rx="0.6" ry="0.6" transform="rotate(-35 527.9 313.6)" fill="#ffe200"/><ellipse cx="527.9" cy="314.5" rx="1.0" ry="0.8" transform="rotate(-27 527.9 314.5)" fill="#b4e400"/><ellipse cx="533.9" cy="307.4" rx="1.0" ry="0.6" transform="rotate(-12 533.9 307.4)" fill="#e6f500"/><ellipse cx="549.7" cy="302.3" rx="1.3" ry="0.5" transform="rotate(-64 549.7 302.3)" fill="#e6f500"/><ellipse cx="531.3" cy="312.3" rx="1.0" ry="0.8" transform="rotate(-29 531.3 312.3)" fill="#e6f500"/><ellipse cx="543.0" cy="306.4" rx="0.6" ry="0.5" transform="rotate(-52 543.0 306.4)" fill="#e6f500"/><ellipse cx="547.6" cy="295.8" rx="1.0" ry="0.8" transform="rotate(-55 547.6 295.8)" fill="#e6f500"/><ellipse cx="525.6" cy="311.0" rx="1.0" ry="0.5" transform="rotate(-6 525.6 311.0)" fill="#e6f500"/><ellipse cx="538.8" cy="307.7" rx="1.0" ry="0.6" transform="rotate(-25 538.8 307.7)" fill="#b4e400"/><ellipse cx="534.8" cy="310.4" rx="1.3" ry="0.6" transform="rotate(10 534.8 310.4)" fill="#e6f500"/><ellipse cx="549.6" cy="301.9" rx="1.3" ry="0.4" transform="rotate(-15 549.6 301.9)" fill="#e6f500"/><ellipse cx="533.3" cy="311.2" rx="0.5" ry="0.4" transform="rotate(-37 533.3 311.2)" fill="#ffe200"/><ellipse cx="534.8" cy="309.8" rx="0.5" ry="0.8" transform="rotate(-56 534.8 309.8)" fill="#e6f500"/><ellipse cx="527.0" cy="316.0" rx="1.0" ry="0.6" transform="rotate(-17 527.0 316.0)" fill="#e6f500"/><ellipse cx="545.9" cy="304.2" rx="0.8" ry="0.4" transform="rotate(-53 545.9 304.2)" fill="#e6f500"/><ellipse cx="551.4" cy="299.6" rx="0.5" ry="0.8" transform="rotate(-44 551.4 299.6)" fill="#ffe200"/><ellipse cx="545.0" cy="301.8" rx="0.5" ry="0.6" transform="rotate(-32 545.0 301.8)" fill="#e6f500"/><ellipse cx="528.6" cy="315.3" rx="1.3" ry="0.5" transform="rotate(-35 528.6 315.3)" fill="#e6f500"/><ellipse cx="531.5" cy="312.7" rx="1.3" ry="0.8" transform="rotate(-51 531.5 312.7)" fill="#ffe200"/><ellipse cx="549.5" cy="298.5" rx="0.6" ry="0.4" transform="rotate(-66 549.5 298.5)" fill="#e6f500"/><ellipse cx="543.1" cy="301.2" rx="0.5" ry="0.6" transform="rotate(-45 543.1 301.2)" fill="#e6f500"/><ellipse cx="530.0" cy="315.7" rx="1.0" ry="0.5" transform="rotate(-11 530.0 315.7)" fill="#ffe200"/><ellipse cx="539.1" cy="308.5" rx="1.0" ry="0.5" transform="rotate(-48 539.1 308.5)" fill="#e6f500"/><ellipse cx="547.6" cy="301.9" rx="1.3" ry="0.5" transform="rotate(-19 547.6 301.9)" fill="#e6f500"/><ellipse cx="537.7" cy="304.1" rx="0.5" ry="0.8" transform="rotate(-23 537.7 304.1)" fill="#e6f500"/><ellipse cx="544.1" cy="304.5" rx="1.3" ry="0.4" transform="rotate(-27 544.1 304.5)" fill="#e6f500"/><ellipse cx="544.6" cy="304.9" rx="1.3" ry="0.8" transform="rotate(-47 544.6 304.9)" fill="#e6f500"/><ellipse cx="531.1" cy="309.0" rx="0.8" ry="0.8" transform="rotate(-37 531.1 309.0)" fill="#b4e400"/><ellipse cx="528.9" cy="310.9" rx="0.8" ry="0.5" transform="rotate(-34 528.9 310.9)" fill="#e6f500"/><ellipse cx="538.7" cy="310.0" rx="1.3" ry="0.6" transform="rotate(-37 538.7 310.0)" fill="#e6f500"/><ellipse cx="543.8" cy="303.2" rx="0.6" ry="0.5" transform="rotate(-38 543.8 303.2)" fill="#ffe200"/><ellipse cx="528.3" cy="310.5" rx="1.3" ry="0.6" transform="rotate(-35 528.3 310.5)" fill="#e6f500"/><ellipse cx="545.8" cy="301.2" rx="0.8" ry="0.5" transform="rotate(-25 545.8 301.2)" fill="#e6f500"/><ellipse cx="557.9" cy="288.4" rx="0.5" ry="0.6" transform="rotate(-71 557.9 288.4)" fill="#ffe200"/><ellipse cx="559.8" cy="284.6" rx="1.0" ry="0.5" transform="rotate(-38 559.8 284.6)" fill="#ffa800"/><ellipse cx="560.0" cy="285.2" rx="1.3" ry="0.8" transform="rotate(0 560.0 285.2)" fill="#e6f500"/><ellipse cx="552.4" cy="294.2" rx="1.3" ry="0.8" transform="rotate(-69 552.4 294.2)" fill="#e6f500"/><ellipse cx="564.1" cy="281.9" rx="1.3" ry="0.6" transform="rotate(-63 564.1 281.9)" fill="#e6f500"/><ellipse cx="566.4" cy="279.6" rx="1.0" ry="0.6" transform="rotate(-50 566.4 279.6)" fill="#ffa800"/><ellipse cx="556.4" cy="291.7" rx="1.0" ry="0.5" transform="rotate(-36 556.4 291.7)" fill="#e6f500"/><ellipse cx="559.4" cy="287.8" rx="0.8" ry="0.5" transform="rotate(-54 559.4 287.8)" fill="#ffe200"/><ellipse cx="564.7" cy="283.5" rx="0.6" ry="0.8" transform="rotate(-45 564.7 283.5)" fill="#e6f500"/><ellipse cx="553.2" cy="292.7" rx="0.8" ry="0.6" transform="rotate(-42 553.2 292.7)" fill="#ffe200"/><ellipse cx="551.3" cy="294.6" rx="1.3" ry="0.4" transform="rotate(-41 551.3 294.6)" fill="#e6f500"/><ellipse cx="552.8" cy="295.6" rx="0.8" ry="0.5" transform="rotate(-54 552.8 295.6)" fill="#ffa800"/><ellipse cx="561.5" cy="289.5" rx="0.8" ry="0.8" transform="rotate(-48 561.5 289.5)" fill="#e6f500"/><ellipse cx="564.6" cy="286.8" rx="1.3" ry="0.4" transform="rotate(-47 564.6 286.8)" fill="#ffa800"/><ellipse cx="566.4" cy="279.9" rx="1.3" ry="0.8" transform="rotate(-54 566.4 279.9)" fill="#e6f500"/><ellipse cx="556.6" cy="293.1" rx="1.0" ry="0.8" transform="rotate(-41 556.6 293.1)" fill="#e6f500"/><ellipse cx="555.6" cy="290.6" rx="1.0" ry="0.6" transform="rotate(-16 555.6 290.6)" fill="#ffe200"/><ellipse cx="570.4" cy="279.5" rx="1.3" ry="0.4" transform="rotate(-17 570.4 279.5)" fill="#ffe200"/><ellipse cx="555.3" cy="294.9" rx="0.8" ry="0.4" transform="rotate(-41 555.3 294.9)" fill="#e6f500"/><ellipse cx="553.5" cy="297.1" rx="1.0" ry="0.6" transform="rotate(-96 553.5 297.1)" fill="#e6f500"/><ellipse cx="557.9" cy="287.2" rx="0.5" ry="0.4" transform="rotate(-23 557.9 287.2)" fill="#ffa800"/><ellipse cx="556.1" cy="290.5" rx="1.0" ry="0.4" transform="rotate(-61 556.1 290.5)" fill="#e6f500"/><ellipse cx="573.3" cy="278.4" rx="0.6" ry="0.8" transform="rotate(-10 573.3 278.4)" fill="#e6f500"/><ellipse cx="553.6" cy="294.7" rx="0.5" ry="0.5" transform="rotate(-68 553.6 294.7)" fill="#e6f500"/><ellipse cx="552.9" cy="298.3" rx="1.3" ry="0.4" transform="rotate(-59 552.9 298.3)" fill="#ffa800"/><ellipse cx="556.9" cy="290.1" rx="1.3" ry="0.6" transform="rotate(-66 556.9 290.1)" fill="#e6f500"/><ellipse cx="561.1" cy="284.9" rx="1.0" ry="0.6" transform="rotate(-41 561.1 284.9)" fill="#e6f500"/><ellipse cx="567.1" cy="281.5" rx="0.5" ry="0.8" transform="rotate(-21 567.1 281.5)" fill="#e6f500"/><ellipse cx="565.0" cy="281.5" rx="0.5" ry="0.4" transform="rotate(-50 565.0 281.5)" fill="#ffe200"/><ellipse cx="552.6" cy="295.2" rx="1.0" ry="0.6" transform="rotate(-46 552.6 295.2)" fill="#e6f500"/><ellipse cx="553.7" cy="294.0" rx="0.5" ry="0.5" transform="rotate(-39 553.7 294.0)" fill="#ffe200"/><ellipse cx="554.9" cy="292.8" rx="0.8" ry="0.8" transform="rotate(-58 554.9 292.8)" fill="#e6f500"/><ellipse cx="560.1" cy="289.1" rx="0.6" ry="0.6" transform="rotate(-51 560.1 289.1)" fill="#ffa800"/><ellipse cx="572.0" cy="277.5" rx="0.6" ry="0.5" transform="rotate(-1 572.0 277.5)" fill="#ffe200"/><ellipse cx="565.6" cy="285.4" rx="1.0" ry="0.5" transform="rotate(-30 565.6 285.4)" fill="#e6f500"/><ellipse cx="554.3" cy="295.0" rx="0.5" ry="0.6" transform="rotate(-64 554.3 295.0)" fill="#ffa800"/><ellipse cx="551.6" cy="295.6" rx="1.0" ry="0.5" transform="rotate(-51 551.6 295.6)" fill="#e6f500"/><ellipse cx="568.4" cy="282.8" rx="0.6" ry="0.8" transform="rotate(-27 568.4 282.8)" fill="#e6f500"/><ellipse cx="556.7" cy="289.6" rx="1.0" ry="0.5" transform="rotate(-29 556.7 289.6)" fill="#e6f500"/><ellipse cx="558.4" cy="292.7" rx="0.5" ry="0.4" transform="rotate(-20 558.4 292.7)" fill="#ffe200"/><ellipse cx="561.4" cy="289.4" rx="0.6" ry="0.4" transform="rotate(-41 561.4 289.4)" fill="#e6f500"/><ellipse cx="550.0" cy="295.1" rx="1.3" ry="0.6" transform="rotate(-29 550.0 295.1)" fill="#e6f500"/><ellipse cx="567.1" cy="283.4" rx="0.6" ry="0.4" transform="rotate(-34 567.1 283.4)" fill="#e6f500"/><ellipse cx="568.2" cy="282.5" rx="0.5" ry="0.4" transform="rotate(-28 568.2 282.5)" fill="#e6f500"/><ellipse cx="557.2" cy="288.6" rx="1.3" ry="0.4" transform="rotate(-33 557.2 288.6)" fill="#ffa800"/><ellipse cx="568.6" cy="277.3" rx="1.0" ry="0.5" transform="rotate(-31 568.6 277.3)" fill="#e6f500"/><ellipse cx="552.0" cy="293.8" rx="0.6" ry="0.4" transform="rotate(-80 552.0 293.8)" fill="#ffe200"/><ellipse cx="565.6" cy="285.0" rx="0.6" ry="0.6" transform="rotate(-40 565.6 285.0)" fill="#e6f500"/><ellipse cx="556.6" cy="294.1" rx="0.5" ry="0.6" transform="rotate(-47 556.6 294.1)" fill="#ffa800"/><ellipse cx="563.4" cy="285.4" rx="1.3" ry="0.8" transform="rotate(-15 563.4 285.4)" fill="#ffe200"/><ellipse cx="560.7" cy="284.5" rx="0.6" ry="0.5" transform="rotate(-42 560.7 284.5)" fill="#ffe200"/><ellipse cx="550.8" cy="294.4" rx="1.3" ry="0.8" transform="rotate(-47 550.8 294.4)" fill="#e6f500"/><ellipse cx="572.2" cy="277.2" rx="0.6" ry="0.4" transform="rotate(-4 572.2 277.2)" fill="#e6f500"/><ellipse cx="569.1" cy="278.4" rx="1.3" ry="0.8" transform="rotate(-64 569.1 278.4)" fill="#e6f500"/><ellipse cx="562.8" cy="283.9" rx="1.0" ry="0.4" transform="rotate(-32 562.8 283.9)" fill="#ffe200"/><ellipse cx="550.9" cy="297.1" rx="1.0" ry="0.4" transform="rotate(-58 550.9 297.1)" fill="#e6f500"/><ellipse cx="556.1" cy="291.6" rx="1.3" ry="0.5" transform="rotate(-22 556.1 291.6)" fill="#e6f500"/><ellipse cx="567.6" cy="278.9" rx="0.8" ry="0.6" transform="rotate(-48 567.6 278.9)" fill="#e6f500"/><ellipse cx="552.5" cy="296.4" rx="0.5" ry="0.4" transform="rotate(-37 552.5 296.4)" fill="#ffa800"/><ellipse cx="565.0" cy="282.0" rx="0.6" ry="0.8" transform="rotate(-71 565.0 282.0)" fill="#e6f500"/><ellipse cx="568.5" cy="281.1" rx="1.3" ry="0.4" transform="rotate(-32 568.5 281.1)" fill="#e6f500"/><ellipse cx="563.2" cy="287.2" rx="1.0" ry="0.8" transform="rotate(-52 563.2 287.2)" fill="#e6f500"/><ellipse cx="570.9" cy="277.7" rx="1.3" ry="0.6" transform="rotate(-13 570.9 277.7)" fill="#e6f500"/><ellipse cx="562.3" cy="288.6" rx="0.8" ry="0.5" transform="rotate(-44 562.3 288.6)" fill="#e6f500"/><ellipse cx="551.0" cy="297.3" rx="0.8" ry="0.5" transform="rotate(-47 551.0 297.3)" fill="#ffe200"/><ellipse cx="550.6" cy="293.9" rx="1.3" ry="0.4" transform="rotate(-55 550.6 293.9)" fill="#e6f500"/><ellipse cx="625.2" cy="254.2" rx="1.3" ry="0.5" transform="rotate(-29 625.2 254.2)" fill="#ffa800"/><ellipse cx="618.3" cy="255.6" rx="0.5" ry="0.6" transform="rotate(-18 618.3 255.6)" fill="#ffa800"/><ellipse cx="632.8" cy="248.6" rx="0.6" ry="0.5" transform="rotate(-7 632.8 248.6)" fill="#ff7000"/><ellipse cx="630.2" cy="245.3" rx="1.3" ry="0.8" transform="rotate(20 630.2 245.3)" fill="#ff7000"/><ellipse cx="617.5" cy="252.2" rx="0.6" ry="0.6" transform="rotate(3 617.5 252.2)" fill="#ff7000"/><ellipse cx="635.0" cy="252.3" rx="0.6" ry="0.5" transform="rotate(27 635.0 252.3)" fill="#ffe200"/><ellipse cx="617.2" cy="255.3" rx="1.3" ry="0.8" transform="rotate(-30 617.2 255.3)" fill="#ff7000"/><ellipse cx="625.6" cy="246.4" rx="1.3" ry="0.5" transform="rotate(-7 625.6 246.4)" fill="#ffa800"/><ellipse cx="622.3" cy="252.6" rx="0.6" ry="0.8" transform="rotate(-16 622.3 252.6)" fill="#ffa800"/><ellipse cx="635.1" cy="248.1" rx="0.8" ry="0.8" transform="rotate(-19 635.1 248.1)" fill="#ffa800"/><ellipse cx="623.6" cy="253.6" rx="1.0" ry="0.4" transform="rotate(-7 623.6 253.6)" fill="#ffa800"/><ellipse cx="631.9" cy="248.3" rx="0.8" ry="0.4" transform="rotate(16 631.9 248.3)" fill="#ff7000"/><ellipse cx="635.9" cy="249.3" rx="0.6" ry="0.5" transform="rotate(4 635.9 249.3)" fill="#ffa800"/><ellipse cx="625.5" cy="252.4" rx="1.3" ry="0.8" transform="rotate(-6 625.5 252.4)" fill="#ffa800"/><ellipse cx="623.5" cy="251.4" rx="0.5" ry="0.6" transform="rotate(6 623.5 251.4)" fill="#ffa800"/><ellipse cx="620.8" cy="251.2" rx="1.0" ry="0.5" transform="rotate(10 620.8 251.2)" fill="#ffa800"/><ellipse cx="632.9" cy="251.8" rx="1.3" ry="0.6" transform="rotate(5 632.9 251.8)" fill="#ffa800"/><ellipse cx="633.2" cy="253.7" rx="0.5" ry="0.8" transform="rotate(4 633.2 253.7)" fill="#ffa800"/><ellipse cx="627.4" cy="253.3" rx="1.3" ry="0.6" transform="rotate(-15 627.4 253.3)" fill="#ffa800"/><ellipse cx="627.3" cy="254.6" rx="0.6" ry="0.4" transform="rotate(13 627.3 254.6)" fill="#ffa800"/><ellipse cx="620.4" cy="248.2" rx="0.5" ry="0.6" transform="rotate(1 620.4 248.2)" fill="#ffa800"/><ellipse cx="628.9" cy="252.6" rx="0.6" ry="0.4" transform="rotate(-18 628.9 252.6)" fill="#ffa800"/><ellipse cx="621.5" cy="251.4" rx="0.5" ry="0.8" transform="rotate(19 621.5 251.4)" fill="#ffe200"/><ellipse cx="622.9" cy="248.6" rx="1.3" ry="0.5" transform="rotate(2 622.9 248.6)" fill="#ffa800"/><ellipse cx="636.2" cy="251.5" rx="1.0" ry="0.8" transform="rotate(-10 636.2 251.5)" fill="#ffa800"/><ellipse cx="623.4" cy="253.9" rx="0.6" ry="0.4" transform="rotate(-20 623.4 253.9)" fill="#ffe200"/><ellipse cx="627.5" cy="253.0" rx="1.3" ry="0.4" transform="rotate(15 627.5 253.0)" fill="#ffa800"/><ellipse cx="619.5" cy="253.5" rx="0.5" ry="0.5" transform="rotate(-75 619.5 253.5)" fill="#ffe200"/><ellipse cx="619.4" cy="249.3" rx="1.3" ry="0.5" transform="rotate(-7 619.4 249.3)" fill="#ffa800"/><ellipse cx="634.0" cy="248.8" rx="0.8" ry="0.5" transform="rotate(6 634.0 248.8)" fill="#ffa800"/><ellipse cx="633.4" cy="253.4" rx="1.3" ry="0.5" transform="rotate(-8 633.4 253.4)" fill="#ff7000"/><ellipse cx="616.6" cy="251.4" rx="1.0" ry="0.4" transform="rotate(-7 616.6 251.4)" fill="#ffa800"/><ellipse cx="625.4" cy="253.1" rx="1.3" ry="0.5" transform="rotate(-17 625.4 253.1)" fill="#ffa800"/><ellipse cx="623.8" cy="254.5" rx="1.0" ry="0.8" transform="rotate(-31 623.8 254.5)" fill="#ffe200"/><ellipse cx="627.3" cy="252.2" rx="1.0" ry="0.5" transform="rotate(-9 627.3 252.2)" fill="#ffa800"/><ellipse cx="626.4" cy="246.3" rx="1.0" ry="0.5" transform="rotate(-9 626.4 246.3)" fill="#ffe200"/><ellipse cx="630.9" cy="255.4" rx="1.3" ry="0.5" transform="rotate(-0 630.9 255.4)" fill="#ffe200"/><ellipse cx="625.8" cy="246.6" rx="0.8" ry="0.8" transform="rotate(-34 625.8 246.6)" fill="#ffe200"/><ellipse cx="633.5" cy="245.6" rx="1.3" ry="0.5" transform="rotate(4 633.5 245.6)" fill="#ffe200"/><ellipse cx="632.5" cy="254.7" rx="0.8" ry="0.6" transform="rotate(3 632.5 254.7)" fill="#ffa800"/><ellipse cx="636.3" cy="254.4" rx="0.6" ry="0.6" transform="rotate(10 636.3 254.4)" fill="#ffa800"/><ellipse cx="618.2" cy="255.5" rx="0.8" ry="0.6" transform="rotate(-35 618.2 255.5)" fill="#ffa800"/><ellipse cx="627.8" cy="249.1" rx="1.3" ry="0.8" transform="rotate(-2 627.8 249.1)" fill="#ffa800"/><ellipse cx="621.5" cy="250.8" rx="0.8" ry="0.5" transform="rotate(-20 621.5 250.8)" fill="#ff7000"/><ellipse cx="619.9" cy="248.5" rx="0.6" ry="0.8" transform="rotate(16 619.9 248.5)" fill="#ffa800"/><ellipse cx="630.1" cy="251.2" rx="1.0" ry="0.8" transform="rotate(-4 630.1 251.2)" fill="#ff7000"/><ellipse cx="631.9" cy="250.8" rx="0.5" ry="0.6" transform="rotate(33 631.9 250.8)" fill="#ffa800"/><ellipse cx="635.1" cy="246.1" rx="0.5" ry="0.6" transform="rotate(11 635.1 246.1)" fill="#ffa800"/><ellipse cx="637.6" cy="254.9" rx="0.5" ry="0.5" transform="rotate(2 637.6 254.9)" fill="#ff7000"/><ellipse cx="617.0" cy="255.5" rx="1.0" ry="0.5" transform="rotate(-5 617.0 255.5)" fill="#ffe200"/><ellipse cx="615.2" cy="247.8" rx="0.8" ry="0.6" transform="rotate(12 615.2 247.8)" fill="#ffe200"/><ellipse cx="628.6" cy="249.9" rx="1.3" ry="0.8" transform="rotate(-14 628.6 249.9)" fill="#ffa800"/><ellipse cx="618.2" cy="255.2" rx="1.3" ry="0.6" transform="rotate(-2 618.2 255.2)" fill="#ffe200"/><ellipse cx="629.1" cy="245.7" rx="0.6" ry="0.6" transform="rotate(30 629.1 245.7)" fill="#ffa800"/><ellipse cx="619.1" cy="255.8" rx="0.6" ry="0.8" transform="rotate(10 619.1 255.8)" fill="#ffa800"/><ellipse cx="622.0" cy="254.1" rx="0.5" ry="0.4" transform="rotate(-1 622.0 254.1)" fill="#ff7000"/><ellipse cx="626.9" cy="249.2" rx="1.3" ry="0.8" transform="rotate(24 626.9 249.2)" fill="#ffa800"/><ellipse cx="637.0" cy="252.0" rx="1.3" ry="0.4" transform="rotate(22 637.0 252.0)" fill="#ffa800"/><ellipse cx="630.9" cy="254.3" rx="0.5" ry="0.6" transform="rotate(3 630.9 254.3)" fill="#ff7000"/><ellipse cx="632.2" cy="251.9" rx="0.5" ry="0.5" transform="rotate(-0 632.2 251.9)" fill="#ffa800"/><ellipse cx="618.5" cy="255.1" rx="1.3" ry="0.4" transform="rotate(-53 618.5 255.1)" fill="#ffa800"/><ellipse cx="633.2" cy="247.3" rx="1.3" ry="0.8" transform="rotate(6 633.2 247.3)" fill="#ffa800"/><ellipse cx="616.0" cy="256.4" rx="1.0" ry="0.4" transform="rotate(-9 616.0 256.4)" fill="#ffa800"/><ellipse cx="635.4" cy="245.7" rx="1.3" ry="0.8" transform="rotate(18 635.4 245.7)" fill="#ffa800"/><ellipse cx="630.3" cy="247.0" rx="1.0" ry="0.4" transform="rotate(21 630.3 247.0)" fill="#ffe200"/><ellipse cx="635.7" cy="247.9" rx="1.3" ry="0.5" transform="rotate(-16 635.7 247.9)" fill="#ffa800"/><ellipse cx="635.3" cy="255.0" rx="0.6" ry="0.6" transform="rotate(-22 635.3 255.0)" fill="#ffa800"/><ellipse cx="615.4" cy="251.6" rx="1.0" ry="0.6" transform="rotate(-26 615.4 251.6)" fill="#ffe200"/><ellipse cx="629.5" cy="250.9" rx="0.6" ry="0.4" transform="rotate(-22 629.5 250.9)" fill="#ff7000"/><ellipse cx="620.5" cy="252.2" rx="0.5" ry="0.5" transform="rotate(-17 620.5 252.2)" fill="#ffa800"/><ellipse cx="623.5" cy="253.6" rx="1.0" ry="0.4" transform="rotate(-6 623.5 253.6)" fill="#ffa800"/><ellipse cx="636.0" cy="250.1" rx="1.0" ry="0.5" transform="rotate(-29 636.0 250.1)" fill="#ffe200"/><ellipse cx="617.8" cy="253.4" rx="0.5" ry="0.8" transform="rotate(-12 617.8 253.4)" fill="#ffa800"/><ellipse cx="616.7" cy="247.3" rx="1.3" ry="0.5" transform="rotate(-47 616.7 247.3)" fill="#ffa800"/><ellipse cx="625.1" cy="247.6" rx="0.6" ry="0.8" transform="rotate(-14 625.1 247.6)" fill="#ffa800"/><ellipse cx="622.4" cy="251.1" rx="0.8" ry="0.8" transform="rotate(-7 622.4 251.1)" fill="#ffa800"/><ellipse cx="624.1" cy="247.9" rx="1.0" ry="0.8" transform="rotate(-25 624.1 247.9)" fill="#ffe200"/><ellipse cx="623.1" cy="252.6" rx="0.8" ry="0.6" transform="rotate(-7 623.1 252.6)" fill="#ffe200"/><ellipse cx="621.2" cy="247.5" rx="0.5" ry="0.4" transform="rotate(-4 621.2 247.5)" fill="#ffa800"/><ellipse cx="618.9" cy="255.0" rx="0.8" ry="0.6" transform="rotate(-13 618.9 255.0)" fill="#ffa800"/><ellipse cx="622.1" cy="255.2" rx="1.0" ry="0.5" transform="rotate(-4 622.1 255.2)" fill="#ffe200"/><ellipse cx="617.7" cy="253.1" rx="1.3" ry="0.8" transform="rotate(20 617.7 253.1)" fill="#ffa800"/><ellipse cx="631.5" cy="251.5" rx="1.3" ry="0.5" transform="rotate(-2 631.5 251.5)" fill="#ffa800"/><ellipse cx="617.3" cy="254.0" rx="0.5" ry="0.6" transform="rotate(8 617.3 254.0)" fill="#ff7000"/><ellipse cx="631.9" cy="250.4" rx="0.5" ry="0.6" transform="rotate(16 631.9 250.4)" fill="#ffa800"/><ellipse cx="632.6" cy="247.8" rx="0.6" ry="0.5" transform="rotate(24 632.6 247.8)" fill="#ffa800"/><ellipse cx="632.3" cy="245.2" rx="0.8" ry="0.4" transform="rotate(11 632.3 245.2)" fill="#ffe200"/><ellipse cx="617.4" cy="247.0" rx="0.6" ry="0.6" transform="rotate(-9 617.4 247.0)" fill="#ffa800"/><ellipse cx="617.6" cy="249.9" rx="0.5" ry="0.8" transform="rotate(-13 617.6 249.9)" fill="#ffa800"/><ellipse cx="624.6" cy="246.7" rx="0.5" ry="0.5" transform="rotate(1 624.6 246.7)" fill="#ffa800"/><ellipse cx="616.2" cy="248.8" rx="1.3" ry="0.5" transform="rotate(-30 616.2 248.8)" fill="#ffa800"/><ellipse cx="621.9" cy="248.0" rx="0.8" ry="0.4" transform="rotate(5 621.9 248.0)" fill="#ffe200"/><ellipse cx="627.9" cy="254.0" rx="0.5" ry="0.6" transform="rotate(22 627.9 254.0)" fill="#ffe200"/><ellipse cx="626.3" cy="252.1" rx="1.0" ry="0.6" transform="rotate(-1 626.3 252.1)" fill="#ffa800"/><ellipse cx="621.8" cy="253.6" rx="0.5" ry="0.5" transform="rotate(27 621.8 253.6)" fill="#ffe200"/><ellipse cx="627.2" cy="252.9" rx="1.0" ry="0.4" transform="rotate(-15 627.2 252.9)" fill="#ff7000"/><ellipse cx="619.0" cy="255.6" rx="0.8" ry="0.8" transform="rotate(13 619.0 255.6)" fill="#ffa800"/><ellipse cx="620.7" cy="255.2" rx="0.8" ry="0.6" transform="rotate(-34 620.7 255.2)" fill="#ffa800"/><ellipse cx="615.8" cy="256.2" rx="0.5" ry="0.8" transform="rotate(24 615.8 256.2)" fill="#ffa800"/><ellipse cx="631.8" cy="250.4" rx="0.6" ry="0.8" transform="rotate(-24 631.8 250.4)" fill="#ff7000"/><ellipse cx="621.9" cy="253.2" rx="1.0" ry="0.4" transform="rotate(-11 621.9 253.2)" fill="#ffa800"/><ellipse cx="633.3" cy="247.6" rx="1.0" ry="0.8" transform="rotate(6 633.3 247.6)" fill="#ff7000"/><ellipse cx="633.1" cy="255.4" rx="0.8" ry="0.5" transform="rotate(-33 633.1 255.4)" fill="#ffe200"/><ellipse cx="629.7" cy="249.4" rx="0.6" ry="0.6" transform="rotate(-27 629.7 249.4)" fill="#ffa800"/><ellipse cx="618.4" cy="249.7" rx="0.8" ry="0.4" transform="rotate(-7 618.4 249.7)" fill="#ffa800"/><ellipse cx="627.8" cy="252.3" rx="1.0" ry="0.5" transform="rotate(18 627.8 252.3)" fill="#ffa800"/><ellipse cx="616.2" cy="249.4" rx="1.0" ry="0.5" transform="rotate(-6 616.2 249.4)" fill="#ffa800"/><ellipse cx="632.8" cy="253.4" rx="1.0" ry="0.6" transform="rotate(7 632.8 253.4)" fill="#ffa800"/><ellipse cx="630.0" cy="255.5" rx="0.8" ry="0.4" transform="rotate(-15 630.0 255.5)" fill="#ffa800"/><ellipse cx="614.9" cy="249.3" rx="0.6" ry="0.5" transform="rotate(23 614.9 249.3)" fill="#ffe200"/><ellipse cx="630.9" cy="253.9" rx="0.5" ry="0.4" transform="rotate(19 630.9 253.9)" fill="#ffe200"/><ellipse cx="628.0" cy="252.6" rx="0.8" ry="0.8" transform="rotate(-9 628.0 252.6)" fill="#ffa800"/><ellipse cx="617.7" cy="248.7" rx="1.0" ry="0.4" transform="rotate(2 617.7 248.7)" fill="#ffa800"/><ellipse cx="616.0" cy="251.1" rx="0.6" ry="0.6" transform="rotate(21 616.0 251.1)" fill="#ffe200"/><ellipse cx="632.4" cy="248.4" rx="1.3" ry="0.4" transform="rotate(28 632.4 248.4)" fill="#ffe200"/><ellipse cx="623.9" cy="255.8" rx="0.8" ry="0.8" transform="rotate(-7 623.9 255.8)" fill="#ffe200"/><ellipse cx="637.0" cy="254.0" rx="0.5" ry="0.5" transform="rotate(42 637.0 254.0)" fill="#ffe200"/><ellipse cx="635.6" cy="251.0" rx="0.8" ry="0.6" transform="rotate(31 635.6 251.0)" fill="#ffe200"/><ellipse cx="632.3" cy="252.1" rx="0.5" ry="0.4" transform="rotate(-13 632.3 252.1)" fill="#ffa800"/><ellipse cx="621.1" cy="252.1" rx="1.3" ry="0.8" transform="rotate(-24 621.1 252.1)" fill="#ffa800"/><ellipse cx="620.8" cy="247.8" rx="0.5" ry="0.4" transform="rotate(6 620.8 247.8)" fill="#ff7000"/><ellipse cx="617.7" cy="250.0" rx="0.8" ry="0.6" transform="rotate(26 617.7 250.0)" fill="#ffa800"/><ellipse cx="616.2" cy="249.0" rx="1.3" ry="0.4" transform="rotate(-29 616.2 249.0)" fill="#ffe200"/><ellipse cx="633.6" cy="250.9" rx="1.3" ry="0.6" transform="rotate(-1 633.6 250.9)" fill="#ff7000"/><ellipse cx="618.4" cy="253.4" rx="1.3" ry="0.4" transform="rotate(-44 618.4 253.4)" fill="#ffe200"/><ellipse cx="625.7" cy="248.0" rx="1.0" ry="0.4" transform="rotate(-11 625.7 248.0)" fill="#ffa800"/><ellipse cx="617.6" cy="250.0" rx="0.6" ry="0.4" transform="rotate(-13 617.6 250.0)" fill="#ffe200"/><ellipse cx="624.6" cy="253.8" rx="1.0" ry="0.5" transform="rotate(-4 624.6 253.8)" fill="#ffa800"/><ellipse cx="636.2" cy="248.8" rx="1.3" ry="0.5" transform="rotate(-24 636.2 248.8)" fill="#ffa800"/><ellipse cx="634.7" cy="253.0" rx="1.0" ry="0.6" transform="rotate(-30 634.7 253.0)" fill="#ffa800"/><ellipse cx="626.2" cy="247.7" rx="0.5" ry="0.8" transform="rotate(-6 626.2 247.7)" fill="#ffa800"/><ellipse cx="634.3" cy="252.4" rx="1.3" ry="0.4" transform="rotate(2 634.3 252.4)" fill="#ffa800"/><ellipse cx="626.4" cy="252.6" rx="0.5" ry="0.4" transform="rotate(19 626.4 252.6)" fill="#ffe200"/><ellipse cx="629.8" cy="246.5" rx="0.8" ry="0.5" transform="rotate(-5 629.8 246.5)" fill="#ffa800"/><ellipse cx="621.9" cy="256.1" rx="0.8" ry="0.6" transform="rotate(14 621.9 256.1)" fill="#ffa800"/><ellipse cx="625.9" cy="248.8" rx="1.0" ry="0.4" transform="rotate(-2 625.9 248.8)" fill="#ffe200"/><ellipse cx="621.9" cy="247.3" rx="1.3" ry="0.8" transform="rotate(-20 621.9 247.3)" fill="#ffa800"/><ellipse cx="623.2" cy="253.6" rx="1.3" ry="0.6" transform="rotate(-21 623.2 253.6)" fill="#ffa800"/><ellipse cx="622.8" cy="245.8" rx="0.6" ry="0.6" transform="rotate(7 622.8 245.8)" fill="#ffa800"/><ellipse cx="619.0" cy="251.0" rx="1.0" ry="0.5" transform="rotate(13 619.0 251.0)" fill="#ffa800"/><ellipse cx="630.0" cy="248.6" rx="0.5" ry="0.5" transform="rotate(18 630.0 248.6)" fill="#ffe200"/><ellipse cx="634.2" cy="248.0" rx="0.6" ry="0.4" transform="rotate(-6 634.2 248.0)" fill="#ff7000"/><ellipse cx="629.5" cy="251.0" rx="0.5" ry="0.4" transform="rotate(27 629.5 251.0)" fill="#ffa800"/><ellipse cx="624.7" cy="255.8" rx="0.5" ry="0.5" transform="rotate(13 624.7 255.8)" fill="#ffe200"/><ellipse cx="633.1" cy="252.8" rx="0.6" ry="0.5" transform="rotate(17 633.1 252.8)" fill="#ffa800"/><ellipse cx="616.0" cy="252.2" rx="0.6" ry="0.4" transform="rotate(4 616.0 252.2)" fill="#ff7000"/><ellipse cx="632.3" cy="248.1" rx="0.5" ry="0.5" transform="rotate(3 632.3 248.1)" fill="#ffe200"/><ellipse cx="617.2" cy="252.8" rx="0.5" ry="0.6" transform="rotate(-19 617.2 252.8)" fill="#ffe200"/><ellipse cx="622.1" cy="246.2" rx="0.5" ry="0.5" transform="rotate(33 622.1 246.2)" fill="#ffa800"/><ellipse cx="631.7" cy="247.2" rx="0.5" ry="0.5" transform="rotate(-6 631.7 247.2)" fill="#ffa800"/><ellipse cx="632.2" cy="251.3" rx="0.8" ry="0.5" transform="rotate(10 632.2 251.3)" fill="#ffe200"/><ellipse cx="631.0" cy="252.3" rx="0.8" ry="0.8" transform="rotate(-2 631.0 252.3)" fill="#ffa800"/><ellipse cx="633.8" cy="254.3" rx="0.8" ry="0.5" transform="rotate(2 633.8 254.3)" fill="#ffe200"/><ellipse cx="635.7" cy="251.6" rx="1.0" ry="0.4" transform="rotate(-42 635.7 251.6)" fill="#ffa800"/><ellipse cx="625.8" cy="247.7" rx="1.0" ry="0.4" transform="rotate(-7 625.8 247.7)" fill="#ffa800"/><ellipse cx="622.1" cy="253.5" rx="1.3" ry="0.5" transform="rotate(13 622.1 253.5)" fill="#ffa800"/><ellipse cx="619.4" cy="247.0" rx="1.0" ry="0.8" transform="rotate(-21 619.4 247.0)" fill="#ffa800"/><ellipse cx="636.4" cy="251.1" rx="0.5" ry="0.4" transform="rotate(-18 636.4 251.1)" fill="#ffa800"/><ellipse cx="624.2" cy="254.9" rx="0.6" ry="0.5" transform="rotate(-19 624.2 254.9)" fill="#ffe200"/><ellipse cx="618.4" cy="252.1" rx="0.8" ry="0.6" transform="rotate(24 618.4 252.1)" fill="#ff7000"/><ellipse cx="636.8" cy="247.8" rx="1.0" ry="0.4" transform="rotate(27 636.8 247.8)" fill="#ffa800"/><ellipse cx="616.9" cy="256.3" rx="0.8" ry="0.8" transform="rotate(-25 616.9 256.3)" fill="#ffe200"/><ellipse cx="617.3" cy="254.8" rx="1.3" ry="0.4" transform="rotate(33 617.3 254.8)" fill="#ffe200"/><ellipse cx="631.7" cy="250.8" rx="0.6" ry="0.5" transform="rotate(-39 631.7 250.8)" fill="#ff7000"/><ellipse cx="618.1" cy="249.8" rx="1.3" ry="0.5" transform="rotate(-13 618.1 249.8)" fill="#ff7000"/><ellipse cx="624.5" cy="252.4" rx="0.5" ry="0.4" transform="rotate(17 624.5 252.4)" fill="#ffa800"/><ellipse cx="632.6" cy="246.3" rx="0.8" ry="0.6" transform="rotate(-4 632.6 246.3)" fill="#ffa800"/><ellipse cx="615.3" cy="247.6" rx="0.5" ry="0.8" transform="rotate(-16 615.3 247.6)" fill="#ffe200"/><ellipse cx="632.8" cy="253.3" rx="1.3" ry="0.5" transform="rotate(-22 632.8 253.3)" fill="#ffa800"/><ellipse cx="628.1" cy="251.1" rx="0.6" ry="0.6" transform="rotate(16 628.1 251.1)" fill="#ff7000"/><ellipse cx="620.0" cy="246.2" rx="1.0" ry="0.6" transform="rotate(-3 620.0 246.2)" fill="#ffe200"/><ellipse cx="621.7" cy="251.5" rx="1.0" ry="0.5" transform="rotate(15 621.7 251.5)" fill="#ff7000"/><ellipse cx="623.8" cy="250.9" rx="0.8" ry="0.8" transform="rotate(3 623.8 250.9)" fill="#ffe200"/><ellipse cx="623.6" cy="253.1" rx="0.5" ry="0.5" transform="rotate(5 623.6 253.1)" fill="#ff7000"/><ellipse cx="622.1" cy="255.4" rx="0.5" ry="0.4" transform="rotate(23 622.1 255.4)" fill="#ff7000"/><ellipse cx="636.0" cy="245.8" rx="0.5" ry="0.8" transform="rotate(-37 636.0 245.8)" fill="#ffe200"/><ellipse cx="615.3" cy="248.4" rx="0.8" ry="0.6" transform="rotate(33 615.3 248.4)" fill="#ffa800"/><ellipse cx="617.0" cy="251.8" rx="0.6" ry="0.6" transform="rotate(-31 617.0 251.8)" fill="#ff7000"/><ellipse cx="621.1" cy="254.4" rx="1.0" ry="0.8" transform="rotate(-26 621.1 254.4)" fill="#ff7000"/><ellipse cx="628.6" cy="247.8" rx="1.0" ry="0.6" transform="rotate(-35 628.6 247.8)" fill="#ffa800"/><ellipse cx="625.8" cy="252.9" rx="1.0" ry="0.8" transform="rotate(-19 625.8 252.9)" fill="#ffa800"/><ellipse cx="627.3" cy="248.6" rx="0.8" ry="0.6" transform="rotate(-1 627.3 248.6)" fill="#ffa800"/><ellipse cx="627.3" cy="255.6" rx="1.3" ry="0.6" transform="rotate(-9 627.3 255.6)" fill="#ffa800"/><ellipse cx="626.4" cy="247.0" rx="1.0" ry="0.6" transform="rotate(6 626.4 247.0)" fill="#ffe200"/><ellipse cx="635.6" cy="251.4" rx="0.5" ry="0.5" transform="rotate(-23 635.6 251.4)" fill="#ffa800"/><ellipse cx="624.9" cy="246.2" rx="1.0" ry="0.5" transform="rotate(20 624.9 246.2)" fill="#ffe200"/><ellipse cx="623.2" cy="254.2" rx="0.8" ry="0.5" transform="rotate(47 623.2 254.2)" fill="#ffe200"/><ellipse cx="620.0" cy="249.3" rx="1.3" ry="0.4" transform="rotate(0 620.0 249.3)" fill="#ffa800"/><ellipse cx="624.0" cy="245.7" rx="0.8" ry="0.8" transform="rotate(-28 624.0 245.7)" fill="#ffa800"/><ellipse cx="622.8" cy="256.1" rx="0.6" ry="0.6" transform="rotate(-24 622.8 256.1)" fill="#ffa800"/><ellipse cx="626.3" cy="254.3" rx="0.5" ry="0.8" transform="rotate(29 626.3 254.3)" fill="#ffa800"/><ellipse cx="615.4" cy="251.6" rx="1.0" ry="0.8" transform="rotate(-55 615.4 251.6)" fill="#ffa800"/><ellipse cx="630.3" cy="248.9" rx="1.3" ry="0.5" transform="rotate(11 630.3 248.9)" fill="#ffe200"/><ellipse cx="635.6" cy="249.4" rx="0.6" ry="0.5" transform="rotate(-10 635.6 249.4)" fill="#ffe200"/><ellipse cx="632.1" cy="248.4" rx="1.3" ry="0.6" transform="rotate(15 632.1 248.4)" fill="#ffa800"/><ellipse cx="620.1" cy="249.1" rx="1.3" ry="0.5" transform="rotate(-1 620.1 249.1)" fill="#ffe200"/><ellipse cx="616.2" cy="251.4" rx="0.6" ry="0.5" transform="rotate(-14 616.2 251.4)" fill="#ffa800"/><ellipse cx="620.7" cy="253.5" rx="0.8" ry="0.5" transform="rotate(-16 620.7 253.5)" fill="#ffa800"/><ellipse cx="635.8" cy="252.7" rx="1.0" ry="0.4" transform="rotate(-12 635.8 252.7)" fill="#ff7000"/><ellipse cx="636.2" cy="246.9" rx="1.0" ry="0.5" transform="rotate(-8 636.2 246.9)" fill="#ffa800"/><ellipse cx="622.1" cy="252.7" rx="0.5" ry="0.4" transform="rotate(9 622.1 252.7)" fill="#ff7000"/><ellipse cx="617.6" cy="252.7" rx="0.5" ry="0.6" transform="rotate(-5 617.6 252.7)" fill="#ff7000"/><ellipse cx="627.9" cy="251.6" rx="0.8" ry="0.6" transform="rotate(0 627.9 251.6)" fill="#ffa800"/><ellipse cx="634.8" cy="245.6" rx="1.3" ry="0.5" transform="rotate(34 634.8 245.6)" fill="#ffe200"/><ellipse cx="628.0" cy="247.7" rx="0.5" ry="0.6" transform="rotate(-25 628.0 247.7)" fill="#ffa800"/><ellipse cx="617.9" cy="252.0" rx="0.8" ry="0.8" transform="rotate(-8 617.9 252.0)" fill="#ffa800"/><ellipse cx="630.5" cy="247.6" rx="0.8" ry="0.4" transform="rotate(12 630.5 247.6)" fill="#ff7000"/><ellipse cx="621.7" cy="253.2" rx="0.8" ry="0.5" transform="rotate(-3 621.7 253.2)" fill="#ffa800"/><ellipse cx="637.3" cy="252.1" rx="0.8" ry="0.5" transform="rotate(-5 637.3 252.1)" fill="#ffa800"/><ellipse cx="618.6" cy="256.3" rx="0.6" ry="0.6" transform="rotate(-24 618.6 256.3)" fill="#ffa800"/><ellipse cx="631.8" cy="250.9" rx="0.5" ry="0.8" transform="rotate(-27 631.8 250.9)" fill="#ff7000"/><ellipse cx="624.7" cy="247.0" rx="0.8" ry="0.5" transform="rotate(11 624.7 247.0)" fill="#ffa800"/><ellipse cx="626.3" cy="245.5" rx="0.5" ry="0.8" transform="rotate(-9 626.3 245.5)" fill="#ff7000"/><ellipse cx="634.2" cy="245.7" rx="1.3" ry="0.5" transform="rotate(-17 634.2 245.7)" fill="#ffe200"/><ellipse cx="629.5" cy="255.1" rx="1.0" ry="0.4" transform="rotate(-23 629.5 255.1)" fill="#ffa800"/><ellipse cx="617.4" cy="249.0" rx="1.0" ry="0.4" transform="rotate(-57 617.4 249.0)" fill="#ffa800"/><ellipse cx="632.0" cy="245.7" rx="1.3" ry="0.4" transform="rotate(26 632.0 245.7)" fill="#ffe200"/><ellipse cx="622.6" cy="252.0" rx="0.5" ry="0.6" transform="rotate(-5 622.6 252.0)" fill="#ffa800"/><ellipse cx="629.0" cy="249.3" rx="0.8" ry="0.6" transform="rotate(-23 629.0 249.3)" fill="#ffa800"/><ellipse cx="628.6" cy="250.2" rx="0.5" ry="0.5" transform="rotate(-12 628.6 250.2)" fill="#ffa800"/><ellipse cx="615.6" cy="250.5" rx="1.3" ry="0.4" transform="rotate(5 615.6 250.5)" fill="#ffa800"/><ellipse cx="620.1" cy="255.1" rx="0.8" ry="0.5" transform="rotate(-10 620.1 255.1)" fill="#ffa800"/><ellipse cx="625.6" cy="248.3" rx="1.3" ry="0.6" transform="rotate(3 625.6 248.3)" fill="#ffe200"/><ellipse cx="626.6" cy="253.3" rx="1.0" ry="0.6" transform="rotate(-10 626.6 253.3)" fill="#ff7000"/><ellipse cx="623.0" cy="254.5" rx="0.6" ry="0.8" transform="rotate(-10 623.0 254.5)" fill="#ffe200"/><ellipse cx="615.6" cy="255.1" rx="1.0" ry="0.6" transform="rotate(-28 615.6 255.1)" fill="#ffa800"/><ellipse cx="625.0" cy="247.8" rx="0.8" ry="0.4" transform="rotate(4 625.0 247.8)" fill="#ffa800"/><ellipse cx="623.7" cy="252.1" rx="0.5" ry="0.6" transform="rotate(-11 623.7 252.1)" fill="#ffe200"/><ellipse cx="618.4" cy="250.2" rx="0.8" ry="0.5" transform="rotate(-6 618.4 250.2)" fill="#ffa800"/><ellipse cx="626.3" cy="254.2" rx="0.5" ry="0.4" transform="rotate(-25 626.3 254.2)" fill="#ffa800"/><ellipse cx="624.6" cy="250.6" rx="0.6" ry="0.8" transform="rotate(-16 624.6 250.6)" fill="#ffa800"/><ellipse cx="625.4" cy="252.9" rx="0.6" ry="0.8" transform="rotate(-7 625.4 252.9)" fill="#ffe200"/><ellipse cx="634.7" cy="254.1" rx="0.6" ry="0.5" transform="rotate(-11 634.7 254.1)" fill="#ffa800"/><ellipse cx="636.4" cy="245.1" rx="0.8" ry="0.4" transform="rotate(14 636.4 245.1)" fill="#ffa800"/><ellipse cx="622.0" cy="255.9" rx="0.8" ry="0.4" transform="rotate(-29 622.0 255.9)" fill="#ffa800"/><ellipse cx="617.4" cy="253.6" rx="0.6" ry="0.8" transform="rotate(-14 617.4 253.6)" fill="#ffa800"/><ellipse cx="620.6" cy="256.3" rx="1.0" ry="0.8" transform="rotate(19 620.6 256.3)" fill="#ffa800"/><ellipse cx="632.6" cy="246.6" rx="0.5" ry="0.8" transform="rotate(4 632.6 246.6)" fill="#ffa800"/><ellipse cx="631.1" cy="253.9" rx="0.8" ry="0.6" transform="rotate(-16 631.1 253.9)" fill="#ffe200"/><ellipse cx="633.5" cy="254.6" rx="1.0" ry="0.5" transform="rotate(20 633.5 254.6)" fill="#ffa800"/><ellipse cx="626.5" cy="249.1" rx="0.5" ry="0.5" transform="rotate(-11 626.5 249.1)" fill="#ff7000"/><ellipse cx="622.1" cy="255.4" rx="0.5" ry="0.6" transform="rotate(15 622.1 255.4)" fill="#ffa800"/><ellipse cx="617.5" cy="254.9" rx="1.0" ry="0.5" transform="rotate(-5 617.5 254.9)" fill="#ffe200"/><ellipse cx="625.9" cy="250.4" rx="1.0" ry="0.6" transform="rotate(-36 625.9 250.4)" fill="#ffe200"/><ellipse cx="619.9" cy="253.1" rx="1.0" ry="0.4" transform="rotate(-4 619.9 253.1)" fill="#ff7000"/><ellipse cx="636.2" cy="252.9" rx="1.0" ry="0.4" transform="rotate(-21 636.2 252.9)" fill="#ffe200"/><ellipse cx="621.3" cy="251.2" rx="1.3" ry="0.5" transform="rotate(9 621.3 251.2)" fill="#ff7000"/><ellipse cx="631.1" cy="252.6" rx="0.5" ry="0.5" transform="rotate(-3 631.1 252.6)" fill="#ffe200"/><ellipse cx="634.5" cy="252.5" rx="0.6" ry="0.8" transform="rotate(-25 634.5 252.5)" fill="#ffa800"/><ellipse cx="636.9" cy="252.9" rx="1.0" ry="0.5" transform="rotate(-0 636.9 252.9)" fill="#ff7000"/><ellipse cx="634.8" cy="246.8" rx="0.5" ry="0.8" transform="rotate(-24 634.8 246.8)" fill="#ffe200"/><ellipse cx="632.0" cy="251.9" rx="0.6" ry="0.6" transform="rotate(-16 632.0 251.9)" fill="#ffe200"/><ellipse cx="633.7" cy="251.1" rx="0.5" ry="0.6" transform="rotate(20 633.7 251.1)" fill="#ffa800"/><ellipse cx="621.6" cy="246.0" rx="1.0" ry="0.8" transform="rotate(9 621.6 246.0)" fill="#ff7000"/><ellipse cx="623.8" cy="253.2" rx="0.6" ry="0.6" transform="rotate(3 623.8 253.2)" fill="#ffe200"/><ellipse cx="621.7" cy="255.4" rx="0.5" ry="0.5" transform="rotate(4 621.7 255.4)" fill="#ff7000"/><ellipse cx="632.5" cy="250.9" rx="1.3" ry="0.6" transform="rotate(7 632.5 250.9)" fill="#ff7000"/><ellipse cx="618.4" cy="254.6" rx="0.8" ry="0.4" transform="rotate(22 618.4 254.6)" fill="#ffe200"/><ellipse cx="629.1" cy="249.9" rx="0.6" ry="0.4" transform="rotate(-24 629.1 249.9)" fill="#ffe200"/><ellipse cx="630.4" cy="248.1" rx="0.8" ry="0.6" transform="rotate(3 630.4 248.1)" fill="#ff7000"/><ellipse cx="619.5" cy="252.7" rx="0.6" ry="0.4" transform="rotate(-5 619.5 252.7)" fill="#ffe200"/><ellipse cx="617.0" cy="253.6" rx="1.0" ry="0.4" transform="rotate(-36 617.0 253.6)" fill="#ffa800"/><ellipse cx="624.3" cy="251.6" rx="0.8" ry="0.5" transform="rotate(14 624.3 251.6)" fill="#ff7000"/><ellipse cx="627.8" cy="245.5" rx="1.3" ry="0.5" transform="rotate(-18 627.8 245.5)" fill="#ffa800"/><ellipse cx="619.4" cy="248.0" rx="0.5" ry="0.4" transform="rotate(-21 619.4 248.0)" fill="#ffe200"/><ellipse cx="621.6" cy="249.1" rx="1.0" ry="0.6" transform="rotate(17 621.6 249.1)" fill="#ffa800"/><ellipse cx="616.5" cy="249.6" rx="1.3" ry="0.5" transform="rotate(-30 616.5 249.6)" fill="#ffa800"/><ellipse cx="624.4" cy="250.8" rx="0.8" ry="0.6" transform="rotate(27 624.4 250.8)" fill="#ffa800"/><ellipse cx="635.7" cy="252.0" rx="0.6" ry="0.8" transform="rotate(16 635.7 252.0)" fill="#ffa800"/><ellipse cx="615.8" cy="247.3" rx="1.0" ry="0.6" transform="rotate(-31 615.8 247.3)" fill="#ffa800"/><ellipse cx="629.5" cy="250.4" rx="1.0" ry="0.6" transform="rotate(29 629.5 250.4)" fill="#ff7000"/><ellipse cx="627.5" cy="251.0" rx="1.0" ry="0.5" transform="rotate(-14 627.5 251.0)" fill="#ffa800"/><ellipse cx="635.3" cy="252.4" rx="1.0" ry="0.5" transform="rotate(11 635.3 252.4)" fill="#ffa800"/><ellipse cx="628.0" cy="253.4" rx="0.6" ry="0.5" transform="rotate(14 628.0 253.4)" fill="#ffe200"/><ellipse cx="629.8" cy="247.5" rx="0.6" ry="0.6" transform="rotate(12 629.8 247.5)" fill="#ff7000"/><ellipse cx="636.6" cy="253.6" rx="1.0" ry="0.5" transform="rotate(8 636.6 253.6)" fill="#ffe200"/><ellipse cx="628.8" cy="250.4" rx="1.0" ry="0.5" transform="rotate(-9 628.8 250.4)" fill="#ffe200"/><ellipse cx="630.4" cy="250.7" rx="1.3" ry="0.8" transform="rotate(-15 630.4 250.7)" fill="#ffe200"/><ellipse cx="631.1" cy="252.9" rx="0.8" ry="0.8" transform="rotate(-10 631.1 252.9)" fill="#ffa800"/><ellipse cx="627.9" cy="245.9" rx="1.0" ry="0.6" transform="rotate(26 627.9 245.9)" fill="#ff7000"/><ellipse cx="636.5" cy="253.9" rx="0.5" ry="0.4" transform="rotate(-20 636.5 253.9)" fill="#ffe200"/><ellipse cx="636.9" cy="254.7" rx="0.5" ry="0.6" transform="rotate(-7 636.9 254.7)" fill="#ffa800"/><ellipse cx="633.7" cy="245.9" rx="0.5" ry="0.6" transform="rotate(-26 633.7 245.9)" fill="#ffa800"/><ellipse cx="616.5" cy="253.4" rx="0.6" ry="0.8" transform="rotate(2 616.5 253.4)" fill="#ffe200"/><ellipse cx="616.6" cy="247.6" rx="1.3" ry="0.4" transform="rotate(-18 616.6 247.6)" fill="#ffe200"/><ellipse cx="629.0" cy="254.8" rx="0.6" ry="0.8" transform="rotate(13 629.0 254.8)" fill="#ffa800"/><ellipse cx="615.3" cy="247.9" rx="0.6" ry="0.6" transform="rotate(-1 615.3 247.9)" fill="#ffa800"/><ellipse cx="624.9" cy="245.7" rx="0.5" ry="0.4" transform="rotate(-19 624.9 245.7)" fill="#ffa800"/><ellipse cx="634.0" cy="254.9" rx="1.0" ry="0.5" transform="rotate(-6 634.0 254.9)" fill="#ffa800"/><ellipse cx="626.7" cy="255.8" rx="0.5" ry="0.5" transform="rotate(-36 626.7 255.8)" fill="#ffe200"/><ellipse cx="631.7" cy="250.2" rx="0.6" ry="0.4" transform="rotate(-35 631.7 250.2)" fill="#ff7000"/><ellipse cx="633.7" cy="249.5" rx="1.0" ry="0.4" transform="rotate(-42 633.7 249.5)" fill="#ffa800"/><ellipse cx="615.4" cy="248.6" rx="0.6" ry="0.5" transform="rotate(-10 615.4 248.6)" fill="#ffa800"/><ellipse cx="623.1" cy="255.8" rx="0.5" ry="0.6" transform="rotate(-11 623.1 255.8)" fill="#ffa800"/><ellipse cx="631.5" cy="246.6" rx="1.3" ry="0.6" transform="rotate(-24 631.5 246.6)" fill="#ffe200"/><ellipse cx="628.8" cy="248.4" rx="0.5" ry="0.6" transform="rotate(-8 628.8 248.4)" fill="#ffa800"/><ellipse cx="631.7" cy="246.3" rx="0.8" ry="0.6" transform="rotate(-14 631.7 246.3)" fill="#ff7000"/><ellipse cx="635.4" cy="248.8" rx="0.5" ry="0.8" transform="rotate(-19 635.4 248.8)" fill="#ffe200"/><ellipse cx="618.9" cy="247.0" rx="0.5" ry="0.6" transform="rotate(-37 618.9 247.0)" fill="#ffa800"/><ellipse cx="617.9" cy="255.0" rx="1.0" ry="0.4" transform="rotate(-64 617.9 255.0)" fill="#ffa800"/><ellipse cx="624.5" cy="251.9" rx="0.8" ry="0.6" transform="rotate(30 624.5 251.9)" fill="#ffa800"/><ellipse cx="636.2" cy="247.9" rx="0.6" ry="0.6" transform="rotate(21 636.2 247.9)" fill="#ffa800"/><ellipse cx="636.1" cy="251.7" rx="0.5" ry="0.6" transform="rotate(-0 636.1 251.7)" fill="#ffa800"/><ellipse cx="629.0" cy="248.5" rx="1.0" ry="0.8" transform="rotate(11 629.0 248.5)" fill="#ff7000"/><ellipse cx="622.0" cy="255.0" rx="1.0" ry="0.6" transform="rotate(-10 622.0 255.0)" fill="#ff7000"/><ellipse cx="631.6" cy="250.8" rx="1.0" ry="0.4" transform="rotate(10 631.6 250.8)" fill="#ffa800"/><ellipse cx="636.0" cy="246.4" rx="0.5" ry="0.8" transform="rotate(-4 636.0 246.4)" fill="#ffe200"/><ellipse cx="631.5" cy="249.8" rx="1.3" ry="0.4" transform="rotate(-60 631.5 249.8)" fill="#ffa800"/><ellipse cx="632.0" cy="252.8" rx="0.8" ry="0.5" transform="rotate(-17 632.0 252.8)" fill="#ffe200"/><ellipse cx="624.8" cy="246.7" rx="0.8" ry="0.8" transform="rotate(28 624.8 246.7)" fill="#ffe200"/><ellipse cx="626.8" cy="249.9" rx="0.5" ry="0.6" transform="rotate(35 626.8 249.9)" fill="#ffa800"/><ellipse cx="617.4" cy="247.0" rx="1.3" ry="0.8" transform="rotate(-34 617.4 247.0)" fill="#ffa800"/><ellipse cx="622.1" cy="246.1" rx="1.0" ry="0.4" transform="rotate(-45 622.1 246.1)" fill="#ffa800"/><ellipse cx="626.5" cy="247.5" rx="1.0" ry="0.5" transform="rotate(-2 626.5 247.5)" fill="#ffe200"/><ellipse cx="624.0" cy="254.7" rx="0.6" ry="0.6" transform="rotate(-28 624.0 254.7)" fill="#ffa800"/><ellipse cx="634.0" cy="251.1" rx="0.5" ry="0.4" transform="rotate(-46 634.0 251.1)" fill="#ffe200"/><ellipse cx="632.4" cy="252.5" rx="1.0" ry="0.8" transform="rotate(-10 632.4 252.5)" fill="#ffa800"/><ellipse cx="624.6" cy="254.9" rx="0.8" ry="0.5" transform="rotate(-18 624.6 254.9)" fill="#ffa800"/><ellipse cx="622.1" cy="251.2" rx="1.3" ry="0.5" transform="rotate(7 622.1 251.2)" fill="#ffe200"/><ellipse cx="637.2" cy="250.6" rx="1.0" ry="0.5" transform="rotate(3 637.2 250.6)" fill="#ffa800"/><ellipse cx="631.7" cy="251.5" rx="0.8" ry="0.8" transform="rotate(-1 631.7 251.5)" fill="#ffa800"/><ellipse cx="626.1" cy="248.6" rx="1.0" ry="0.6" transform="rotate(4 626.1 248.6)" fill="#ffe200"/><ellipse cx="630.1" cy="247.1" rx="1.0" ry="0.6" transform="rotate(-3 630.1 247.1)" fill="#ffa800"/><ellipse cx="622.8" cy="252.1" rx="1.3" ry="0.8" transform="rotate(1 622.8 252.1)" fill="#ffa800"/><ellipse cx="636.0" cy="255.1" rx="1.3" ry="0.8" transform="rotate(-8 636.0 255.1)" fill="#ffa800"/><ellipse cx="631.8" cy="252.6" rx="1.3" ry="0.5" transform="rotate(-14 631.8 252.6)" fill="#ffe200"/><ellipse cx="635.6" cy="247.4" rx="0.6" ry="0.6" transform="rotate(-2 635.6 247.4)" fill="#ffe200"/><ellipse cx="632.1" cy="252.1" rx="0.8" ry="0.6" transform="rotate(2 632.1 252.1)" fill="#ffa800"/><ellipse cx="628.2" cy="253.7" rx="1.0" ry="0.5" transform="rotate(-10 628.2 253.7)" fill="#ff7000"/><ellipse cx="619.9" cy="251.4" rx="0.8" ry="0.4" transform="rotate(1 619.9 251.4)" fill="#ffa800"/><ellipse cx="634.3" cy="250.5" rx="1.0" ry="0.4" transform="rotate(6 634.3 250.5)" fill="#ffa800"/><ellipse cx="656.5" cy="250.1" rx="0.5" ry="0.5" transform="rotate(-18 656.5 250.1)" fill="#ffa800"/><ellipse cx="641.0" cy="253.3" rx="0.5" ry="0.5" transform="rotate(-14 641.0 253.3)" fill="#ffa800"/><ellipse cx="659.3" cy="250.0" rx="1.3" ry="0.6" transform="rotate(-3 659.3 250.0)" fill="#ffa800"/><ellipse cx="653.7" cy="248.8" rx="1.3" ry="0.4" transform="rotate(10 653.7 248.8)" fill="#ffa800"/><ellipse cx="622.8" cy="248.3" rx="1.3" ry="0.4" transform="rotate(-8 622.8 248.3)" fill="#e6f500"/><ellipse cx="619.8" cy="247.1" rx="0.6" ry="0.4" transform="rotate(-28 619.8 247.1)" fill="#ffa800"/><ellipse cx="611.7" cy="244.1" rx="0.5" ry="0.5" transform="rotate(-39 611.7 244.1)" fill="#ffa800"/><ellipse cx="617.8" cy="255.5" rx="0.8" ry="0.8" transform="rotate(5 617.8 255.5)" fill="#ffa800"/><ellipse cx="625.1" cy="252.4" rx="1.3" ry="0.5" transform="rotate(-8 625.1 252.4)" fill="#ffe200"/><ellipse cx="616.1" cy="253.2" rx="0.6" ry="0.4" transform="rotate(11 616.1 253.2)" fill="#ffa800"/><ellipse cx="654.9" cy="240.0" rx="0.5" ry="0.6" transform="rotate(13 654.9 240.0)" fill="#ffa800"/><ellipse cx="641.6" cy="243.1" rx="0.8" ry="0.5" transform="rotate(-26 641.6 243.1)" fill="#ffa800"/><ellipse cx="633.2" cy="249.6" rx="0.8" ry="0.4" transform="rotate(-27 633.2 249.6)" fill="#ffa800"/><ellipse cx="606.6" cy="259.8" rx="0.8" ry="0.8" transform="rotate(-4 606.6 259.8)" fill="#ffa800"/><ellipse cx="634.1" cy="252.1" rx="1.0" ry="0.6" transform="rotate(-2 634.1 252.1)" fill="#ffe200"/><ellipse cx="643.9" cy="249.8" rx="1.3" ry="0.8" transform="rotate(9 643.9 249.8)" fill="#ffa800"/><ellipse cx="638.0" cy="246.0" rx="0.6" ry="0.8" transform="rotate(-13 638.0 246.0)" fill="#ffa800"/><ellipse cx="643.7" cy="250.7" rx="1.0" ry="0.8" transform="rotate(-23 643.7 250.7)" fill="#ffe200"/><ellipse cx="620.0" cy="245.3" rx="1.0" ry="0.8" transform="rotate(-17 620.0 245.3)" fill="#ff7000"/><ellipse cx="656.5" cy="239.6" rx="1.0" ry="0.8" transform="rotate(-19 656.5 239.6)" fill="#ffa800"/><ellipse cx="659.9" cy="251.5" rx="0.8" ry="0.8" transform="rotate(-26 659.9 251.5)" fill="#ffe200"/><ellipse cx="625.9" cy="242.9" rx="0.6" ry="0.5" transform="rotate(-5 625.9 242.9)" fill="#ffa800"/><ellipse cx="653.2" cy="246.7" rx="1.0" ry="0.5" transform="rotate(-8 653.2 246.7)" fill="#ffa800"/><ellipse cx="650.2" cy="250.5" rx="0.5" ry="0.8" transform="rotate(-46 650.2 250.5)" fill="#ffa800"/><ellipse cx="612.5" cy="247.7" rx="0.8" ry="0.4" transform="rotate(-30 612.5 247.7)" fill="#ffa800"/><ellipse cx="606.9" cy="257.0" rx="1.3" ry="0.6" transform="rotate(-2 606.9 257.0)" fill="#ffa800"/><ellipse cx="622.7" cy="252.9" rx="0.6" ry="0.6" transform="rotate(9 622.7 252.9)" fill="#ffa800"/><ellipse cx="617.3" cy="253.7" rx="0.5" ry="0.4" transform="rotate(2 617.3 253.7)" fill="#ff7000"/><ellipse cx="608.3" cy="255.1" rx="0.8" ry="0.6" transform="rotate(-7 608.3 255.1)" fill="#ffa800"/><ellipse cx="620.9" cy="252.2" rx="1.0" ry="0.8" transform="rotate(22 620.9 252.2)" fill="#ffa800"/><ellipse cx="614.2" cy="252.2" rx="0.6" ry="0.8" transform="rotate(8 614.2 252.2)" fill="#ffa800"/><ellipse cx="631.5" cy="252.3" rx="0.6" ry="0.8" transform="rotate(-20 631.5 252.3)" fill="#ffe200"/><ellipse cx="616.8" cy="256.1" rx="1.3" ry="0.8" transform="rotate(-40 616.8 256.1)" fill="#ffa800"/><ellipse cx="633.4" cy="255.0" rx="0.6" ry="0.5" transform="rotate(33 633.4 255.0)" fill="#ffe200"/><ellipse cx="636.4" cy="243.6" rx="0.5" ry="0.6" transform="rotate(7 636.4 243.6)" fill="#ffa800"/><ellipse cx="614.3" cy="253.5" rx="0.8" ry="0.4" transform="rotate(-32 614.3 253.5)" fill="#ff7000"/><ellipse cx="641.5" cy="246.3" rx="1.0" ry="0.6" transform="rotate(34 641.5 246.3)" fill="#ffa800"/><ellipse cx="653.9" cy="251.0" rx="1.3" ry="0.8" transform="rotate(-20 653.9 251.0)" fill="#ffa800"/><ellipse cx="607.8" cy="251.7" rx="1.3" ry="0.6" transform="rotate(7 607.8 251.7)" fill="#ffa800"/><ellipse cx="640.2" cy="246.8" rx="0.5" ry="0.4" transform="rotate(-11 640.2 246.8)" fill="#ffa800"/><ellipse cx="626.7" cy="249.0" rx="0.5" ry="0.4" transform="rotate(-15 626.7 249.0)" fill="#ffa800"/><ellipse cx="645.4" cy="247.3" rx="1.0" ry="0.4" transform="rotate(-20 645.4 247.3)" fill="#ffe200"/><ellipse cx="613.7" cy="252.7" rx="0.5" ry="0.6" transform="rotate(-52 613.7 252.7)" fill="#ffe200"/><ellipse cx="625.9" cy="245.7" rx="0.5" ry="0.6" transform="rotate(-48 625.9 245.7)" fill="#ffa800"/><ellipse cx="645.2" cy="251.9" rx="1.3" ry="0.4" transform="rotate(-6 645.2 251.9)" fill="#ff7000"/><ellipse cx="638.1" cy="249.9" rx="1.0" ry="0.4" transform="rotate(-12 638.1 249.9)" fill="#ff7000"/><ellipse cx="631.9" cy="246.9" rx="0.6" ry="0.4" transform="rotate(-26 631.9 246.9)" fill="#ff7000"/><ellipse cx="638.3" cy="241.5" rx="1.0" ry="0.8" transform="rotate(-7 638.3 241.5)" fill="#ffe200"/><ellipse cx="607.8" cy="252.2" rx="0.8" ry="0.5" transform="rotate(-25 607.8 252.2)" fill="#ffa800"/><ellipse cx="641.6" cy="243.2" rx="1.3" ry="0.4" transform="rotate(-30 641.6 243.2)" fill="#ffa800"/><ellipse cx="642.6" cy="242.3" rx="0.6" ry="0.8" transform="rotate(25 642.6 242.3)" fill="#ffa800"/><ellipse cx="604.2" cy="249.3" rx="1.0" ry="0.4" transform="rotate(-25 604.2 249.3)" fill="#ffa800"/><ellipse cx="642.2" cy="243.0" rx="0.6" ry="0.5" transform="rotate(7 642.2 243.0)" fill="#ffa800"/><ellipse cx="646.7" cy="246.4" rx="0.6" ry="0.8" transform="rotate(-18 646.7 246.4)" fill="#ffa800"/><ellipse cx="642.3" cy="250.6" rx="0.6" ry="0.4" transform="rotate(-7 642.3 250.6)" fill="#ffa800"/><ellipse cx="637.1" cy="243.5" rx="0.8" ry="0.8" transform="rotate(-15 637.1 243.5)" fill="#ff7000"/><ellipse cx="649.3" cy="249.1" rx="0.8" ry="0.4" transform="rotate(4 649.3 249.1)" fill="#ffa800"/><ellipse cx="645.8" cy="251.0" rx="1.3" ry="0.4" transform="rotate(-29 645.8 251.0)" fill="#ffa800"/><ellipse cx="655.2" cy="244.6" rx="0.8" ry="0.8" transform="rotate(31 655.2 244.6)" fill="#ffa800"/><ellipse cx="638.2" cy="243.8" rx="1.0" ry="0.6" transform="rotate(30 638.2 243.8)" fill="#ffa800"/><ellipse cx="658.2" cy="242.3" rx="0.6" ry="0.6" transform="rotate(-8 658.2 242.3)" fill="#ffe200"/><ellipse cx="616.2" cy="249.0" rx="1.0" ry="0.5" transform="rotate(30 616.2 249.0)" fill="#ffa800"/><ellipse cx="641.0" cy="246.2" rx="1.0" ry="0.5" transform="rotate(-13 641.0 246.2)" fill="#ffe200"/><ellipse cx="615.5" cy="249.0" rx="0.5" ry="0.8" transform="rotate(14 615.5 249.0)" fill="#ffa800"/><ellipse cx="621.5" cy="255.7" rx="0.5" ry="0.8" transform="rotate(16 621.5 255.7)" fill="#ffa800"/><ellipse cx="609.2" cy="251.8" rx="1.3" ry="0.8" transform="rotate(-15 609.2 251.8)" fill="#ffe200"/><ellipse cx="609.4" cy="258.4" rx="1.3" ry="0.4" transform="rotate(-5 609.4 258.4)" fill="#ffe200"/><ellipse cx="620.2" cy="251.6" rx="1.0" ry="0.6" transform="rotate(-8 620.2 251.6)" fill="#ff7000"/><ellipse cx="633.6" cy="252.1" rx="1.0" ry="0.5" transform="rotate(-31 633.6 252.1)" fill="#ffa800"/><ellipse cx="621.6" cy="247.2" rx="0.5" ry="0.8" transform="rotate(-17 621.6 247.2)" fill="#ffe200"/><ellipse cx="631.4" cy="248.8" rx="0.6" ry="0.4" transform="rotate(-6 631.4 248.8)" fill="#ffe200"/><ellipse cx="626.7" cy="248.3" rx="0.8" ry="0.5" transform="rotate(-11 626.7 248.3)" fill="#ffa800"/><ellipse cx="620.5" cy="248.9" rx="1.3" ry="0.4" transform="rotate(-4 620.5 248.9)" fill="#ffe200"/><ellipse cx="631.0" cy="252.5" rx="1.0" ry="0.5" transform="rotate(-26 631.0 252.5)" fill="#ffa800"/><ellipse cx="656.1" cy="253.1" rx="0.5" ry="0.5" transform="rotate(-23 656.1 253.1)" fill="#ffe200"/><ellipse cx="614.2" cy="252.7" rx="0.8" ry="0.6" transform="rotate(-17 614.2 252.7)" fill="#ffe200"/><ellipse cx="645.6" cy="240.8" rx="0.6" ry="0.6" transform="rotate(6 645.6 240.8)" fill="#ffa800"/><ellipse cx="633.5" cy="252.3" rx="0.6" ry="0.8" transform="rotate(-24 633.5 252.3)" fill="#ffa800"/><ellipse cx="614.0" cy="252.5" rx="0.8" ry="0.5" transform="rotate(-35 614.0 252.5)" fill="#ffa800"/><ellipse cx="636.8" cy="250.7" rx="0.6" ry="0.5" transform="rotate(12 636.8 250.7)" fill="#ffa800"/><ellipse cx="658.3" cy="247.0" rx="0.6" ry="0.5" transform="rotate(26 658.3 247.0)" fill="#ffe200"/><ellipse cx="636.6" cy="246.9" rx="1.3" ry="0.5" transform="rotate(-21 636.6 246.9)" fill="#ffe200"/><ellipse cx="646.9" cy="244.8" rx="1.3" ry="0.6" transform="rotate(4 646.9 244.8)" fill="#ffa800"/><ellipse cx="631.6" cy="244.6" rx="1.0" ry="0.5" transform="rotate(5 631.6 244.6)" fill="#ffa800"/><ellipse cx="602.5" cy="256.9" rx="1.0" ry="0.6" transform="rotate(-32 602.5 256.9)" fill="#ffa800"/><ellipse cx="628.6" cy="244.2" rx="0.5" ry="0.6" transform="rotate(2 628.6 244.2)" fill="#ffa800"/><ellipse cx="618.4" cy="256.2" rx="0.6" ry="0.4" transform="rotate(-24 618.4 256.2)" fill="#ffa800"/><ellipse cx="653.0" cy="251.0" rx="1.0" ry="0.5" transform="rotate(11 653.0 251.0)" fill="#ffa800"/><ellipse cx="613.1" cy="249.3" rx="0.6" ry="0.4" transform="rotate(-15 613.1 249.3)" fill="#ffa800"/><ellipse cx="636.3" cy="247.5" rx="0.6" ry="0.5" transform="rotate(-32 636.3 247.5)" fill="#ffa800"/><ellipse cx="648.4" cy="250.7" rx="0.6" ry="0.5" transform="rotate(-28 648.4 250.7)" fill="#ffa800"/><ellipse cx="627.0" cy="242.7" rx="0.5" ry="0.6" transform="rotate(5 627.0 242.7)" fill="#ff7000"/><ellipse cx="624.3" cy="244.2" rx="0.5" ry="0.5" transform="rotate(-29 624.3 244.2)" fill="#ffa800"/><ellipse cx="615.3" cy="255.3" rx="1.0" ry="0.5" transform="rotate(7 615.3 255.3)" fill="#ffa800"/><ellipse cx="655.5" cy="249.1" rx="1.0" ry="0.6" transform="rotate(10 655.5 249.1)" fill="#ffa800"/><ellipse cx="616.3" cy="255.5" rx="0.8" ry="0.6" transform="rotate(-25 616.3 255.5)" fill="#ff7000"/><ellipse cx="650.7" cy="252.7" rx="0.8" ry="0.6" transform="rotate(6 650.7 252.7)" fill="#ffa800"/><ellipse cx="601.2" cy="254.8" rx="1.3" ry="0.4" transform="rotate(-3 601.2 254.8)" fill="#ffa800"/><ellipse cx="615.7" cy="252.2" rx="0.8" ry="0.8" transform="rotate(10 615.7 252.2)" fill="#ffe200"/><ellipse cx="629.5" cy="252.0" rx="0.5" ry="0.4" transform="rotate(27 629.5 252.0)" fill="#ffe200"/><ellipse cx="633.3" cy="245.7" rx="0.5" ry="0.6" transform="rotate(-3 633.3 245.7)" fill="#ffe200"/><ellipse cx="640.1" cy="254.6" rx="1.3" ry="0.4" transform="rotate(25 640.1 254.6)" fill="#ffa800"/><ellipse cx="636.3" cy="249.2" rx="1.0" ry="0.5" transform="rotate(2 636.3 249.2)" fill="#ffe200"/><ellipse cx="630.1" cy="254.9" rx="0.8" ry="0.6" transform="rotate(-1 630.1 254.9)" fill="#ffe200"/><ellipse cx="645.5" cy="242.0" rx="1.3" ry="0.8" transform="rotate(25 645.5 242.0)" fill="#ff7000"/><ellipse cx="632.9" cy="248.0" rx="0.6" ry="0.8" transform="rotate(-37 632.9 248.0)" fill="#ffa800"/><ellipse cx="655.6" cy="245.2" rx="0.8" ry="0.6" transform="rotate(-46 655.6 245.2)" fill="#ffe200"/><ellipse cx="634.0" cy="250.5" rx="1.0" ry="0.5" transform="rotate(-31 634.0 250.5)" fill="#ffa800"/><ellipse cx="626.0" cy="251.0" rx="0.8" ry="0.5" transform="rotate(-9 626.0 251.0)" fill="#ffa800"/><ellipse cx="632.8" cy="255.9" rx="1.0" ry="0.4" transform="rotate(-15 632.8 255.9)" fill="#ffa800"/><ellipse cx="615.2" cy="254.0" rx="0.6" ry="0.4" transform="rotate(-16 615.2 254.0)" fill="#ffa800"/><ellipse cx="647.4" cy="249.2" rx="1.3" ry="0.8" transform="rotate(1 647.4 249.2)" fill="#ff7000"/><ellipse cx="621.5" cy="250.8" rx="1.0" ry="0.6" transform="rotate(-20 621.5 250.8)" fill="#ffa800"/><ellipse cx="601.4" cy="253.4" rx="0.5" ry="0.6" transform="rotate(-29 601.4 253.4)" fill="#ffe200"/><ellipse cx="605.5" cy="253.3" rx="0.5" ry="0.4" transform="rotate(-20 605.5 253.3)" fill="#ffa800"/><ellipse cx="649.7" cy="252.1" rx="0.5" ry="0.5" transform="rotate(-14 649.7 252.1)" fill="#ffe200"/><ellipse cx="628.1" cy="243.2" rx="0.5" ry="0.4" transform="rotate(10 628.1 243.2)" fill="#ff7000"/><ellipse cx="640.5" cy="247.4" rx="1.3" ry="0.6" transform="rotate(-25 640.5 247.4)" fill="#ffa800"/><ellipse cx="657.3" cy="252.0" rx="0.6" ry="0.8" transform="rotate(-5 657.3 252.0)" fill="#ffa800"/><ellipse cx="647.1" cy="245.0" rx="1.0" ry="0.6" transform="rotate(26 647.1 245.0)" fill="#ffa800"/><ellipse cx="609.1" cy="248.5" rx="0.5" ry="0.8" transform="rotate(-3 609.1 248.5)" fill="#ffa800"/><ellipse cx="597.1" cy="250.4" rx="1.0" ry="0.6" transform="rotate(-42 597.1 250.4)" fill="#e6f500"/><ellipse cx="617.5" cy="256.3" rx="0.8" ry="0.6" transform="rotate(-25 617.5 256.3)" fill="#ffa800"/><ellipse cx="604.8" cy="248.4" rx="0.8" ry="0.5" transform="rotate(-12 604.8 248.4)" fill="#e6f500"/><ellipse cx="624.5" cy="255.5" rx="1.3" ry="0.4" transform="rotate(30 624.5 255.5)" fill="#ffe200"/><ellipse cx="637.5" cy="254.0" rx="0.6" ry="0.8" transform="rotate(-28 637.5 254.0)" fill="#ffa800"/><ellipse cx="628.2" cy="250.9" rx="1.0" ry="0.5" transform="rotate(-17 628.2 250.9)" fill="#ff7000"/><ellipse cx="655.9" cy="252.9" rx="0.8" ry="0.4" transform="rotate(-3 655.9 252.9)" fill="#ffe200"/><ellipse cx="625.1" cy="253.5" rx="1.0" ry="0.5" transform="rotate(3 625.1 253.5)" fill="#e6f500"/><ellipse cx="619.3" cy="242.9" rx="1.0" ry="0.4" transform="rotate(6 619.3 242.9)" fill="#ffe200"/><ellipse cx="614.1" cy="256.7" rx="1.0" ry="0.5" transform="rotate(-17 614.1 256.7)" fill="#e6f500"/><ellipse cx="285.1" cy="356.3" rx="1.0" ry="0.8" transform="rotate(7 285.1 356.3)" fill="#ffe200"/><ellipse cx="283.5" cy="358.3" rx="1.0" ry="0.8" transform="rotate(-11 283.5 358.3)" fill="#ffa800"/><ellipse cx="285.0" cy="355.5" rx="1.0" ry="0.8" transform="rotate(-8 285.0 355.5)" fill="#ffa800"/><ellipse cx="283.7" cy="359.6" rx="1.6" ry="1.0" transform="rotate(-20 283.7 359.6)" fill="#ffa800"/><ellipse cx="285.9" cy="357.9" rx="1.6" ry="0.8" transform="rotate(-16 285.9 357.9)" fill="#ffe200"/><ellipse cx="281.2" cy="355.0" rx="0.6" ry="0.5" transform="rotate(2 281.2 355.0)" fill="#ffa800"/><ellipse cx="288.3" cy="355.8" rx="1.6" ry="1.0" transform="rotate(-8 288.3 355.8)" fill="#ffa800"/><ellipse cx="288.5" cy="356.2" rx="1.6" ry="0.5" transform="rotate(15 288.5 356.2)" fill="#ffe200"/><ellipse cx="281.2" cy="356.6" rx="0.8" ry="0.8" transform="rotate(-19 281.2 356.6)" fill="#ff7000"/><ellipse cx="281.1" cy="355.9" rx="1.3" ry="0.5" transform="rotate(14 281.1 355.9)" fill="#ffa800"/><ellipse cx="282.9" cy="358.1" rx="0.8" ry="1.0" transform="rotate(-7 282.9 358.1)" fill="#ffa800"/><ellipse cx="281.9" cy="354.6" rx="1.0" ry="0.6" transform="rotate(16 281.9 354.6)" fill="#ffa800"/><ellipse cx="282.4" cy="359.1" rx="1.6" ry="1.0" transform="rotate(-4 282.4 359.1)" fill="#ffa800"/><ellipse cx="280.5" cy="355.7" rx="1.6" ry="0.5" transform="rotate(12 280.5 355.7)" fill="#ffe200"/><ellipse cx="285.5" cy="356.1" rx="0.6" ry="1.0" transform="rotate(3 285.5 356.1)" fill="#ffa800"/><ellipse cx="286.9" cy="357.1" rx="0.8" ry="0.8" transform="rotate(-16 286.9 357.1)" fill="#ffa800"/><ellipse cx="285.7" cy="357.4" rx="0.6" ry="1.0" transform="rotate(7 285.7 357.4)" fill="#ffa800"/><ellipse cx="284.4" cy="358.0" rx="1.6" ry="0.6" transform="rotate(20 284.4 358.0)" fill="#ffa800"/><ellipse cx="284.4" cy="359.6" rx="0.8" ry="0.8" transform="rotate(-8 284.4 359.6)" fill="#ffe200"/><ellipse cx="288.3" cy="355.5" rx="0.8" ry="0.8" transform="rotate(12 288.3 355.5)" fill="#ffe200"/><ellipse cx="280.8" cy="359.7" rx="0.8" ry="0.6" transform="rotate(-18 280.8 359.7)" fill="#ffa800"/><ellipse cx="280.3" cy="357.2" rx="0.6" ry="0.5" transform="rotate(4 280.3 357.2)" fill="#ffa800"/><ellipse cx="306.5" cy="360.0" rx="1.0" ry="1.0" transform="rotate(8 306.5 360.0)" fill="#ffa800"/><ellipse cx="310.7" cy="360.8" rx="1.6" ry="1.0" transform="rotate(-7 310.7 360.8)" fill="#ffa800"/><ellipse cx="308.0" cy="359.7" rx="0.6" ry="1.0" transform="rotate(-10 308.0 359.7)" fill="#ffa800"/><ellipse cx="307.5" cy="358.3" rx="1.3" ry="0.6" transform="rotate(-17 307.5 358.3)" fill="#ffa800"/><ellipse cx="309.6" cy="359.9" rx="0.6" ry="0.5" transform="rotate(17 309.6 359.9)" fill="#ffa800"/><ellipse cx="308.4" cy="358.1" rx="1.6" ry="0.5" transform="rotate(-13 308.4 358.1)" fill="#ffa800"/><ellipse cx="312.3" cy="360.5" rx="1.0" ry="0.5" transform="rotate(-14 312.3 360.5)" fill="#ffa800"/><ellipse cx="311.8" cy="359.0" rx="0.8" ry="0.5" transform="rotate(5 311.8 359.0)" fill="#ffa800"/><ellipse cx="314.1" cy="361.2" rx="1.0" ry="1.0" transform="rotate(14 314.1 361.2)" fill="#ffa800"/><ellipse cx="309.5" cy="361.8" rx="1.3" ry="1.0" transform="rotate(0 309.5 361.8)" fill="#ffa800"/><ellipse cx="313.1" cy="358.5" rx="1.0" ry="0.8" transform="rotate(0 313.1 358.5)" fill="#ffe200"/><ellipse cx="315.0" cy="358.9" rx="0.8" ry="0.5" transform="rotate(-16 315.0 358.9)" fill="#ffe200"/><ellipse cx="315.0" cy="361.3" rx="1.6" ry="0.6" transform="rotate(10 315.0 361.3)" fill="#ff7000"/><ellipse cx="310.0" cy="360.1" rx="0.8" ry="0.8" transform="rotate(-10 310.0 360.1)" fill="#ffa800"/><ellipse cx="309.2" cy="360.6" rx="0.8" ry="0.6" transform="rotate(-10 309.2 360.6)" fill="#ffe200"/><ellipse cx="313.0" cy="361.7" rx="1.6" ry="0.6" transform="rotate(-11 313.0 361.7)" fill="#ffe200"/><ellipse cx="319.1" cy="358.2" rx="1.3" ry="0.5" transform="rotate(0 319.1 358.2)" fill="#ffe200"/><ellipse cx="324.3" cy="359.5" rx="1.0" ry="0.6" transform="rotate(1 324.3 359.5)" fill="#ffe200"/><ellipse cx="318.9" cy="360.1" rx="1.0" ry="1.0" transform="rotate(1 318.9 360.1)" fill="#ffe200"/><ellipse cx="322.8" cy="358.9" rx="0.8" ry="0.5" transform="rotate(-12 322.8 358.9)" fill="#ffa800"/><ellipse cx="327.4" cy="359.6" rx="0.6" ry="0.5" transform="rotate(10 327.4 359.6)" fill="#ffe200"/><ellipse cx="320.4" cy="359.2" rx="1.0" ry="0.8" transform="rotate(-3 320.4 359.2)" fill="#ffa800"/><ellipse cx="326.0" cy="359.5" rx="0.6" ry="0.8" transform="rotate(5 326.0 359.5)" fill="#ffa800"/><ellipse cx="325.0" cy="359.3" rx="1.6" ry="0.8" transform="rotate(-15 325.0 359.3)" fill="#ffa800"/><ellipse cx="323.2" cy="358.2" rx="1.0" ry="1.0" transform="rotate(-4 323.2 358.2)" fill="#ffa800"/><ellipse cx="324.5" cy="360.6" rx="1.0" ry="1.0" transform="rotate(5 324.5 360.6)" fill="#ffa800"/><ellipse cx="327.1" cy="358.9" rx="0.6" ry="1.0" transform="rotate(-14 327.1 358.9)" fill="#ffe200"/><ellipse cx="327.3" cy="358.1" rx="0.6" ry="0.8" transform="rotate(10 327.3 358.1)" fill="#ffa800"/><ellipse cx="324.0" cy="358.7" rx="1.6" ry="1.0" transform="rotate(-6 324.0 358.7)" fill="#ffa800"/><ellipse cx="324.2" cy="359.0" rx="1.3" ry="0.6" transform="rotate(-16 324.2 359.0)" fill="#ffa800"/><ellipse cx="327.2" cy="359.8" rx="0.8" ry="1.0" transform="rotate(15 327.2 359.8)" fill="#ffa800"/><ellipse cx="322.2" cy="360.4" rx="1.3" ry="0.6" transform="rotate(-1 322.2 360.4)" fill="#ffe200"/><ellipse cx="301.4" cy="366.2" rx="1.6" ry="1.0" transform="rotate(7 301.4 366.2)" fill="#ffa800"/><ellipse cx="303.2" cy="367.3" rx="1.3" ry="0.8" transform="rotate(-2 303.2 367.3)" fill="#ffa800"/><ellipse cx="301.8" cy="366.0" rx="1.3" ry="0.6" transform="rotate(6 301.8 366.0)" fill="#ffa800"/><ellipse cx="303.8" cy="366.0" rx="1.6" ry="0.8" transform="rotate(-10 303.8 366.0)" fill="#ffa800"/><ellipse cx="304.9" cy="366.5" rx="1.6" ry="0.5" transform="rotate(-2 304.9 366.5)" fill="#ffe200"/><ellipse cx="302.7" cy="367.4" rx="1.6" ry="1.0" transform="rotate(17 302.7 367.4)" fill="#ffa800"/><ellipse cx="304.3" cy="367.5" rx="1.0" ry="0.8" transform="rotate(18 304.3 367.5)" fill="#ffa800"/><ellipse cx="304.9" cy="366.7" rx="1.3" ry="0.5" transform="rotate(-20 304.9 366.7)" fill="#ffa800"/><ellipse cx="304.5" cy="365.7" rx="1.6" ry="1.0" transform="rotate(-1 304.5 365.7)" fill="#ffe200"/><ellipse cx="306.2" cy="368.4" rx="0.8" ry="0.5" transform="rotate(9 306.2 368.4)" fill="#ffe200"/><ellipse cx="314.9" cy="369.5" rx="1.3" ry="0.8" transform="rotate(-10 314.9 369.5)" fill="#ffa800"/><ellipse cx="310.5" cy="368.6" rx="1.3" ry="1.0" transform="rotate(-2 310.5 368.6)" fill="#ffa800"/><ellipse cx="319.1" cy="370.0" rx="1.0" ry="1.0" transform="rotate(16 319.1 370.0)" fill="#ffa800"/><ellipse cx="305.4" cy="370.8" rx="0.6" ry="0.6" transform="rotate(-4 305.4 370.8)" fill="#ffa800"/><ellipse cx="314.1" cy="368.8" rx="1.0" ry="0.6" transform="rotate(-2 314.1 368.8)" fill="#ff7000"/><ellipse cx="320.3" cy="369.2" rx="0.6" ry="1.0" transform="rotate(-16 320.3 369.2)" fill="#ffe200"/><ellipse cx="319.8" cy="369.6" rx="1.0" ry="0.8" transform="rotate(17 319.8 369.6)" fill="#ffa800"/><ellipse cx="309.5" cy="370.3" rx="0.6" ry="0.6" transform="rotate(18 309.5 370.3)" fill="#ffe200"/><ellipse cx="316.7" cy="369.8" rx="1.6" ry="0.6" transform="rotate(6 316.7 369.8)" fill="#ffa800"/><ellipse cx="311.3" cy="370.5" rx="1.6" ry="0.5" transform="rotate(13 311.3 370.5)" fill="#ff7000"/><ellipse cx="310.5" cy="371.1" rx="0.6" ry="0.6" transform="rotate(-16 310.5 371.1)" fill="#ffe200"/><ellipse cx="312.7" cy="368.7" rx="1.3" ry="1.0" transform="rotate(-11 312.7 368.7)" fill="#ffa800"/><ellipse cx="320.0" cy="370.0" rx="0.6" ry="0.8" transform="rotate(-11 320.0 370.0)" fill="#ff7000"/><ellipse cx="306.0" cy="369.4" rx="1.6" ry="1.0" transform="rotate(-5 306.0 369.4)" fill="#ffe200"/><ellipse cx="303.6" cy="368.7" rx="1.0" ry="1.0" transform="rotate(-14 303.6 368.7)" fill="#ffa800"/><ellipse cx="321.8" cy="369.0" rx="0.6" ry="0.6" transform="rotate(-17 321.8 369.0)" fill="#ffa800"/><ellipse cx="309.3" cy="370.2" rx="1.0" ry="0.8" transform="rotate(13 309.3 370.2)" fill="#ffa800"/><ellipse cx="307.6" cy="369.7" rx="1.6" ry="0.5" transform="rotate(12 307.6 369.7)" fill="#ff7000"/><ellipse cx="311.5" cy="369.3" rx="1.6" ry="1.0" transform="rotate(-20 311.5 369.3)" fill="#ff7000"/><ellipse cx="308.1" cy="368.9" rx="1.6" ry="0.5" transform="rotate(-2 308.1 368.9)" fill="#ffe200"/><ellipse cx="310.7" cy="369.3" rx="1.6" ry="1.0" transform="rotate(19 310.7 369.3)" fill="#ffa800"/><ellipse cx="319.4" cy="369.4" rx="1.6" ry="1.0" transform="rotate(-9 319.4 369.4)" fill="#ffe200"/><ellipse cx="341.0" cy="368.8" rx="1.3" ry="0.5" transform="rotate(14 341.0 368.8)" fill="#ff7000"/><ellipse cx="339.4" cy="371.0" rx="0.6" ry="0.5" transform="rotate(4 339.4 371.0)" fill="#ffa800"/><ellipse cx="340.0" cy="370.7" rx="1.6" ry="1.0" transform="rotate(4 340.0 370.7)" fill="#ff7000"/><ellipse cx="341.0" cy="370.5" rx="1.6" ry="0.6" transform="rotate(-13 341.0 370.5)" fill="#ff7000"/><ellipse cx="342.7" cy="367.9" rx="0.6" ry="0.5" transform="rotate(16 342.7 367.9)" fill="#ff7000"/><ellipse cx="340.1" cy="370.2" rx="0.6" ry="0.8" transform="rotate(15 340.1 370.2)" fill="#ff7000"/><ellipse cx="340.3" cy="368.5" rx="1.6" ry="1.0" transform="rotate(7 340.3 368.5)" fill="#ffa800"/><ellipse cx="342.0" cy="368.3" rx="1.6" ry="1.0" transform="rotate(10 342.0 368.3)" fill="#ff7000"/><ellipse cx="342.3" cy="369.4" rx="0.8" ry="0.6" transform="rotate(-10 342.3 369.4)" fill="#ff7000"/><ellipse cx="338.5" cy="368.2" rx="1.0" ry="0.5" transform="rotate(-14 338.5 368.2)" fill="#ff7000"/><ellipse cx="353.5" cy="360.8" rx="0.8" ry="1.0" transform="rotate(3 353.5 360.8)" fill="#ffa800"/><ellipse cx="353.9" cy="361.2" rx="0.8" ry="1.0" transform="rotate(14 353.9 361.2)" fill="#ff7000"/><ellipse cx="349.4" cy="361.3" rx="1.0" ry="0.8" transform="rotate(-11 349.4 361.3)" fill="#ffa800"/><ellipse cx="354.3" cy="360.6" rx="1.6" ry="0.8" transform="rotate(-8 354.3 360.6)" fill="#ffa800"/><ellipse cx="354.2" cy="362.5" rx="0.6" ry="0.5" transform="rotate(-14 354.2 362.5)" fill="#ffa800"/><ellipse cx="348.4" cy="361.5" rx="0.8" ry="0.5" transform="rotate(-5 348.4 361.5)" fill="#ffe200"/><ellipse cx="353.9" cy="360.0" rx="0.6" ry="0.8" transform="rotate(12 353.9 360.0)" fill="#ffe200"/><ellipse cx="356.8" cy="363.0" rx="1.6" ry="0.6" transform="rotate(-8 356.8 363.0)" fill="#ffa800"/><ellipse cx="356.7" cy="363.0" rx="1.3" ry="0.8" transform="rotate(16 356.7 363.0)" fill="#ffa800"/><ellipse cx="354.4" cy="361.9" rx="0.6" ry="0.8" transform="rotate(10 354.4 361.9)" fill="#ffa800"/><ellipse cx="353.3" cy="362.8" rx="1.6" ry="0.6" transform="rotate(-0 353.3 362.8)" fill="#ffa800"/><ellipse cx="354.6" cy="361.2" rx="0.8" ry="1.0" transform="rotate(-5 354.6 361.2)" fill="#ffa800"/><ellipse cx="355.4" cy="362.7" rx="0.8" ry="1.0" transform="rotate(-10 355.4 362.7)" fill="#ff7000"/><ellipse cx="357.0" cy="362.0" rx="1.0" ry="0.6" transform="rotate(-2 357.0 362.0)" fill="#ff7000"/><ellipse cx="355.9" cy="368.7" rx="0.8" ry="1.0" transform="rotate(-2 355.9 368.7)" fill="#ffe200"/><ellipse cx="356.8" cy="368.2" rx="1.3" ry="0.8" transform="rotate(-16 356.8 368.2)" fill="#ffa800"/><ellipse cx="356.0" cy="368.0" rx="1.6" ry="1.0" transform="rotate(14 356.0 368.0)" fill="#ffe200"/><ellipse cx="353.8" cy="369.6" rx="0.6" ry="0.5" transform="rotate(-14 353.8 369.6)" fill="#ffa800"/><ellipse cx="356.2" cy="368.2" rx="1.0" ry="0.5" transform="rotate(18 356.2 368.2)" fill="#ffa800"/><ellipse cx="354.3" cy="368.2" rx="1.3" ry="0.6" transform="rotate(3 354.3 368.2)" fill="#ffa800"/><ellipse cx="357.9" cy="369.8" rx="0.6" ry="0.5" transform="rotate(8 357.9 369.8)" fill="#ffa800"/><ellipse cx="355.9" cy="368.3" rx="1.3" ry="0.8" transform="rotate(-16 355.9 368.3)" fill="#ffa800"/><ellipse cx="372.6" cy="358.8" rx="1.6" ry="1.0" transform="rotate(11 372.6 358.8)" fill="#ffa800"/><ellipse cx="372.6" cy="360.7" rx="1.3" ry="0.6" transform="rotate(-12 372.6 360.7)" fill="#ffa800"/><ellipse cx="372.7" cy="359.4" rx="1.0" ry="0.6" transform="rotate(-20 372.7 359.4)" fill="#ffa800"/><ellipse cx="369.8" cy="359.4" rx="1.3" ry="0.6" transform="rotate(5 369.8 359.4)" fill="#ffa800"/><ellipse cx="372.3" cy="360.0" rx="1.0" ry="0.5" transform="rotate(10 372.3 360.0)" fill="#ffa800"/><ellipse cx="366.3" cy="358.1" rx="1.6" ry="1.0" transform="rotate(-18 366.3 358.1)" fill="#ff7000"/><ellipse cx="367.6" cy="359.0" rx="1.0" ry="0.6" transform="rotate(-17 367.6 359.0)" fill="#ffa800"/><ellipse cx="369.1" cy="359.3" rx="0.6" ry="1.0" transform="rotate(-6 369.1 359.3)" fill="#ffa800"/><ellipse cx="369.0" cy="359.2" rx="1.6" ry="0.5" transform="rotate(2 369.0 359.2)" fill="#ffa800"/><ellipse cx="369.2" cy="360.5" rx="1.6" ry="0.8" transform="rotate(-3 369.2 360.5)" fill="#ff7000"/><ellipse cx="378.1" cy="370.2" rx="0.8" ry="0.5" transform="rotate(4 378.1 370.2)" fill="#ffe200"/><ellipse cx="370.8" cy="370.3" rx="1.3" ry="0.6" transform="rotate(14 370.8 370.3)" fill="#ffa800"/><ellipse cx="372.9" cy="369.1" rx="0.8" ry="0.6" transform="rotate(14 372.9 369.1)" fill="#ff7000"/><ellipse cx="378.2" cy="368.1" rx="1.0" ry="0.5" transform="rotate(8 378.2 368.1)" fill="#ffe200"/><ellipse cx="375.3" cy="369.0" rx="0.8" ry="0.8" transform="rotate(19 375.3 369.0)" fill="#ffe200"/><ellipse cx="369.4" cy="368.1" rx="0.8" ry="0.6" transform="rotate(-1 369.4 368.1)" fill="#ffa800"/><ellipse cx="376.0" cy="369.8" rx="1.0" ry="0.6" transform="rotate(10 376.0 369.8)" fill="#ffe200"/><ellipse cx="371.3" cy="368.6" rx="0.8" ry="0.8" transform="rotate(17 371.3 368.6)" fill="#ffe200"/><ellipse cx="374.5" cy="369.9" rx="0.8" ry="0.8" transform="rotate(17 374.5 369.9)" fill="#ff7000"/><ellipse cx="369.6" cy="369.8" rx="1.3" ry="0.6" transform="rotate(-19 369.6 369.8)" fill="#ffe200"/><ellipse cx="369.0" cy="367.7" rx="1.3" ry="0.5" transform="rotate(15 369.0 367.7)" fill="#ffa800"/><ellipse cx="378.6" cy="367.5" rx="1.6" ry="0.8" transform="rotate(-13 378.6 367.5)" fill="#ffa800"/><ellipse cx="372.5" cy="369.4" rx="0.8" ry="1.0" transform="rotate(4 372.5 369.4)" fill="#ffa800"/><ellipse cx="377.3" cy="370.4" rx="1.6" ry="0.6" transform="rotate(-10 377.3 370.4)" fill="#ffa800"/><ellipse cx="88.2" cy="238.6" rx="4.0" ry="2.0" transform="rotate(10 88.2 238.6)" fill="#84cd00"/><ellipse cx="104.0" cy="243.4" rx="2.0" ry="1.5" transform="rotate(40 104.0 243.4)" fill="#84cd00"/><ellipse cx="102.0" cy="253.6" rx="2.5" ry="1.0" transform="rotate(50 102.0 253.6)" fill="#84cd00"/><ellipse cx="104.5" cy="257.7" rx="2.0" ry="1.5" transform="rotate(50 104.5 257.7)" fill="#84cd00"/><ellipse cx="125.0" cy="280.0" rx="1.6" ry="2.0" transform="rotate(40 125.0 280.0)" fill="#b4e400"/><ellipse cx="93.3" cy="231.0" rx="0.8" ry="2.5" transform="rotate(0 93.3 231.0)" fill="#b4e400"/><ellipse cx="83.0" cy="229.0" rx="1.2" ry="1.0" transform="rotate(0 83.0 229.0)" fill="#b4e400"/><ellipse cx="142.5" cy="298.7" rx="3.0" ry="1.5" transform="rotate(0 142.5 298.7)" fill="#84cd00"/><ellipse cx="155.8" cy="298.1" rx="2.0" ry="2.0" transform="rotate(0 155.8 298.1)" fill="#84cd00"/><ellipse cx="168.0" cy="310.6" rx="3.0" ry="2.0" transform="rotate(20 168.0 310.6)" fill="#58b400"/><ellipse cx="190.2" cy="312.1" rx="2.5" ry="1.5" transform="rotate(20 190.2 312.1)" fill="#84cd00"/><ellipse cx="192.6" cy="324.4" rx="2.5" ry="2.0" transform="rotate(0 192.6 324.4)" fill="#84cd00"/><ellipse cx="201.9" cy="319.7" rx="2.0" ry="1.5" transform="rotate(30 201.9 319.7)" fill="#84cd00"/><ellipse cx="204.2" cy="321.5" rx="1.5" ry="1.5" transform="rotate(0 204.2 321.5)" fill="#84cd00"/><ellipse cx="219.3" cy="328.2" rx="2.5" ry="1.0" transform="rotate(30 219.3 328.2)" fill="#b4e400"/><ellipse cx="226.4" cy="331.7" rx="2.0" ry="1.0" transform="rotate(30 226.4 331.7)" fill="#b4e400"/><ellipse cx="231.6" cy="336.9" rx="2.0" ry="1.0" transform="rotate(30 231.6 336.9)" fill="#84cd00"/><ellipse cx="218.2" cy="340.4" rx="1.5" ry="1.0" transform="rotate(0 218.2 340.4)" fill="#ff7000"/><ellipse cx="239.8" cy="341.0" rx="1.2" ry="1.0" transform="rotate(0 239.8 341.0)" fill="#ff7000"/><ellipse cx="236.9" cy="351.0" rx="1.5" ry="1.2" transform="rotate(60 236.9 351.0)" fill="#ffa800"/><ellipse cx="242.1" cy="351.0" rx="1.2" ry="1.5" transform="rotate(60 242.1 351.0)" fill="#ffe200"/><ellipse cx="259.6" cy="348.0" rx="1.5" ry="1.2" transform="rotate(0 259.6 348.0)" fill="#ff7000"/><ellipse cx="256.1" cy="355.0" rx="2.0" ry="1.5" transform="rotate(20 256.1 355.0)" fill="#ffa800"/><ellipse cx="263.7" cy="360.3" rx="1.5" ry="1.0" transform="rotate(20 263.7 360.3)" fill="#ffe200"/><ellipse cx="282.4" cy="355.6" rx="1.5" ry="1.0" transform="rotate(20 282.4 355.6)" fill="#ff7000"/><ellipse cx="285.9" cy="358.5" rx="2.0" ry="1.5" transform="rotate(20 285.9 358.5)" fill="#ffe200"/><ellipse cx="74.0" cy="246.0" rx="1.8" ry="1.2" transform="rotate(40 74.0 246.0)" fill="#b4e400"/><ellipse cx="66.0" cy="252.0" rx="1.5" ry="1.0" transform="rotate(40 66.0 252.0)" fill="#b4e400"/><ellipse cx="83.0" cy="241.0" rx="1.5" ry="1.0" transform="rotate(0 83.0 241.0)" fill="#b4e400"/><ellipse cx="73.0" cy="244.0" rx="0.8" ry="0.6" transform="rotate(0 73.0 244.0)" fill="#ffa800"/><ellipse cx="541.0" cy="305.0" rx="4.0" ry="2.0" transform="rotate(-38 541.0 305.0)" fill="#e6f500"/><ellipse cx="548.0" cy="300.0" rx="3.0" ry="1.8" transform="rotate(-38 548.0 300.0)" fill="#e6f500"/><ellipse cx="570.0" cy="276.2" rx="2.5" ry="2.5" transform="rotate(0 570.0 276.2)" fill="#e6f500"/><ellipse cx="559.3" cy="301.8" rx="1.8" ry="1.2" transform="rotate(0 559.3 301.8)" fill="#ffa800"/><ellipse cx="579.5" cy="265.5" rx="2.0" ry="2.0" transform="rotate(0 579.5 265.5)" fill="#ffa800"/><ellipse cx="592.2" cy="258.4" rx="1.6" ry="1.6" transform="rotate(0 592.2 258.4)" fill="#ffa800"/><ellipse cx="605.5" cy="260.5" rx="3.5" ry="0.9" transform="rotate(-28 605.5 260.5)" fill="#ffa800"/><ellipse cx="401.0" cy="356.0" rx="2.5" ry="1.2" transform="rotate(-10 401.0 356.0)" fill="#e6f500"/><ellipse cx="412.0" cy="352.5" rx="2.0" ry="1.0" transform="rotate(-10 412.0 352.5)" fill="#e6f500"/><ellipse cx="432.0" cy="352.0" rx="3.0" ry="1.2" transform="rotate(-10 432.0 352.0)" fill="#e6f500"/><ellipse cx="442.0" cy="360.0" rx="2.0" ry="1.0" transform="rotate(-10 442.0 360.0)" fill="#ffe200"/><ellipse cx="464.0" cy="350.0" rx="2.0" ry="1.5" transform="rotate(-20 464.0 350.0)" fill="#e6f500"/>
<path d="M55.3 257.0 C56.4 255.8 59.6 252.5 62.0 249.9 C64.4 247.3 67.5 243.4 69.8 241.5 C72.1 239.6 74.1 239.3 76.0 238.2 C77.9 237.1 79.3 235.8 81.0 235.0 C82.7 234.2 84.4 233.7 86.0 233.6 C87.6 233.5 89.0 233.8 90.5 234.5 C92.0 235.2 93.3 235.8 95.2 237.6 C97.1 239.3 99.5 242.1 102.0 245.0 C104.5 247.9 107.2 251.9 110.0 255.3 C112.8 258.7 115.8 261.8 119.1 265.6 C122.4 269.4 126.0 273.4 130.0 278.0 C134.0 282.6 139.7 289.8 142.9 293.3 C146.1 296.8 147.2 297.4 149.0 299.0 C150.8 300.6 151.8 301.5 153.8 302.6 C155.9 303.7 157.8 304.1 161.3 305.5 C164.8 306.9 170.2 308.9 175.0 311.0 C179.8 313.1 186.2 316.1 190.4 318.2 C194.6 320.3 196.2 321.3 200.0 323.6 C203.8 325.9 209.6 329.6 213.4 331.8 C217.2 334.0 218.8 334.5 222.6 336.6 C226.4 338.7 231.1 342.1 236.3 344.4 C241.5 346.7 248.8 348.7 253.9 350.6 C259.1 352.5 262.8 354.1 267.2 355.7 C271.6 357.3 276.2 359.0 280.0 360.4 C283.8 361.8 286.6 363.2 290.2 363.9 C293.8 364.6 296.3 364.6 301.9 364.8 C307.5 365.0 316.9 365.1 323.8 365.2 C330.7 365.3 337.2 365.5 343.5 365.5 C349.8 365.5 357.4 365.3 361.8 365.2 C366.2 365.1 367.4 364.8 370.2 364.6 C373.0 364.5 374.0 364.6 378.8 364.3 C383.6 364.0 393.4 363.4 399.2 362.8 C405.0 362.2 408.9 361.5 413.8 360.7 C418.7 359.9 423.5 359.0 428.4 358.0 C433.3 357.0 437.9 356.2 443.0 354.8 C448.1 353.4 454.2 351.3 459.0 349.4 C463.8 347.5 467.2 345.5 472.0 343.2 C476.8 340.9 482.1 337.8 487.6 335.3 C493.1 332.8 499.7 330.5 505.0 328.3 C510.3 326.1 514.0 324.7 519.4 322.1 C524.8 319.5 532.0 316.0 537.1 312.9 C542.2 309.8 546.1 306.7 549.9 303.3 C553.7 299.9 556.4 296.1 560.0 292.5 C563.6 288.9 568.7 284.4 571.6 281.8 C574.5 279.2 575.2 279.1 577.2 277.1 C579.2 275.1 581.7 271.9 583.7 269.6 C585.7 267.3 587.4 265.0 589.3 263.1 C591.2 261.2 593.1 259.7 595.0 258.4 C596.9 257.1 598.6 256.0 600.6 255.1 C602.6 254.2 604.9 253.5 607.1 252.8 C609.3 252.1 611.4 251.5 613.7 251.1 C616.1 250.7 617.6 250.5 621.2 250.2 C624.8 249.9 629.7 249.9 635.2 249.3 C640.7 248.7 651.0 247.2 654.2 246.8" fill="none" stroke="#9e22b4" stroke-width="1.6" stroke-linejoin="round"/>
<circle cx="56.8" cy="258.8" r="3.45" fill="#000"/><circle cx="222.6" cy="336.4" r="3.45" fill="#000"/><circle cx="370.2" cy="364.6" r="3.45" fill="#000"/><circle cx="519.4" cy="322.1" r="3.45" fill="#000"/>
<circle cx="69.6" cy="241.5" r="3.1" fill="#ff0000"/><circle cx="76.0" cy="238.3" r="3.1" fill="#ff0000"/><circle cx="110.0" cy="255.3" r="3.1" fill="#ff0000"/><circle cx="119.1" cy="265.6" r="3.1" fill="#ff0000"/><circle cx="151.2" cy="300.5" r="3.1" fill="#ff0000"/><circle cx="153.9" cy="303.4" r="3.1" fill="#ff0000"/><circle cx="190.3" cy="318.0" r="3.1" fill="#ff0000"/><circle cx="193.3" cy="320.7" r="3.1" fill="#ff0000"/><circle cx="216.0" cy="332.6" r="3.1" fill="#ff0000"/><circle cx="219.7" cy="333.4" r="3.1" fill="#ff0000"/><circle cx="226.0" cy="337.8" r="3.1" fill="#ff0000"/><circle cx="228.6" cy="339.2" r="3.1" fill="#ff0000"/><circle cx="231.4" cy="341.0" r="3.1" fill="#ff0000"/><circle cx="234.2" cy="343.2" r="3.1" fill="#ff0000"/><circle cx="267.2" cy="355.7" r="3.1" fill="#ff0000"/><circle cx="289.6" cy="363.8" r="3.1" fill="#ff0000"/><circle cx="293.1" cy="364.4" r="3.1" fill="#ff0000"/><circle cx="315.8" cy="365.3" r="3.1" fill="#ff0000"/><circle cx="319.4" cy="365.3" r="3.1" fill="#ff0000"/><circle cx="344.3" cy="365.5" r="3.1" fill="#ff0000"/><circle cx="356.6" cy="365.5" r="3.1" fill="#ff0000"/><circle cx="378.1" cy="364.6" r="3.1" fill="#ff0000"/><circle cx="419.6" cy="359.9" r="3.1" fill="#ff0000"/><circle cx="425.8" cy="358.6" r="3.1" fill="#ff0000"/><circle cx="459.0" cy="349.3" r="3.1" fill="#ff0000"/><circle cx="488.6" cy="334.9" r="3.1" fill="#ff0000"/><circle cx="496.6" cy="333.0" r="3.1" fill="#ff0000"/><circle cx="505.3" cy="327.9" r="3.1" fill="#ff0000"/><circle cx="511.7" cy="326.0" r="3.1" fill="#ff0000"/><circle cx="571.9" cy="281.1" r="3.1" fill="#ff0000"/><circle cx="577.0" cy="276.9" r="3.1" fill="#ff0000"/><circle cx="420.3" cy="359.6" r="3.1" fill="#ff0000"/><circle cx="425.5" cy="358.7" r="3.1" fill="#ff0000"/>
<rect x="19" y="19.3" width="646.8" height="548.5" fill="none" stroke="#262626" stroke-width="1.7"/>
<!-- axis labels -->
<text x="38" y="11.2" text-anchor="middle">120°30'</text>
<text x="209.5" y="11.2" text-anchor="middle">120°45'</text>
<text x="381.5" y="11.2" text-anchor="middle">121°</text>
<text x="552.5" y="11.2" text-anchor="middle">121°15'</text>
<text x="38" y="586" text-anchor="middle">120°30'</text>
<text x="210" y="586" text-anchor="middle">120°45'</text>
<text x="381.5" y="586" text-anchor="middle">121°</text>
<text x="553.5" y="586" text-anchor="middle">121°15'</text>
<text transform="translate(11,136.5) rotate(-90)" text-anchor="middle">37°</text>
<text transform="translate(11,308) rotate(-90)" text-anchor="middle">36°45'</text>
<text transform="translate(11,479.5) rotate(-90)" text-anchor="middle">36°30'</text>
<text transform="translate(684,136.5) rotate(-90)" text-anchor="middle">37°</text>
<text transform="translate(684,308) rotate(-90)" text-anchor="middle">36°45'</text>
<text transform="translate(684,479.5) rotate(-90)" text-anchor="middle">36°30'</text>
<!-- place labels -->
<text x="48.5" y="283.5">Laixi</text>
<text x="208" y="362.7">DK30</text>
<text x="358" y="383.0">DK50</text>
<text x="524" y="335.8">Haiyang</text>
<!-- north arrow -->
<text x="0" y="0" text-anchor="middle" transform="translate(628.6,41.6) scale(0.95,1)" style="font-family:'Liberation Sans',sans-serif;font-size:20.2px;fill:#000;stroke:#000;stroke-width:0.45px">N</text>
<path d="M628.2 45.6 L615 90 L628.2 73.4 Z" fill="#000"/>
<path d="M628.2 45.6 L641.6 90 L628.2 73.4 Z" fill="#fff" stroke="#000" stroke-width="1.3" stroke-linejoin="miter"/>
<path d="M628.2 45.6 L615 90 L628.2 73.4 Z" fill="#000" stroke="#000" stroke-width="0.6"/>
<!-- scale bar -->
<text x="52" y="540.8" text-anchor="middle">0</text>
<text x="82.8" y="540.8" text-anchor="middle">5</text>
<text x="113.5" y="540.8" text-anchor="middle">10</text>
<text x="168.5" y="540.8">20 Km</text>
<path d="M52 547.5 V557.8 H175.6 V547.5" fill="none" stroke="#222" stroke-width="1.6"/><line x1="67.4" y1="550.0" x2="67.4" y2="557.8" stroke="#222" stroke-width="1.6"/><line x1="82.8" y1="550.0" x2="82.8" y2="557.8" stroke="#222" stroke-width="1.6"/><line x1="98.2" y1="550.0" x2="98.2" y2="557.8" stroke="#222" stroke-width="1.6"/><line x1="113.5" y1="547.5" x2="113.5" y2="557.8" stroke="#222" stroke-width="1.6"/><line x1="128.9" y1="550.0" x2="128.9" y2="557.8" stroke="#222" stroke-width="1.6"/><line x1="144.3" y1="550.0" x2="144.3" y2="557.8" stroke="#222" stroke-width="1.6"/><line x1="159.7" y1="550.0" x2="159.7" y2="557.8" stroke="#222" stroke-width="1.6"/>
<!-- legend -->
<text x="390.6" y="430.8">Velocity (mm/a)</text>
<circle cx="500.9" cy="426.8" r="1.9" fill="#ff0000"/>
<text x="509.6" y="430.8">Level points</text>
<rect x="397.3" y="445.0" width="34" height="16.8" fill="#ff0000"/><rect x="531.7" y="445.0" width="34" height="16.8" fill="#e6f500"/><text x="438.5" y="458.0">-41.47 - -17.32</text><text x="573" y="458.0">-1.35 - 1.12</text><rect x="397.3" y="469.0" width="34" height="16.8" fill="#ff3f00"/><rect x="531.7" y="469.0" width="34" height="16.8" fill="#b4e400"/><text x="438.5" y="482.0">-17.32 - -10.58</text><text x="573" y="482.0">1.12 - 3.60</text><rect x="397.3" y="493.0" width="34" height="16.8" fill="#ff7000"/><rect x="531.7" y="493.0" width="34" height="16.8" fill="#84cd00"/><text x="438.5" y="506.0">-10.58 - -6.680</text><text x="573" y="506.0">3.60 - 7.15</text><rect x="397.3" y="517.0" width="34" height="16.8" fill="#ffa800"/><rect x="531.7" y="517.0" width="34" height="16.8" fill="#58b400"/><text x="438.5" y="530.0">-6.68 - -3.84</text><text x="573" y="530.0">7.15 - 14.24</text><rect x="397.3" y="541.0" width="34" height="16.8" fill="#ffe200"/><rect x="531.7" y="541.0" width="34" height="16.8" fill="#00962d"/><text x="438.5" y="554.0">-3.84 - -1.35</text><text x="573" y="554.0">14.24 - 23.57</text>
</svg>
</body></html>
